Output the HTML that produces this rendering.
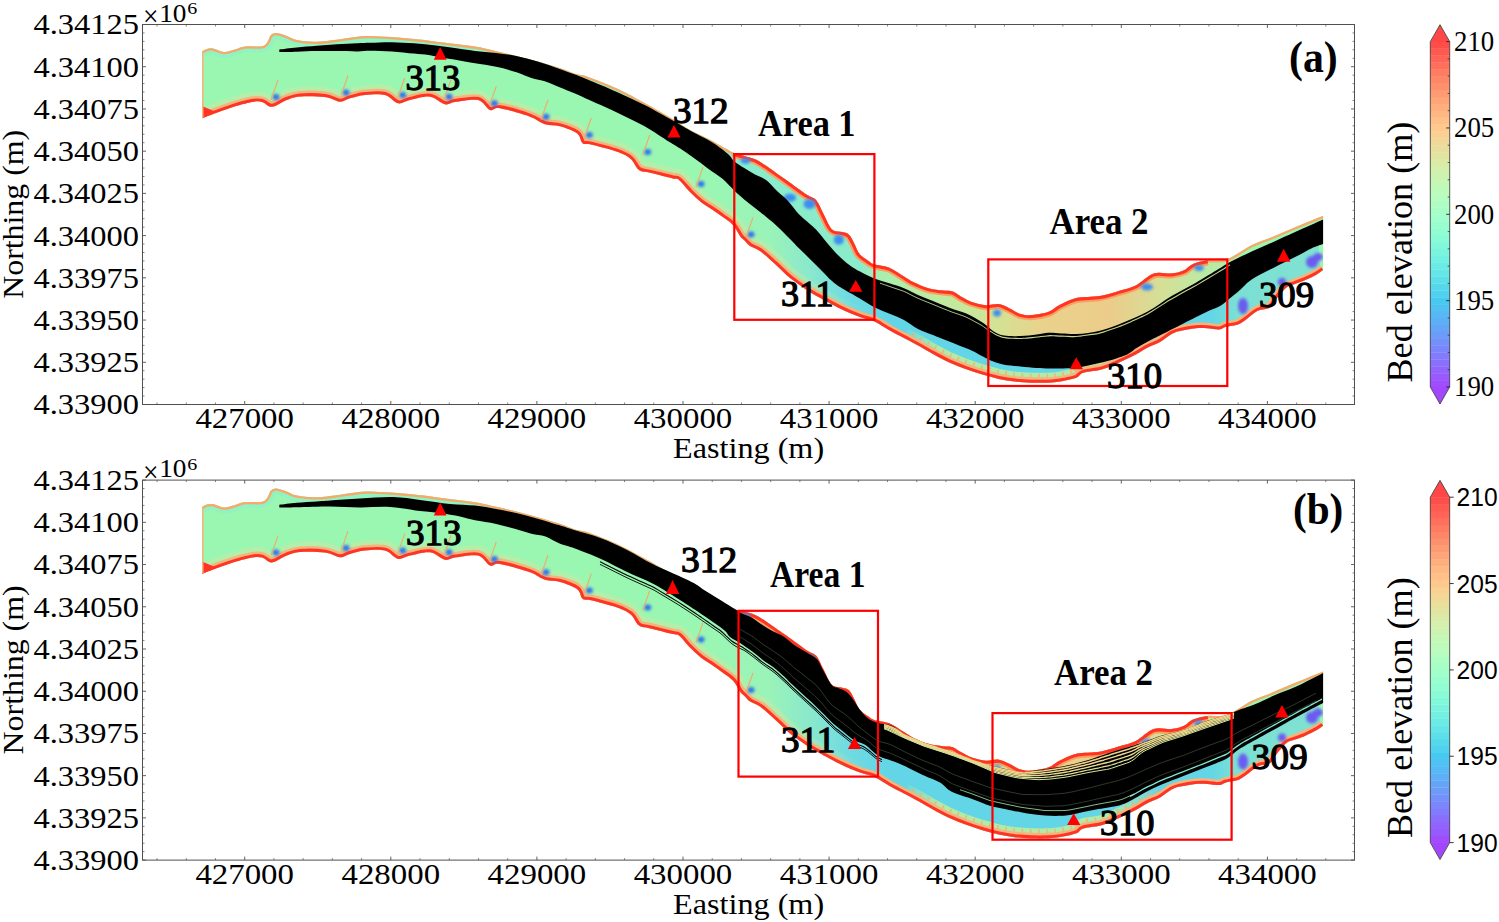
<!DOCTYPE html>
<html><head><meta charset="utf-8"><style>
html,body{margin:0;padding:0;background:#fff;}
svg{display:block;}
.tk{font-family:"Liberation Serif",serif;font-size:29px;fill:#000;}
.tks{font-family:"Liberation Sans",sans-serif;font-size:26px;fill:#000;}
.tnr{font-family:"Liberation Serif",serif;font-size:36.7px;fill:#000;}
.lb{font-family:"Liberation Serif",serif;font-weight:bold;fill:#000;}
.lbn{font-family:"Liberation Serif",serif;font-weight:normal;fill:#000;stroke:#000;stroke-width:1.3px;}
</style></head><body>
<svg width="1499" height="922" viewBox="0 0 1499 922">
<rect width="1499" height="922" fill="#fff"/>
<defs><clipPath id="rca"><path d="M202.0,51.5 C202.8,51.1 205.2,49.5 207.0,49.0 C208.8,48.5 210.2,48.0 213.0,48.5 C215.8,49.0 220.3,51.8 224.0,52.0 C227.7,52.2 231.5,50.4 235.0,49.5 C238.5,48.6 240.7,47.0 245.0,46.5 C249.3,46.0 257.5,46.9 261.0,46.5 C264.5,46.1 264.8,45.1 266.0,44.0 C267.2,42.9 267.7,41.5 268.5,40.0 C269.3,38.5 269.6,36.2 271.0,35.0 C272.4,33.8 274.1,32.8 276.7,33.0 C279.3,33.2 283.4,34.8 286.7,36.0 C290.0,37.2 291.7,39.0 296.7,40.0 C301.7,41.0 310.0,41.8 316.7,41.7 C323.4,41.7 331.1,40.4 336.7,39.7 C342.2,39.0 344.4,38.3 350.0,37.7 C355.6,37.1 359.3,35.8 370.0,36.0 C380.7,36.2 401.8,37.8 414.0,38.9 C426.2,40.0 433.2,41.3 443.4,42.6 C453.6,43.9 466.2,45.2 475.0,46.6 C483.8,48.0 489.1,49.6 496.2,51.2 C503.2,52.8 510.2,54.4 517.3,56.2 C524.3,58.0 531.5,59.8 538.5,61.8 C545.5,63.8 553.5,66.1 559.6,68.1 C565.7,70.1 570.2,72.3 575.0,73.8 C579.8,75.3 581.3,74.5 588.2,76.9 C595.1,79.3 607.0,83.9 616.4,88.2 C625.8,92.5 635.2,97.8 644.6,103.0 C654.0,108.2 665.2,114.7 672.8,119.2 C680.4,123.7 683.5,126.4 690.0,130.0 C696.5,133.6 704.5,137.0 711.7,140.8 C718.9,144.6 728.0,150.3 733.4,152.8 C738.8,155.3 740.6,154.9 744.2,156.0 C747.8,157.1 751.4,157.7 755.0,159.3 C758.6,160.9 762.4,163.5 766.0,165.8 C769.6,168.2 773.2,170.9 776.8,173.4 C780.4,175.9 782.7,177.5 787.6,181.0 C792.5,184.5 801.3,191.1 806.0,194.3 C810.7,197.5 813.2,196.9 816.0,200.0 C818.8,203.1 820.8,208.8 823.0,213.0 C825.2,217.2 827.3,222.3 829.0,225.2 C830.7,228.1 831.2,229.2 833.4,230.4 C835.6,231.6 839.5,231.4 842.1,232.1 C844.7,232.8 847.0,232.8 849.0,234.7 C851.0,236.6 852.5,240.2 854.2,243.4 C855.9,246.6 857.1,250.9 859.4,253.8 C861.7,256.7 865.6,258.9 868.1,260.7 C870.6,262.4 870.7,263.1 874.2,264.3 C877.7,265.5 884.3,265.7 889.3,267.7 C894.3,269.7 899.9,274.1 904.0,276.5 C908.1,278.9 909.6,280.4 913.7,282.3 C917.8,284.2 923.5,286.8 928.4,288.2 C933.3,289.6 938.9,290.0 943.0,290.6 C947.1,291.2 949.8,290.6 952.8,291.6 C955.8,292.6 957.6,294.8 960.8,296.5 C963.9,298.2 967.5,300.4 971.7,301.9 C975.9,303.3 981.3,304.8 985.8,305.2 C990.3,305.6 994.8,303.6 998.8,304.1 C1002.8,304.6 1006.1,306.8 1009.7,308.4 C1013.3,310.0 1016.7,312.8 1020.5,313.9 C1024.3,315.0 1027.9,315.4 1032.6,315.0 C1037.3,314.6 1044.3,313.3 1048.8,311.7 C1053.3,310.1 1054.9,307.4 1059.5,305.1 C1064.1,302.8 1069.7,299.6 1076.4,298.1 C1083.2,296.6 1093.0,297.3 1100.0,296.1 C1107.0,294.9 1112.7,292.8 1118.7,291.0 C1124.7,289.2 1130.0,288.3 1135.8,285.4 C1141.6,282.5 1147.7,275.5 1153.7,273.5 C1159.7,271.5 1166.6,274.0 1171.6,273.5 C1176.6,273.0 1179.9,272.1 1183.5,270.5 C1187.1,268.9 1189.1,265.6 1193.1,263.9 C1197.1,262.2 1201.7,261.1 1207.4,260.3 C1213.1,259.5 1219.7,261.6 1227.1,259.1 C1234.5,256.6 1244.0,248.9 1251.7,245.1 C1259.4,241.3 1266.2,239.5 1273.4,236.5 C1280.6,233.5 1286.8,230.6 1295.1,227.2 C1303.4,223.8 1318.4,217.7 1323.1,215.8 L1323.1,270.1 C1322.0,270.8 1319.7,272.8 1316.8,274.4 C1313.9,276.0 1309.5,278.2 1305.9,279.8 C1302.3,281.4 1298.2,282.7 1295.0,284.0 C1291.8,285.3 1289.4,285.1 1286.4,287.4 C1283.4,289.7 1279.7,294.6 1277.0,298.0 C1274.3,301.4 1273.2,305.4 1270.0,307.5 C1266.8,309.6 1261.8,308.7 1257.7,310.8 C1253.6,312.9 1248.8,317.7 1245.5,320.0 C1242.2,322.3 1240.5,323.5 1238.0,324.5 C1235.5,325.5 1232.5,325.6 1230.4,326.0 C1228.3,326.4 1227.2,326.5 1225.3,327.1 C1223.4,327.7 1222.3,329.3 1219.3,329.5 C1216.3,329.7 1211.4,328.5 1207.4,328.3 C1203.4,328.1 1200.1,327.9 1195.5,328.3 C1190.9,328.8 1184.0,330.1 1180.0,331.0 C1176.0,331.9 1174.9,332.2 1171.6,334.0 C1168.3,335.8 1164.0,339.8 1160.0,342.0 C1156.0,344.2 1152.2,345.1 1147.7,347.4 C1143.2,349.7 1140.0,352.4 1132.8,355.9 C1125.6,359.4 1112.8,365.8 1104.6,368.6 C1096.4,371.4 1088.1,371.3 1083.4,372.8 C1078.7,374.3 1080.3,376.2 1076.4,377.7 C1072.5,379.1 1064.7,380.7 1060.0,381.5 C1055.3,382.3 1053.0,382.5 1048.2,382.7 C1043.4,382.9 1036.8,382.9 1031.3,382.7 C1025.8,382.5 1020.4,382.2 1015.0,381.6 C1009.6,381.0 1004.2,380.1 998.8,378.9 C993.4,377.7 987.9,376.2 982.5,374.6 C977.1,373.0 971.7,371.2 966.3,369.2 C960.9,367.2 955.5,365.2 950.0,362.7 C944.5,360.2 938.0,356.7 933.0,354.0 C928.0,351.3 924.8,349.2 920.0,346.5 C915.2,343.8 909.1,340.7 904.0,338.0 C898.9,335.3 894.2,333.0 889.3,330.2 C884.4,327.4 879.5,323.6 874.6,321.4 C869.7,319.2 865.8,319.2 860.0,317.0 C854.2,314.8 846.8,311.7 840.0,308.4 C833.2,305.1 824.7,300.4 819.0,297.2 C813.3,294.0 810.8,292.6 806.0,289.4 C801.2,286.2 795.2,282.2 790.0,278.0 C784.8,273.8 780.0,268.5 775.0,264.0 C770.0,259.5 764.2,254.0 760.0,251.0 C755.8,248.0 752.5,247.7 750.0,246.0 C747.5,244.3 746.7,242.7 745.0,241.0 C743.3,239.3 741.9,238.6 740.0,236.0 C738.1,233.4 736.3,228.6 733.4,225.4 C730.5,222.2 726.1,219.5 722.5,216.8 C718.9,214.1 715.3,211.7 711.7,209.2 C708.1,206.7 704.4,204.9 700.8,202.0 C697.2,199.1 693.6,195.7 690.0,192.0 C686.4,188.3 681.9,182.3 679.0,180.0 C676.1,177.7 677.6,179.6 672.8,178.4 C668.0,177.2 655.8,174.2 650.2,172.8 C644.6,171.4 642.3,172.3 639.0,170.0 C635.7,167.7 634.3,161.8 630.5,158.7 C626.7,155.6 623.0,153.9 616.4,151.6 C609.8,149.2 596.6,146.0 591.0,144.6 C585.4,143.2 584.9,145.1 582.6,143.2 C580.3,141.3 580.8,136.1 577.0,133.3 C573.2,130.5 565.3,127.8 560.0,126.3 C554.7,124.8 550.0,125.8 545.0,124.2 C540.0,122.6 537.5,119.4 530.0,116.7 C522.5,114.0 506.7,109.4 500.0,108.3 C493.3,107.2 493.7,111.4 490.0,110.0 C486.3,108.6 483.8,101.3 478.0,100.0 C472.2,98.7 460.5,101.3 455.0,102.0 C449.5,102.7 449.2,105.1 445.0,104.2 C440.8,103.3 435.8,97.4 430.0,96.7 C424.2,96.0 415.3,98.9 410.0,100.0 C404.7,101.1 402.2,104.1 398.0,103.3 C393.8,102.5 390.5,96.4 385.0,95.0 C379.5,93.6 370.8,94.5 365.0,95.0 C359.2,95.5 354.2,97.2 350.0,98.3 C345.8,99.4 344.2,101.9 340.0,101.7 C335.8,101.5 331.7,97.9 325.0,97.0 C318.3,96.1 306.4,95.9 300.0,96.4 C293.6,96.9 291.5,98.2 286.8,99.9 C282.1,101.6 276.1,106.5 272.0,106.8 C267.9,107.1 265.3,102.8 262.0,102.0 C258.7,101.2 257.3,101.0 252.0,102.0 C246.7,103.0 238.3,105.3 230.0,108.0 C221.7,110.7 206.7,116.5 202.0,118.2Z"/></clipPath><linearGradient id="upa" gradientUnits="userSpaceOnUse" x1="700" y1="0" x2="1240" y2="0"><stop offset="0.000" stop-color="#9af7b2"/><stop offset="0.065" stop-color="#8aeccb"/><stop offset="0.296" stop-color="#8aeccb"/><stop offset="0.333" stop-color="#a8efb0"/><stop offset="0.437" stop-color="#bdeba0"/><stop offset="0.535" stop-color="#cfe596"/><stop offset="0.633" stop-color="#e9d28c"/><stop offset="0.759" stop-color="#eccc8a"/><stop offset="0.859" stop-color="#d4e098"/><stop offset="0.950" stop-color="#b6eca6"/><stop offset="1.000" stop-color="#a8efb0"/></linearGradient><linearGradient id="loa" gradientUnits="userSpaceOnUse" x1="700" y1="0" x2="1323" y2="0"><stop offset="0.000" stop-color="#9af7b2"/><stop offset="0.112" stop-color="#9af3b8"/><stop offset="0.177" stop-color="#8ae8cc"/><stop offset="0.241" stop-color="#6edae2"/><stop offset="0.305" stop-color="#62d6e6"/><stop offset="0.82" stop-color="#62d6e6"/><stop offset="0.86" stop-color="#7ae0d4"/><stop offset="1.000" stop-color="#80e2d0"/></linearGradient><filter id="bla" x="-50%" y="-50%" width="200%" height="200%"><feGaussianBlur stdDeviation="1.5"/></filter></defs>
<g clip-path="url(#rca)">
<rect x="195" y="20" width="1135" height="380" fill="#9af7b2"/>
<path d="M202.0,51.5 C202.8,51.1 205.2,49.5 207.0,49.0 C208.8,48.5 210.2,48.0 213.0,48.5 C215.8,49.0 220.3,51.8 224.0,52.0 C227.7,52.2 231.5,50.4 235.0,49.5 C238.5,48.6 240.7,47.0 245.0,46.5 C249.3,46.0 257.5,46.9 261.0,46.5 C264.5,46.1 264.8,45.1 266.0,44.0 C267.2,42.9 267.7,41.5 268.5,40.0 C269.3,38.5 269.6,36.2 271.0,35.0 C272.4,33.8 274.1,32.8 276.7,33.0 C279.3,33.2 283.4,34.8 286.7,36.0 C290.0,37.2 291.7,39.0 296.7,40.0 C301.7,41.0 310.0,41.8 316.7,41.7 C323.4,41.7 331.1,40.4 336.7,39.7 C342.2,39.0 344.4,38.3 350.0,37.7 C355.6,37.1 359.3,35.8 370.0,36.0 C380.7,36.2 401.8,37.8 414.0,38.9 C426.2,40.0 433.2,41.3 443.4,42.6 C453.6,43.9 466.2,45.2 475.0,46.6 C483.8,48.0 489.1,49.6 496.2,51.2 C503.2,52.8 510.2,54.4 517.3,56.2 C524.3,58.0 531.5,59.8 538.5,61.8 C545.5,63.8 553.5,66.1 559.6,68.1 C565.7,70.1 570.2,72.3 575.0,73.8 C579.8,75.3 581.3,74.5 588.2,76.9 C595.1,79.3 607.0,83.9 616.4,88.2 C625.8,92.5 635.2,97.8 644.6,103.0 C654.0,108.2 665.2,114.7 672.8,119.2 C680.4,123.7 683.5,126.4 690.0,130.0 C696.5,133.6 704.5,137.0 711.7,140.8 C718.9,144.6 728.0,150.3 733.4,152.8 C738.8,155.3 740.6,154.9 744.2,156.0 C747.8,157.1 751.4,157.7 755.0,159.3 C758.6,160.9 762.4,163.5 766.0,165.8 C769.6,168.2 775.0,172.1 776.8,173.4" fill="none" stroke="#8ef0c6" stroke-width="12" opacity="0.8"/>
<path d="M700.0,100.0 L700.0,149.1 L706.0,152.9 L712.0,156.8 L718.0,161.1 L724.0,165.6 L730.0,171.2 L736.0,177.3 L742.0,182.0 L748.0,186.4 L754.0,190.6 L760.0,194.5 L766.0,198.4 L772.0,203.9 L778.0,209.5 L784.0,215.2 L790.0,221.2 L796.0,227.9 L802.0,234.0 L808.0,239.6 L814.0,245.4 L820.0,251.7 L826.0,258.3 L832.0,264.8 L838.0,270.2 L844.0,274.9 L850.0,279.1 L856.0,282.7 L862.0,286.2 L868.0,289.4 L874.0,292.7 L880.0,294.9 L886.0,297.2 L892.0,299.5 L898.0,301.8 L904.0,304.1 L910.0,307.5 L916.0,310.9 L922.0,313.6 L928.0,316.0 L934.0,318.5 L940.0,320.9 L946.0,323.3 L952.0,325.7 L958.0,327.9 L964.0,330.1 L970.0,332.7 L976.0,335.8 L982.0,339.1 L988.0,342.9 L994.0,346.6 L1000.0,348.7 L1006.0,350.3 L1012.0,350.7 L1018.0,351.1 L1024.0,351.3 L1030.0,351.3 L1036.0,351.3 L1042.0,351.0 L1048.0,350.7 L1054.0,350.7 L1060.0,350.8 L1066.0,350.9 L1072.0,350.8 L1078.0,350.4 L1084.0,349.6 L1090.0,348.5 L1096.0,347.5 L1102.0,346.2 L1108.0,344.4 L1114.0,342.3 L1120.0,340.3 L1126.0,338.2 L1132.0,334.8 L1138.0,331.6 L1144.0,328.5 L1150.0,325.3 L1156.0,321.8 L1162.0,318.3 L1168.0,314.9 L1174.0,311.5 L1180.0,308.4 L1186.0,305.2 L1192.0,302.1 L1198.0,298.9 L1204.0,295.6 L1210.0,292.3 L1216.0,289.2 L1222.0,285.7 L1228.0,281.5 L1234.0,277.5 L1240.0,273.6 L1240.0,200.0Z" fill="url(#upa)"/>
<path d="M700.0,149.1 L706.0,152.9 L712.0,156.8 L718.0,161.1 L724.0,165.6 L730.0,171.2 L736.0,177.3 L742.0,182.0 L748.0,186.4 L754.0,190.6 L760.0,194.5 L766.0,198.4 L772.0,203.9 L778.0,209.5 L784.0,215.2 L790.0,221.2 L796.0,227.9 L802.0,234.0 L808.0,239.6 L814.0,245.4 L820.0,251.7 L826.0,258.3 L832.0,264.8 L838.0,270.2 L844.0,274.9 L850.0,279.1 L856.0,282.7 L862.0,286.2 L868.0,289.4 L874.0,292.7 L880.0,294.9 L886.0,297.2 L892.0,299.5 L898.0,301.8 L904.0,304.1 L910.0,307.5 L916.0,310.9 L922.0,313.6 L928.0,316.0 L934.0,318.5 L940.0,320.9 L946.0,323.3 L952.0,325.7 L958.0,327.9 L964.0,330.1 L970.0,332.7 L976.0,335.8 L982.0,339.1 L988.0,342.9 L994.0,346.6 L1000.0,348.7 L1006.0,350.3 L1012.0,350.7 L1018.0,351.1 L1024.0,351.3 L1030.0,351.3 L1036.0,351.3 L1042.0,351.0 L1048.0,350.7 L1054.0,350.7 L1060.0,350.8 L1066.0,350.9 L1072.0,350.8 L1078.0,350.4 L1084.0,349.6 L1090.0,348.5 L1096.0,347.5 L1102.0,346.2 L1108.0,344.4 L1114.0,342.3 L1120.0,340.3 L1126.0,338.2 L1132.0,334.8 L1138.0,331.6 L1144.0,328.5 L1150.0,325.3 L1156.0,321.8 L1162.0,318.3 L1168.0,314.9 L1174.0,311.5 L1180.0,308.4 L1186.0,305.2 L1192.0,302.1 L1198.0,298.9 L1204.0,295.6 L1210.0,292.3 L1216.0,289.2 L1222.0,285.7 L1228.0,281.5 L1234.0,277.5 L1240.0,273.6 L1246.0,269.5 L1252.0,265.4 L1258.0,262.5 L1264.0,259.5 L1270.0,256.6 L1276.0,253.7 L1282.0,250.8 L1288.0,248.0 L1294.0,245.1 L1300.0,242.2 L1306.0,239.2 L1312.0,236.3 L1318.0,233.9 L1330.0,420.0 L700.0,420.0Z" fill="url(#loa)"/>
<defs><linearGradient id="pba" gradientUnits="userSpaceOnUse" x1="780" y1="0" x2="870" y2="0"><stop offset="0" stop-color="#c9e8a4" stop-opacity="0.55"/><stop offset="1" stop-color="#c9e8a4" stop-opacity="0"/></linearGradient></defs>
<path d="M889.3,330.2 C886.8,328.7 879.5,323.6 874.6,321.4 C869.7,319.2 865.8,319.2 860.0,317.0 C854.2,314.8 846.8,311.7 840.0,308.4 C833.2,305.1 824.7,300.4 819.0,297.2 C813.3,294.0 810.8,292.6 806.0,289.4 C801.2,286.2 795.2,282.2 790.0,278.0 C784.8,273.8 780.0,268.5 775.0,264.0 C770.0,259.5 764.2,254.0 760.0,251.0 C755.8,248.0 752.5,247.7 750.0,246.0 C747.5,244.3 746.7,242.7 745.0,241.0 C743.3,239.3 741.9,238.6 740.0,236.0 C738.1,233.4 736.3,228.6 733.4,225.4 C730.5,222.2 726.1,219.5 722.5,216.8 C718.9,214.1 715.3,211.7 711.7,209.2 C708.1,206.7 704.4,204.9 700.8,202.0 C697.2,199.1 693.6,195.7 690.0,192.0 C686.4,188.3 681.9,182.3 679.0,180.0 C676.1,177.7 677.6,179.6 672.8,178.4 C668.0,177.2 655.8,174.2 650.2,172.8 C644.6,171.4 642.3,172.3 639.0,170.0 C635.7,167.7 634.3,161.8 630.5,158.7 C626.7,155.6 623.0,153.9 616.4,151.6 C609.8,149.2 596.6,146.0 591.0,144.6 C585.4,143.2 584.9,145.1 582.6,143.2 C580.3,141.3 580.8,136.1 577.0,133.3 C573.2,130.5 565.3,127.8 560.0,126.3 C554.7,124.8 550.0,125.8 545.0,124.2 C540.0,122.6 537.5,119.4 530.0,116.7 C522.5,114.0 506.7,109.4 500.0,108.3 C493.3,107.2 493.7,111.4 490.0,110.0 C486.3,108.6 483.8,101.3 478.0,100.0 C472.2,98.7 460.5,101.3 455.0,102.0 C449.5,102.7 449.2,105.1 445.0,104.2 C440.8,103.3 435.8,97.4 430.0,96.7 C424.2,96.0 415.3,98.9 410.0,100.0 C404.7,101.1 402.2,104.1 398.0,103.3 C393.8,102.5 390.5,96.4 385.0,95.0 C379.5,93.6 370.8,94.5 365.0,95.0 C359.2,95.5 354.2,97.2 350.0,98.3 C345.8,99.4 344.2,101.9 340.0,101.7 C335.8,101.5 331.7,97.9 325.0,97.0 C318.3,96.1 306.4,95.9 300.0,96.4 C293.6,96.9 291.5,98.2 286.8,99.9 C282.1,101.6 276.1,106.5 272.0,106.8 C267.9,107.1 265.3,102.8 262.0,102.0 C258.7,101.2 257.3,101.0 252.0,102.0 C246.7,103.0 238.3,105.3 230.0,108.0 C221.7,110.7 206.7,116.5 202.0,118.2" fill="none" stroke="url(#pba)" stroke-width="20"/>
<defs><linearGradient id="paa" gradientUnits="userSpaceOnUse" x1="900" y1="0" x2="1160" y2="0"><stop offset="0" stop-color="#b2eaa8" stop-opacity="0"/><stop offset="0.15" stop-color="#b2eaa8" stop-opacity="1"/><stop offset="0.8" stop-color="#b2eaa8" stop-opacity="1"/><stop offset="1" stop-color="#b2eaa8" stop-opacity="0"/></linearGradient></defs>
<path d="M1160.0,342.0 C1158.0,342.9 1152.2,345.1 1147.7,347.4 C1143.2,349.7 1140.0,352.4 1132.8,355.9 C1125.6,359.4 1112.8,365.8 1104.6,368.6 C1096.4,371.4 1088.1,371.3 1083.4,372.8 C1078.7,374.3 1080.3,376.2 1076.4,377.7 C1072.5,379.1 1064.7,380.7 1060.0,381.5 C1055.3,382.3 1053.0,382.5 1048.2,382.7 C1043.4,382.9 1036.8,382.9 1031.3,382.7 C1025.8,382.5 1020.4,382.2 1015.0,381.6 C1009.6,381.0 1004.2,380.1 998.8,378.9 C993.4,377.7 987.9,376.2 982.5,374.6 C977.1,373.0 971.7,371.2 966.3,369.2 C960.9,367.2 955.5,365.2 950.0,362.7 C944.5,360.2 938.0,356.7 933.0,354.0 C928.0,351.3 924.8,349.2 920.0,346.5 C915.2,343.8 906.7,339.4 904.0,338.0" fill="none" stroke="url(#paa)" stroke-width="20"/>
<path d="M1160.0,342.0 C1158.0,342.9 1152.2,345.1 1147.7,347.4 C1143.2,349.7 1140.0,352.4 1132.8,355.9 C1125.6,359.4 1112.8,365.8 1104.6,368.6 C1096.4,371.4 1088.1,371.3 1083.4,372.8 C1078.7,374.3 1080.3,376.2 1076.4,377.7 C1072.5,379.1 1064.7,380.7 1060.0,381.5 C1055.3,382.3 1053.0,382.5 1048.2,382.7 C1043.4,382.9 1036.8,382.9 1031.3,382.7 C1025.8,382.5 1020.4,382.2 1015.0,381.6 C1009.6,381.0 1004.2,380.1 998.8,378.9 C993.4,377.7 987.9,376.2 982.5,374.6 C977.1,373.0 971.7,371.2 966.3,369.2 C960.9,367.2 955.5,365.2 950.0,362.7 C944.5,360.2 938.0,356.7 933.0,354.0 C928.0,351.3 924.8,349.2 920.0,346.5 C915.2,343.8 906.7,339.4 904.0,338.0" fill="none" stroke="#f4ac70" stroke-width="18" stroke-dasharray="1.6 7" opacity="0.8"/>
<path d="M1323.1,270.1 C1322.0,270.8 1319.7,272.8 1316.8,274.4 C1313.9,276.0 1309.5,278.2 1305.9,279.8 C1302.3,281.4 1298.2,282.7 1295.0,284.0 C1291.8,285.3 1289.4,285.1 1286.4,287.4 C1283.4,289.7 1279.7,294.6 1277.0,298.0 C1274.3,301.4 1273.2,305.4 1270.0,307.5 C1266.8,309.6 1261.8,308.7 1257.7,310.8 C1253.6,312.9 1248.8,317.7 1245.5,320.0 C1242.2,322.3 1240.5,323.5 1238.0,324.5 C1235.5,325.5 1232.5,325.6 1230.4,326.0 C1228.3,326.4 1227.2,326.5 1225.3,327.1 C1223.4,327.7 1222.3,329.3 1219.3,329.5 C1216.3,329.7 1211.4,328.5 1207.4,328.3 C1203.4,328.1 1200.1,327.9 1195.5,328.3 C1190.9,328.8 1184.0,330.1 1180.0,331.0 C1176.0,331.9 1174.9,332.2 1171.6,334.0 C1168.3,335.8 1164.0,339.8 1160.0,342.0 C1156.0,344.2 1152.2,345.1 1147.7,347.4 C1143.2,349.7 1140.0,352.4 1132.8,355.9 C1125.6,359.4 1112.8,365.8 1104.6,368.6 C1096.4,371.4 1088.1,371.3 1083.4,372.8 C1078.7,374.3 1080.3,376.2 1076.4,377.7 C1072.5,379.1 1064.7,380.7 1060.0,381.5 C1055.3,382.3 1053.0,382.5 1048.2,382.7 C1043.4,382.9 1036.8,382.9 1031.3,382.7 C1025.8,382.5 1020.4,382.2 1015.0,381.6 C1009.6,381.0 1004.2,380.1 998.8,378.9 C993.4,377.7 987.9,376.2 982.5,374.6 C977.1,373.0 971.7,371.2 966.3,369.2 C960.9,367.2 955.5,365.2 950.0,362.7 C944.5,360.2 938.0,356.7 933.0,354.0 C928.0,351.3 924.8,349.2 920.0,346.5 C915.2,343.8 909.1,340.7 904.0,338.0 C898.9,335.3 894.2,333.0 889.3,330.2 C884.4,327.4 879.5,323.6 874.6,321.4 C869.7,319.2 865.8,319.2 860.0,317.0 C854.2,314.8 846.8,311.7 840.0,308.4 C833.2,305.1 824.7,300.4 819.0,297.2 C813.3,294.0 810.8,292.6 806.0,289.4 C801.2,286.2 795.2,282.2 790.0,278.0 C784.8,273.8 780.0,268.5 775.0,264.0 C770.0,259.5 764.2,254.0 760.0,251.0 C755.8,248.0 752.5,247.7 750.0,246.0 C747.5,244.3 746.7,242.7 745.0,241.0 C743.3,239.3 741.9,238.6 740.0,236.0 C738.1,233.4 736.3,228.6 733.4,225.4 C730.5,222.2 726.1,219.5 722.5,216.8 C718.9,214.1 715.3,211.7 711.7,209.2 C708.1,206.7 704.4,204.9 700.8,202.0 C697.2,199.1 693.6,195.7 690.0,192.0 C686.4,188.3 681.9,182.3 679.0,180.0 C676.1,177.7 677.6,179.6 672.8,178.4 C668.0,177.2 655.8,174.2 650.2,172.8 C644.6,171.4 642.3,172.3 639.0,170.0 C635.7,167.7 634.3,161.8 630.5,158.7 C626.7,155.6 623.0,153.9 616.4,151.6 C609.8,149.2 596.6,146.0 591.0,144.6 C585.4,143.2 584.9,145.1 582.6,143.2 C580.3,141.3 580.8,136.1 577.0,133.3 C573.2,130.5 565.3,127.8 560.0,126.3 C554.7,124.8 550.0,125.8 545.0,124.2 C540.0,122.6 537.5,119.4 530.0,116.7 C522.5,114.0 506.7,109.4 500.0,108.3 C493.3,107.2 493.7,111.4 490.0,110.0 C486.3,108.6 483.8,101.3 478.0,100.0 C472.2,98.7 460.5,101.3 455.0,102.0 C449.5,102.7 449.2,105.1 445.0,104.2 C440.8,103.3 435.8,97.4 430.0,96.7 C424.2,96.0 415.3,98.9 410.0,100.0 C404.7,101.1 402.2,104.1 398.0,103.3 C393.8,102.5 390.5,96.4 385.0,95.0 C379.5,93.6 370.8,94.5 365.0,95.0 C359.2,95.5 354.2,97.2 350.0,98.3 C345.8,99.4 344.2,101.9 340.0,101.7 C335.8,101.5 331.7,97.9 325.0,97.0 C318.3,96.1 306.4,95.9 300.0,96.4 C293.6,96.9 291.5,98.2 286.8,99.9 C282.1,101.6 276.1,106.5 272.0,106.8 C267.9,107.1 265.3,102.8 262.0,102.0 C258.7,101.2 257.3,101.0 252.0,102.0 C246.7,103.0 238.3,105.3 230.0,108.0 C221.7,110.7 206.7,116.5 202.0,118.2" fill="none" stroke="#f6b37a" stroke-width="11"/>
<path d="M1323.1,270.1 C1322.0,270.8 1319.7,272.8 1316.8,274.4 C1313.9,276.0 1309.5,278.2 1305.9,279.8 C1302.3,281.4 1298.2,282.7 1295.0,284.0 C1291.8,285.3 1289.4,285.1 1286.4,287.4 C1283.4,289.7 1279.7,294.6 1277.0,298.0 C1274.3,301.4 1273.2,305.4 1270.0,307.5 C1266.8,309.6 1261.8,308.7 1257.7,310.8 C1253.6,312.9 1248.8,317.7 1245.5,320.0 C1242.2,322.3 1240.5,323.5 1238.0,324.5 C1235.5,325.5 1232.5,325.6 1230.4,326.0 C1228.3,326.4 1227.2,326.5 1225.3,327.1 C1223.4,327.7 1222.3,329.3 1219.3,329.5 C1216.3,329.7 1211.4,328.5 1207.4,328.3 C1203.4,328.1 1200.1,327.9 1195.5,328.3 C1190.9,328.8 1184.0,330.1 1180.0,331.0 C1176.0,331.9 1174.9,332.2 1171.6,334.0 C1168.3,335.8 1164.0,339.8 1160.0,342.0 C1156.0,344.2 1152.2,345.1 1147.7,347.4 C1143.2,349.7 1140.0,352.4 1132.8,355.9 C1125.6,359.4 1112.8,365.8 1104.6,368.6 C1096.4,371.4 1088.1,371.3 1083.4,372.8 C1078.7,374.3 1080.3,376.2 1076.4,377.7 C1072.5,379.1 1064.7,380.7 1060.0,381.5 C1055.3,382.3 1053.0,382.5 1048.2,382.7 C1043.4,382.9 1036.8,382.9 1031.3,382.7 C1025.8,382.5 1020.4,382.2 1015.0,381.6 C1009.6,381.0 1004.2,380.1 998.8,378.9 C993.4,377.7 987.9,376.2 982.5,374.6 C977.1,373.0 971.7,371.2 966.3,369.2 C960.9,367.2 955.5,365.2 950.0,362.7 C944.5,360.2 938.0,356.7 933.0,354.0 C928.0,351.3 924.8,349.2 920.0,346.5 C915.2,343.8 909.1,340.7 904.0,338.0 C898.9,335.3 894.2,333.0 889.3,330.2 C884.4,327.4 879.5,323.6 874.6,321.4 C869.7,319.2 865.8,319.2 860.0,317.0 C854.2,314.8 846.8,311.7 840.0,308.4 C833.2,305.1 824.7,300.4 819.0,297.2 C813.3,294.0 810.8,292.6 806.0,289.4 C801.2,286.2 795.2,282.2 790.0,278.0 C784.8,273.8 780.0,268.5 775.0,264.0 C770.0,259.5 764.2,254.0 760.0,251.0 C755.8,248.0 752.5,247.7 750.0,246.0 C747.5,244.3 746.7,242.7 745.0,241.0 C743.3,239.3 741.9,238.6 740.0,236.0 C738.1,233.4 736.3,228.6 733.4,225.4 C730.5,222.2 726.1,219.5 722.5,216.8 C718.9,214.1 715.3,211.7 711.7,209.2 C708.1,206.7 704.4,204.9 700.8,202.0 C697.2,199.1 693.6,195.7 690.0,192.0 C686.4,188.3 681.9,182.3 679.0,180.0 C676.1,177.7 677.6,179.6 672.8,178.4 C668.0,177.2 655.8,174.2 650.2,172.8 C644.6,171.4 642.3,172.3 639.0,170.0 C635.7,167.7 634.3,161.8 630.5,158.7 C626.7,155.6 623.0,153.9 616.4,151.6 C609.8,149.2 596.6,146.0 591.0,144.6 C585.4,143.2 584.9,145.1 582.6,143.2 C580.3,141.3 580.8,136.1 577.0,133.3 C573.2,130.5 565.3,127.8 560.0,126.3 C554.7,124.8 550.0,125.8 545.0,124.2 C540.0,122.6 537.5,119.4 530.0,116.7 C522.5,114.0 506.7,109.4 500.0,108.3 C493.3,107.2 493.7,111.4 490.0,110.0 C486.3,108.6 483.8,101.3 478.0,100.0 C472.2,98.7 460.5,101.3 455.0,102.0 C449.5,102.7 449.2,105.1 445.0,104.2 C440.8,103.3 435.8,97.4 430.0,96.7 C424.2,96.0 415.3,98.9 410.0,100.0 C404.7,101.1 402.2,104.1 398.0,103.3 C393.8,102.5 390.5,96.4 385.0,95.0 C379.5,93.6 370.8,94.5 365.0,95.0 C359.2,95.5 354.2,97.2 350.0,98.3 C345.8,99.4 344.2,101.9 340.0,101.7 C335.8,101.5 331.7,97.9 325.0,97.0 C318.3,96.1 306.4,95.9 300.0,96.4 C293.6,96.9 291.5,98.2 286.8,99.9 C282.1,101.6 276.1,106.5 272.0,106.8 C267.9,107.1 265.3,102.8 262.0,102.0 C258.7,101.2 257.3,101.0 252.0,102.0 C246.7,103.0 238.3,105.3 230.0,108.0 C221.7,110.7 206.7,116.5 202.0,118.2" fill="none" stroke="#ff3326" stroke-width="6"/>
<path d="M202.0,51.5 C202.8,51.1 205.2,49.5 207.0,49.0 C208.8,48.5 210.2,48.0 213.0,48.5 C215.8,49.0 220.3,51.8 224.0,52.0 C227.7,52.2 231.5,50.4 235.0,49.5 C238.5,48.6 240.7,47.0 245.0,46.5 C249.3,46.0 257.5,46.9 261.0,46.5 C264.5,46.1 264.8,45.1 266.0,44.0 C267.2,42.9 267.7,41.5 268.5,40.0 C269.3,38.5 269.6,36.2 271.0,35.0 C272.4,33.8 274.1,32.8 276.7,33.0 C279.3,33.2 283.4,34.8 286.7,36.0 C290.0,37.2 291.7,39.0 296.7,40.0 C301.7,41.0 310.0,41.8 316.7,41.7 C323.4,41.7 331.1,40.4 336.7,39.7 C342.2,39.0 344.4,38.3 350.0,37.7 C355.6,37.1 359.3,35.8 370.0,36.0 C380.7,36.2 401.8,37.8 414.0,38.9 C426.2,40.0 433.2,41.3 443.4,42.6 C453.6,43.9 466.2,45.2 475.0,46.6 C483.8,48.0 489.1,49.6 496.2,51.2 C503.2,52.8 510.2,54.4 517.3,56.2 C524.3,58.0 531.5,59.8 538.5,61.8 C545.5,63.8 553.5,66.1 559.6,68.1 C565.7,70.1 570.2,72.3 575.0,73.8 C579.8,75.3 581.3,74.5 588.2,76.9 C595.1,79.3 607.0,83.9 616.4,88.2 C625.8,92.5 635.2,97.8 644.6,103.0 C654.0,108.2 665.2,114.7 672.8,119.2 C680.4,123.7 683.5,126.4 690.0,130.0 C696.5,133.6 704.5,137.0 711.7,140.8 C718.9,144.6 728.0,150.3 733.4,152.8 C738.8,155.3 740.6,154.9 744.2,156.0 C747.8,157.1 751.4,157.7 755.0,159.3 C758.6,160.9 762.4,163.5 766.0,165.8 C769.6,168.2 773.2,170.9 776.8,173.4 C780.4,175.9 782.7,177.5 787.6,181.0 C792.5,184.5 801.3,191.1 806.0,194.3 C810.7,197.5 813.2,196.9 816.0,200.0 C818.8,203.1 820.8,208.8 823.0,213.0 C825.2,217.2 827.3,222.3 829.0,225.2 C830.7,228.1 831.2,229.2 833.4,230.4 C835.6,231.6 839.5,231.4 842.1,232.1 C844.7,232.8 847.0,232.8 849.0,234.7 C851.0,236.6 852.5,240.2 854.2,243.4 C855.9,246.6 857.1,250.9 859.4,253.8 C861.7,256.7 865.6,258.9 868.1,260.7 C870.6,262.4 870.7,263.1 874.2,264.3 C877.7,265.5 884.3,265.7 889.3,267.7 C894.3,269.7 899.9,274.1 904.0,276.5 C908.1,278.9 909.6,280.4 913.7,282.3 C917.8,284.2 923.5,286.8 928.4,288.2 C933.3,289.6 938.9,290.0 943.0,290.6 C947.1,291.2 949.8,290.6 952.8,291.6 C955.8,292.6 957.6,294.8 960.8,296.5 C963.9,298.2 967.5,300.4 971.7,301.9 C975.9,303.3 981.3,304.8 985.8,305.2 C990.3,305.6 994.8,303.6 998.8,304.1 C1002.8,304.6 1006.1,306.8 1009.7,308.4 C1013.3,310.0 1016.7,312.8 1020.5,313.9 C1024.3,315.0 1027.9,315.4 1032.6,315.0 C1037.3,314.6 1044.3,313.3 1048.8,311.7 C1053.3,310.1 1054.9,307.4 1059.5,305.1 C1064.1,302.8 1069.7,299.6 1076.4,298.1 C1083.2,296.6 1093.0,297.3 1100.0,296.1 C1107.0,294.9 1112.7,292.8 1118.7,291.0 C1124.7,289.2 1130.0,288.3 1135.8,285.4 C1141.6,282.5 1147.7,275.5 1153.7,273.5 C1159.7,271.5 1166.6,274.0 1171.6,273.5 C1176.6,273.0 1179.9,272.1 1183.5,270.5 C1187.1,268.9 1189.1,265.6 1193.1,263.9 C1197.1,262.2 1201.7,261.1 1207.4,260.3 C1213.1,259.5 1219.7,261.6 1227.1,259.1 C1234.5,256.6 1244.0,248.9 1251.7,245.1 C1259.4,241.3 1266.2,239.5 1273.4,236.5 C1280.6,233.5 1286.8,230.6 1295.1,227.2 C1303.4,223.8 1318.4,217.7 1323.1,215.8" fill="none" stroke="#f8a868" stroke-width="4.5"/>
<path d="M733.4,152.8 C735.2,153.3 740.6,154.9 744.2,156.0 C747.8,157.1 751.4,157.7 755.0,159.3 C758.6,160.9 762.4,163.5 766.0,165.8 C769.6,168.2 773.2,170.9 776.8,173.4 C780.4,175.9 782.7,177.5 787.6,181.0 C792.5,184.5 801.3,191.1 806.0,194.3 C810.7,197.5 813.2,196.9 816.0,200.0 C818.8,203.1 820.8,208.8 823.0,213.0 C825.2,217.2 827.3,222.3 829.0,225.2 C830.7,228.1 831.2,229.2 833.4,230.4 C835.6,231.6 839.5,231.4 842.1,232.1 C844.7,232.8 847.0,232.8 849.0,234.7 C851.0,236.6 852.5,240.2 854.2,243.4 C855.9,246.6 857.1,250.9 859.4,253.8 C861.7,256.7 865.6,258.9 868.1,260.7 C870.6,262.4 870.7,263.1 874.2,264.3 C877.7,265.5 884.3,265.7 889.3,267.7 C894.3,269.7 899.9,274.1 904.0,276.5 C908.1,278.9 909.6,280.4 913.7,282.3 C917.8,284.2 923.5,286.8 928.4,288.2 C933.3,289.6 938.9,290.0 943.0,290.6 C947.1,291.2 949.8,290.6 952.8,291.6 C955.8,292.6 957.6,294.8 960.8,296.5 C963.9,298.2 967.5,300.4 971.7,301.9 C975.9,303.3 981.3,304.8 985.8,305.2 C990.3,305.6 994.8,303.6 998.8,304.1 C1002.8,304.6 1006.1,306.8 1009.7,308.4 C1013.3,310.0 1016.7,312.8 1020.5,313.9 C1024.3,315.0 1027.9,315.4 1032.6,315.0 C1037.3,314.6 1044.3,313.3 1048.8,311.7 C1053.3,310.1 1054.9,307.4 1059.5,305.1 C1064.1,302.8 1069.7,299.6 1076.4,298.1 C1083.2,296.6 1093.0,297.3 1100.0,296.1 C1107.0,294.9 1112.7,292.8 1118.7,291.0 C1124.7,289.2 1130.0,288.3 1135.8,285.4 C1141.6,282.5 1147.7,275.5 1153.7,273.5 C1159.7,271.5 1166.6,274.0 1171.6,273.5 C1176.6,273.0 1179.9,272.1 1183.5,270.5 C1187.1,268.9 1189.1,265.6 1193.1,263.9 C1197.1,262.2 1205.0,260.9 1207.4,260.3" fill="none" stroke="#f8a060" stroke-width="10"/>
<path d="M733.4,152.8 C735.2,153.3 740.6,154.9 744.2,156.0 C747.8,157.1 751.4,157.7 755.0,159.3 C758.6,160.9 762.4,163.5 766.0,165.8 C769.6,168.2 773.2,170.9 776.8,173.4 C780.4,175.9 782.7,177.5 787.6,181.0 C792.5,184.5 801.3,191.1 806.0,194.3 C810.7,197.5 813.2,196.9 816.0,200.0 C818.8,203.1 820.8,208.8 823.0,213.0 C825.2,217.2 827.3,222.3 829.0,225.2 C830.7,228.1 831.2,229.2 833.4,230.4 C835.6,231.6 839.5,231.4 842.1,232.1 C844.7,232.8 847.0,232.8 849.0,234.7 C851.0,236.6 852.5,240.2 854.2,243.4 C855.9,246.6 857.1,250.9 859.4,253.8 C861.7,256.7 865.6,258.9 868.1,260.7 C870.6,262.4 870.7,263.1 874.2,264.3 C877.7,265.5 884.3,265.7 889.3,267.7 C894.3,269.7 899.9,274.1 904.0,276.5 C908.1,278.9 909.6,280.4 913.7,282.3 C917.8,284.2 923.5,286.8 928.4,288.2 C933.3,289.6 938.9,290.0 943.0,290.6 C947.1,291.2 949.8,290.6 952.8,291.6 C955.8,292.6 957.6,294.8 960.8,296.5 C963.9,298.2 967.5,300.4 971.7,301.9 C975.9,303.3 981.3,304.8 985.8,305.2 C990.3,305.6 994.8,303.6 998.8,304.1 C1002.8,304.6 1006.1,306.8 1009.7,308.4 C1013.3,310.0 1016.7,312.8 1020.5,313.9 C1024.3,315.0 1027.9,315.4 1032.6,315.0 C1037.3,314.6 1044.3,313.3 1048.8,311.7 C1053.3,310.1 1054.9,307.4 1059.5,305.1 C1064.1,302.8 1069.7,299.6 1076.4,298.1 C1083.2,296.6 1093.0,297.3 1100.0,296.1 C1107.0,294.9 1112.7,292.8 1118.7,291.0 C1124.7,289.2 1130.0,288.3 1135.8,285.4 C1141.6,282.5 1147.7,275.5 1153.7,273.5 C1159.7,271.5 1166.6,274.0 1171.6,273.5 C1176.6,273.0 1179.9,272.1 1183.5,270.5 C1187.1,268.9 1189.1,265.6 1193.1,263.9 C1197.1,262.2 1205.0,260.9 1207.4,260.3" fill="none" stroke="#ff3326" stroke-width="6"/>
<path d="M202,106 L202,118.3 L216,112Z" fill="#ff3326"/>
<path d="M202,52 L202,118" stroke="#f6b37a" stroke-width="3"/>
<g filter="url(#bla)">
<ellipse cx="276.0" cy="97.0" rx="3.5" ry="3" fill="#2a70f0"/>
<ellipse cx="346.0" cy="92.5" rx="3.5" ry="3" fill="#2a70f0"/>
<ellipse cx="402.7" cy="95.0" rx="3.5" ry="3" fill="#2a70f0"/>
<ellipse cx="449.0" cy="96.7" rx="3.5" ry="3" fill="#2a70f0"/>
<ellipse cx="494.3" cy="103.3" rx="3.5" ry="3" fill="#2a70f0"/>
<ellipse cx="546.0" cy="116.7" rx="3.5" ry="3" fill="#2a70f0"/>
<ellipse cx="589.3" cy="135.0" rx="3.5" ry="3" fill="#2a70f0"/>
<ellipse cx="647.7" cy="152.0" rx="3.5" ry="3" fill="#2a70f0"/>
<ellipse cx="701.0" cy="184.0" rx="3.5" ry="3" fill="#2a70f0"/>
<ellipse cx="751.0" cy="234.4" rx="3.5" ry="3" fill="#2a70f0"/>
<ellipse cx="745.5" cy="160.7" rx="5" ry="3" fill="#3c8cf0"/>
<ellipse cx="790.0" cy="197.7" rx="6" ry="4" fill="#3c8cf0"/>
<ellipse cx="809.5" cy="204.0" rx="6" ry="5" fill="#3c8cf0"/>
<ellipse cx="838.8" cy="239.8" rx="5" ry="5" fill="#3c8cf0"/>
<ellipse cx="1147.0" cy="287.0" rx="6" ry="3.5" fill="#3c8cf0"/>
<ellipse cx="1199.0" cy="268.0" rx="5" ry="3" fill="#3c8cf0"/>
<ellipse cx="997.0" cy="313.0" rx="4" ry="3.5" fill="#3c8cf0"/>
<ellipse cx="1243.0" cy="306.0" rx="5" ry="8" fill="#6a5cf0"/>
<ellipse cx="1312.0" cy="262.0" rx="6" ry="6" fill="#6a5cf0"/>
<ellipse cx="1318.0" cy="257.0" rx="5" ry="4" fill="#6a5cf0"/>
<ellipse cx="1282.0" cy="282.0" rx="4" ry="4" fill="#6a5cf0"/>
</g>
<path d="M271.0,100.0 L278.0,80.0" stroke="#f4a868" stroke-width="1.1"/>
<path d="M341.0,95.5 L348.0,75.5" stroke="#f4a868" stroke-width="1.1"/>
<path d="M397.7,98.0 L404.7,78.0" stroke="#f4a868" stroke-width="1.1"/>
<path d="M444.0,99.7 L451.0,79.7" stroke="#f4a868" stroke-width="1.1"/>
<path d="M489.3,106.3 L496.3,86.3" stroke="#f4a868" stroke-width="1.1"/>
<path d="M541.0,119.7 L548.0,99.7" stroke="#f4a868" stroke-width="1.1"/>
<path d="M584.3,138.0 L591.3,118.0" stroke="#f4a868" stroke-width="1.1"/>
<path d="M642.7,155.0 L649.7,135.0" stroke="#f4a868" stroke-width="1.1"/>
<path d="M696.0,187.0 L703.0,167.0" stroke="#f4a868" stroke-width="1.1"/>
<path d="M746.0,237.4 L753.0,217.4" stroke="#f4a868" stroke-width="1.1"/>
</g>
<path d="M279.3,49.4 C282.2,49.1 290.5,48.0 296.7,47.4 C302.9,46.8 310.0,46.2 316.7,45.7 C323.4,45.2 330.0,44.7 336.7,44.3 C343.4,43.9 351.1,43.5 356.7,43.3 C362.2,43.0 364.1,43.0 370.0,42.8 C375.9,42.6 384.7,42.1 392.0,42.2 C399.3,42.3 406.7,42.8 414.0,43.3 C421.3,43.8 428.7,44.6 436.0,45.5 C443.3,46.4 451.5,47.6 458.0,48.5 C464.5,49.4 468.6,50.1 475.0,50.9 C481.4,51.6 489.1,52.1 496.2,53.0 C503.2,53.9 510.2,54.7 517.3,56.2 C524.3,57.7 531.5,59.7 538.5,61.8 C545.5,63.9 553.5,66.8 559.6,68.9 C565.7,71.0 570.2,72.7 575.0,74.5 C579.8,76.3 581.3,76.8 588.2,79.7 C595.1,82.6 607.0,87.5 616.4,91.7 C625.8,95.9 635.2,100.3 644.6,105.1 C654.0,109.9 665.2,116.4 672.8,120.6 C680.4,124.8 683.5,126.9 690.0,130.5 C696.5,134.1 705.4,138.1 711.7,142.0 C718.0,145.9 724.2,150.7 728.0,153.9 C731.8,157.2 731.8,159.2 734.5,161.5 C737.2,163.8 740.8,165.8 744.2,168.0 C747.6,170.2 751.4,172.5 755.0,174.5 C758.6,176.5 762.4,177.3 766.0,180.0 C769.6,182.7 773.2,187.3 776.8,190.7 C780.4,194.1 784.0,196.6 787.6,200.5 C791.2,204.4 795.4,210.4 798.7,213.9 C802.0,217.4 804.5,219.1 807.4,221.7 C810.3,224.3 813.1,226.5 816.0,229.5 C818.9,232.5 821.8,236.4 824.7,239.9 C827.6,243.4 830.5,247.1 833.4,250.3 C836.3,253.5 839.2,256.4 842.1,259.0 C845.0,261.6 847.7,263.8 850.7,265.9 C853.7,268.0 856.1,269.5 860.0,271.6 C863.9,273.7 869.3,276.4 874.2,278.4 C879.1,280.3 884.3,281.7 889.3,283.3 C894.3,284.9 899.2,286.2 904.0,288.2 C908.8,290.1 913.2,292.9 918.0,295.0 C922.8,297.1 927.7,298.8 933.0,301.0 C938.3,303.2 944.5,305.9 950.0,308.0 C955.5,310.1 960.9,311.1 966.3,313.5 C971.7,315.9 978.0,319.6 982.5,322.5 C987.0,325.4 989.8,329.0 993.4,331.2 C997.0,333.4 999.7,334.8 1004.2,335.6 C1008.7,336.4 1015.1,336.3 1020.5,336.1 C1025.9,335.9 1031.9,335.1 1036.8,334.5 C1041.7,333.9 1043.5,332.9 1050.0,332.8 C1056.5,332.7 1067.7,334.4 1076.0,334.0 C1084.3,333.6 1092.0,332.6 1100.0,330.7 C1108.0,328.8 1116.0,325.5 1123.9,322.3 C1131.9,319.1 1139.8,316.0 1147.7,311.6 C1155.7,307.2 1163.6,300.9 1171.6,296.1 C1179.6,291.3 1187.5,287.6 1195.5,283.0 C1203.5,278.4 1213.5,272.1 1219.3,268.6 C1225.0,265.1 1224.6,264.8 1230.0,262.0 C1235.4,259.2 1244.5,254.9 1251.7,251.6 C1258.9,248.2 1266.2,245.2 1273.4,241.9 C1280.6,238.7 1286.8,235.8 1295.1,232.1 C1303.4,228.4 1318.4,221.7 1323.1,219.6 L1323.1,244.0 C1321.1,244.7 1316.0,246.2 1311.3,248.4 C1306.6,250.6 1301.4,253.9 1295.1,257.1 C1288.8,260.4 1280.6,264.2 1273.4,267.9 C1266.2,271.6 1257.3,275.8 1251.7,279.5 C1246.1,283.2 1243.8,286.8 1240.0,290.0 C1236.2,293.2 1232.3,296.3 1229.0,299.0 C1225.7,301.7 1223.6,303.9 1220.0,306.0 C1216.4,308.1 1213.5,308.7 1207.4,311.6 C1201.3,314.5 1191.5,319.5 1183.5,323.5 C1175.5,327.5 1165.8,332.4 1159.7,335.5 C1153.6,338.6 1151.0,339.8 1147.0,342.0 C1143.0,344.2 1139.3,346.3 1135.8,348.5 C1132.3,350.7 1131.1,352.8 1126.0,355.0 C1120.9,357.2 1112.1,359.9 1105.0,361.8 C1097.9,363.7 1089.4,365.3 1083.4,366.4 C1077.4,367.5 1074.6,367.9 1069.0,368.2 C1063.4,368.5 1055.4,368.4 1050.0,368.4 C1044.6,368.4 1041.7,368.3 1036.8,368.0 C1031.9,367.7 1025.9,367.0 1020.5,366.5 C1015.1,366.0 1008.7,365.6 1004.2,364.8 C999.7,364.0 997.0,363.0 993.4,361.6 C989.8,360.2 986.1,358.0 982.5,356.2 C978.9,354.4 975.9,352.5 972.0,350.7 C968.1,348.9 963.3,347.2 959.0,345.5 C954.7,343.8 950.3,342.0 946.0,340.3 C941.7,338.6 937.7,337.0 933.0,335.1 C928.3,333.2 922.8,331.5 918.0,329.0 C913.2,326.5 908.8,322.6 904.0,320.0 C899.2,317.4 894.0,315.7 889.0,313.5 C884.0,311.3 879.0,309.6 874.0,307.0 C869.0,304.4 864.7,301.3 859.0,298.0 C853.3,294.7 844.7,290.0 840.0,287.0 C835.3,284.0 833.3,282.2 830.8,280.0 C828.2,277.8 827.2,276.3 824.7,273.8 C822.2,271.3 818.9,268.0 816.0,265.1 C813.1,262.2 810.3,259.2 807.4,256.4 C804.5,253.5 801.6,250.9 798.7,248.0 C795.8,245.1 793.6,242.7 790.0,239.0 C786.4,235.3 780.8,229.7 776.8,226.0 C772.8,222.3 769.6,219.8 766.0,216.8 C762.4,213.8 758.6,211.0 755.0,208.1 C751.4,205.2 747.6,202.3 744.2,199.4 C740.8,196.5 738.1,194.1 734.5,190.7 C730.9,187.3 726.3,182.1 722.5,178.8 C718.7,175.6 715.3,173.8 711.7,171.2 C708.1,168.6 704.4,165.7 700.8,163.0 C697.2,160.3 693.1,157.5 690.0,155.3 C686.9,153.1 685.5,151.9 682.0,149.7 C678.5,147.4 675.2,145.7 669.0,141.8 C662.8,137.9 653.4,131.2 644.6,126.3 C635.8,121.4 625.8,116.7 616.4,112.2 C607.0,107.7 595.1,102.6 588.2,99.5 C581.3,96.4 579.8,95.5 575.0,93.5 C570.2,91.5 564.5,89.2 559.6,87.2 C554.7,85.2 550.2,83.0 545.5,81.5 C540.8,80.0 536.1,79.5 531.4,78.0 C526.7,76.5 523.2,74.3 517.3,72.4 C511.4,70.5 503.2,68.2 496.2,66.7 C489.1,65.2 481.4,64.3 475.0,63.2 C468.6,62.1 463.3,61.1 458.0,60.2 C452.7,59.3 448.3,58.9 443.4,58.0 C438.5,57.1 433.6,55.8 428.7,55.1 C423.8,54.4 420.1,54.2 414.0,53.6 C407.9,53.0 399.3,51.9 392.0,51.4 C384.7,50.9 375.9,50.7 370.0,50.7 C364.1,50.7 362.2,51.4 356.7,51.4 C351.1,51.4 343.4,51.1 336.7,51.0 C330.0,50.9 323.4,50.9 316.7,51.0 C310.0,51.1 302.9,51.5 296.7,51.7 C290.5,51.9 282.2,52.0 279.3,52.0Z" fill="#000"/>
<path d="M990.0,331.0 C991.0,331.6 994.0,333.7 996.0,334.7 C998.0,335.7 1000.0,336.5 1002.0,337.1 C1004.0,337.6 1006.0,337.9 1008.0,338.1 C1010.0,338.3 1012.0,338.2 1014.0,338.3 C1016.0,338.4 1018.0,338.6 1020.0,338.5 C1022.0,338.5 1024.0,338.2 1026.0,338.1 C1028.0,337.9 1030.0,337.8 1032.0,337.6 C1034.0,337.4 1036.0,337.2 1038.0,337.0 C1040.0,336.8 1042.0,336.6 1044.0,336.3 C1046.0,336.1 1048.0,335.7 1050.0,335.6 C1052.0,335.6 1054.0,335.8 1056.0,335.9 C1058.0,336.0 1060.0,336.1 1062.0,336.1 C1064.0,336.2 1066.0,336.3 1068.0,336.4 C1070.0,336.5 1072.0,336.6 1074.0,336.6 C1076.0,336.6 1078.0,336.3 1080.0,336.1 C1082.0,335.9 1084.0,335.6 1086.0,335.3 C1088.0,335.0 1090.0,334.7 1092.0,334.4 C1094.0,334.1 1096.0,334.0 1098.0,333.6 C1100.0,333.1 1102.0,332.5 1104.0,331.9 C1106.0,331.3 1108.0,330.5 1110.0,329.8 C1112.0,329.1 1114.0,328.4 1116.0,327.7 C1118.0,327.0 1120.0,326.4 1122.0,325.6 C1124.0,324.9 1126.0,324.0 1128.0,323.1 C1130.0,322.2 1132.0,321.2 1134.0,320.3 C1136.0,319.4 1138.0,318.5 1140.0,317.5 C1142.0,316.6 1144.0,315.8 1146.0,314.8 C1148.0,313.7 1150.0,312.5 1152.0,311.3 C1154.0,310.0 1156.0,308.7 1158.0,307.4 C1160.0,306.2 1162.0,304.9 1164.0,303.6 C1166.0,302.3 1168.0,301.0 1170.0,299.8 C1172.0,298.6 1174.0,297.5 1176.0,296.4 C1178.0,295.3 1180.0,294.2 1182.0,293.1 C1184.0,292.0 1186.0,290.9 1188.0,289.8 C1190.0,288.8 1192.0,287.7 1194.0,286.6 C1196.0,285.5 1198.0,284.3 1200.0,283.1 C1202.0,281.9 1204.0,280.7 1206.0,279.5 C1208.0,278.3 1210.0,277.1 1212.0,275.9 C1214.0,274.8 1216.0,273.6 1218.0,272.4 C1220.0,271.2 1222.0,269.9 1224.0,268.7 C1226.0,267.4 1229.0,265.5 1230.0,264.9" fill="none" stroke="#d8eea0" stroke-width="1.1" opacity="0.9"/>
<path d="M880.0,283.2 C881.0,283.5 884.0,284.6 886.0,285.2 C888.0,285.9 890.0,286.6 892.0,287.3 C894.0,287.9 896.0,288.6 898.0,289.3 C900.0,290.0 902.0,290.5 904.0,291.4 C906.0,292.2 908.0,293.4 910.0,294.4 C912.0,295.4 914.0,296.5 916.0,297.4 C918.0,298.3 920.0,299.2 922.0,300.0 C924.0,300.8 926.0,301.6 928.0,302.4 C930.0,303.2 932.0,304.0 934.0,304.8 C936.0,305.6 938.0,306.5 940.0,307.3 C942.0,308.1 944.0,308.9 946.0,309.7 C948.0,310.5 950.0,311.3 952.0,312.1 C954.0,312.8 956.0,313.5 958.0,314.1 C960.0,314.8 962.0,315.4 964.0,316.2 C966.0,317.0 968.0,318.0 970.0,319.0 C972.0,320.0 974.0,321.2 976.0,322.3 C978.0,323.4 980.0,324.3 982.0,325.6 C984.0,326.9 987.0,329.3 988.0,330.1" fill="none" stroke="#c8eea8" stroke-width="1" opacity="0.8"/>
<path d="M433.8,59.8L440.2,47.0L446.6,59.8Z" fill="#f00"/>
<path d="M667.4,137.5L674.0,125.0L680.6,137.5Z" fill="#f00"/>
<path d="M849.1,291.8L855.7,280.0L862.4,291.8Z" fill="#f00"/>
<path d="M1069.6,369.2L1076.3,357.3L1083.0,369.2Z" fill="#f00"/>
<path d="M1277.0,261.8L1283.7,248.8L1290.4,261.8Z" fill="#f00"/>
<rect x="734.3" y="154.1" width="140.10000000000002" height="165.70000000000002" fill="none" stroke="#f00" stroke-width="2.2"/>
<rect x="988.3" y="259.4" width="239.0" height="126.60000000000002" fill="none" stroke="#f00" stroke-width="2.2"/>
<text x="405.5" y="89.5" class="lbn" style="font-size:36.8px" textLength="54.61" lengthAdjust="spacingAndGlyphs">313</text>
<text x="673.0" y="122.5" class="lbn" style="font-size:36.8px" textLength="55.61" lengthAdjust="spacingAndGlyphs">312</text>
<text x="781.0" y="306.0" class="lbn" style="font-size:36.8px" textLength="52.61" lengthAdjust="spacingAndGlyphs">311</text>
<text x="1107.0" y="387.5" class="lbn" style="font-size:36.8px" textLength="55.09" lengthAdjust="spacingAndGlyphs">310</text>
<text x="1259.0" y="307.0" class="lbn" style="font-size:36.8px" textLength="55.07" lengthAdjust="spacingAndGlyphs">309</text>
<text x="758.0" y="136.0" class="lb" style="font-size:38.0px" textLength="97.54" lengthAdjust="spacingAndGlyphs">Area 1</text>
<text x="1049.5" y="234.0" class="lb" style="font-size:38.0px" textLength="99.05" lengthAdjust="spacingAndGlyphs">Area 2</text>
<text x="1289.0" y="72.0" class="lb" style="font-size:44.5px" textLength="48.77" lengthAdjust="spacingAndGlyphs">(a)</text>
<path d="M142.5,24.50h3.5M1354.5,24.50h-3.5" stroke="#505050" stroke-width="0.9"/>
<text x="139" y="34.4" text-anchor="end" class="tk" textLength="105.5" lengthAdjust="spacingAndGlyphs">4.34125</text>
<path d="M142.5,32.94h2M1354.5,32.94h-2" stroke="#505050" stroke-width="0.7"/>
<path d="M142.5,41.39h2M1354.5,41.39h-2" stroke="#505050" stroke-width="0.7"/>
<path d="M142.5,49.83h2M1354.5,49.83h-2" stroke="#505050" stroke-width="0.7"/>
<path d="M142.5,58.28h2M1354.5,58.28h-2" stroke="#505050" stroke-width="0.7"/>
<path d="M142.5,66.72h3.5M1354.5,66.72h-3.5" stroke="#505050" stroke-width="0.9"/>
<text x="139" y="76.6" text-anchor="end" class="tk" textLength="105.5" lengthAdjust="spacingAndGlyphs">4.34100</text>
<path d="M142.5,75.17h2M1354.5,75.17h-2" stroke="#505050" stroke-width="0.7"/>
<path d="M142.5,83.61h2M1354.5,83.61h-2" stroke="#505050" stroke-width="0.7"/>
<path d="M142.5,92.06h2M1354.5,92.06h-2" stroke="#505050" stroke-width="0.7"/>
<path d="M142.5,100.50h2M1354.5,100.50h-2" stroke="#505050" stroke-width="0.7"/>
<path d="M142.5,108.94h3.5M1354.5,108.94h-3.5" stroke="#505050" stroke-width="0.9"/>
<text x="139" y="118.8" text-anchor="end" class="tk" textLength="105.5" lengthAdjust="spacingAndGlyphs">4.34075</text>
<path d="M142.5,117.39h2M1354.5,117.39h-2" stroke="#505050" stroke-width="0.7"/>
<path d="M142.5,125.83h2M1354.5,125.83h-2" stroke="#505050" stroke-width="0.7"/>
<path d="M142.5,134.28h2M1354.5,134.28h-2" stroke="#505050" stroke-width="0.7"/>
<path d="M142.5,142.72h2M1354.5,142.72h-2" stroke="#505050" stroke-width="0.7"/>
<path d="M142.5,151.17h3.5M1354.5,151.17h-3.5" stroke="#505050" stroke-width="0.9"/>
<text x="139" y="161.1" text-anchor="end" class="tk" textLength="105.5" lengthAdjust="spacingAndGlyphs">4.34050</text>
<path d="M142.5,159.61h2M1354.5,159.61h-2" stroke="#505050" stroke-width="0.7"/>
<path d="M142.5,168.06h2M1354.5,168.06h-2" stroke="#505050" stroke-width="0.7"/>
<path d="M142.5,176.50h2M1354.5,176.50h-2" stroke="#505050" stroke-width="0.7"/>
<path d="M142.5,184.94h2M1354.5,184.94h-2" stroke="#505050" stroke-width="0.7"/>
<path d="M142.5,193.39h3.5M1354.5,193.39h-3.5" stroke="#505050" stroke-width="0.9"/>
<text x="139" y="203.3" text-anchor="end" class="tk" textLength="105.5" lengthAdjust="spacingAndGlyphs">4.34025</text>
<path d="M142.5,201.83h2M1354.5,201.83h-2" stroke="#505050" stroke-width="0.7"/>
<path d="M142.5,210.28h2M1354.5,210.28h-2" stroke="#505050" stroke-width="0.7"/>
<path d="M142.5,218.72h2M1354.5,218.72h-2" stroke="#505050" stroke-width="0.7"/>
<path d="M142.5,227.17h2M1354.5,227.17h-2" stroke="#505050" stroke-width="0.7"/>
<path d="M142.5,235.61h3.5M1354.5,235.61h-3.5" stroke="#505050" stroke-width="0.9"/>
<text x="139" y="245.5" text-anchor="end" class="tk" textLength="105.5" lengthAdjust="spacingAndGlyphs">4.34000</text>
<path d="M142.5,244.06h2M1354.5,244.06h-2" stroke="#505050" stroke-width="0.7"/>
<path d="M142.5,252.50h2M1354.5,252.50h-2" stroke="#505050" stroke-width="0.7"/>
<path d="M142.5,260.94h2M1354.5,260.94h-2" stroke="#505050" stroke-width="0.7"/>
<path d="M142.5,269.39h2M1354.5,269.39h-2" stroke="#505050" stroke-width="0.7"/>
<path d="M142.5,277.83h3.5M1354.5,277.83h-3.5" stroke="#505050" stroke-width="0.9"/>
<text x="139" y="287.7" text-anchor="end" class="tk" textLength="105.5" lengthAdjust="spacingAndGlyphs">4.33975</text>
<path d="M142.5,286.28h2M1354.5,286.28h-2" stroke="#505050" stroke-width="0.7"/>
<path d="M142.5,294.72h2M1354.5,294.72h-2" stroke="#505050" stroke-width="0.7"/>
<path d="M142.5,303.17h2M1354.5,303.17h-2" stroke="#505050" stroke-width="0.7"/>
<path d="M142.5,311.61h2M1354.5,311.61h-2" stroke="#505050" stroke-width="0.7"/>
<path d="M142.5,320.06h3.5M1354.5,320.06h-3.5" stroke="#505050" stroke-width="0.9"/>
<text x="139" y="330.0" text-anchor="end" class="tk" textLength="105.5" lengthAdjust="spacingAndGlyphs">4.33950</text>
<path d="M142.5,328.50h2M1354.5,328.50h-2" stroke="#505050" stroke-width="0.7"/>
<path d="M142.5,336.94h2M1354.5,336.94h-2" stroke="#505050" stroke-width="0.7"/>
<path d="M142.5,345.39h2M1354.5,345.39h-2" stroke="#505050" stroke-width="0.7"/>
<path d="M142.5,353.83h2M1354.5,353.83h-2" stroke="#505050" stroke-width="0.7"/>
<path d="M142.5,362.28h3.5M1354.5,362.28h-3.5" stroke="#505050" stroke-width="0.9"/>
<text x="139" y="372.2" text-anchor="end" class="tk" textLength="105.5" lengthAdjust="spacingAndGlyphs">4.33925</text>
<path d="M142.5,370.72h2M1354.5,370.72h-2" stroke="#505050" stroke-width="0.7"/>
<path d="M142.5,379.17h2M1354.5,379.17h-2" stroke="#505050" stroke-width="0.7"/>
<path d="M142.5,387.61h2M1354.5,387.61h-2" stroke="#505050" stroke-width="0.7"/>
<path d="M142.5,396.06h2M1354.5,396.06h-2" stroke="#505050" stroke-width="0.7"/>
<path d="M142.5,404.50h3.5M1354.5,404.50h-3.5" stroke="#505050" stroke-width="0.9"/>
<text x="139" y="414.4" text-anchor="end" class="tk" textLength="105.5" lengthAdjust="spacingAndGlyphs">4.33900</text>
<path d="M157.04,404.5v-2M157.04,24.5v2" stroke="#505050" stroke-width="0.7"/>
<path d="M186.26,404.5v-2M186.26,24.5v2" stroke="#505050" stroke-width="0.7"/>
<path d="M215.48,404.5v-2M215.48,24.5v2" stroke="#505050" stroke-width="0.7"/>
<path d="M244.70,404.5v-3.5M244.70,24.5v3.5" stroke="#505050" stroke-width="0.9"/>
<text x="244.7" y="428.2" text-anchor="middle" class="tk" textLength="98.6" lengthAdjust="spacingAndGlyphs">427000</text>
<path d="M273.92,404.5v-2M273.92,24.5v2" stroke="#505050" stroke-width="0.7"/>
<path d="M303.14,404.5v-2M303.14,24.5v2" stroke="#505050" stroke-width="0.7"/>
<path d="M332.36,404.5v-2M332.36,24.5v2" stroke="#505050" stroke-width="0.7"/>
<path d="M361.58,404.5v-2M361.58,24.5v2" stroke="#505050" stroke-width="0.7"/>
<path d="M390.80,404.5v-3.5M390.80,24.5v3.5" stroke="#505050" stroke-width="0.9"/>
<text x="390.8" y="428.2" text-anchor="middle" class="tk" textLength="98.6" lengthAdjust="spacingAndGlyphs">428000</text>
<path d="M420.02,404.5v-2M420.02,24.5v2" stroke="#505050" stroke-width="0.7"/>
<path d="M449.24,404.5v-2M449.24,24.5v2" stroke="#505050" stroke-width="0.7"/>
<path d="M478.46,404.5v-2M478.46,24.5v2" stroke="#505050" stroke-width="0.7"/>
<path d="M507.68,404.5v-2M507.68,24.5v2" stroke="#505050" stroke-width="0.7"/>
<path d="M536.90,404.5v-3.5M536.90,24.5v3.5" stroke="#505050" stroke-width="0.9"/>
<text x="536.9" y="428.2" text-anchor="middle" class="tk" textLength="98.6" lengthAdjust="spacingAndGlyphs">429000</text>
<path d="M566.12,404.5v-2M566.12,24.5v2" stroke="#505050" stroke-width="0.7"/>
<path d="M595.34,404.5v-2M595.34,24.5v2" stroke="#505050" stroke-width="0.7"/>
<path d="M624.56,404.5v-2M624.56,24.5v2" stroke="#505050" stroke-width="0.7"/>
<path d="M653.78,404.5v-2M653.78,24.5v2" stroke="#505050" stroke-width="0.7"/>
<path d="M683.00,404.5v-3.5M683.00,24.5v3.5" stroke="#505050" stroke-width="0.9"/>
<text x="683.0" y="428.2" text-anchor="middle" class="tk" textLength="98.6" lengthAdjust="spacingAndGlyphs">430000</text>
<path d="M712.22,404.5v-2M712.22,24.5v2" stroke="#505050" stroke-width="0.7"/>
<path d="M741.44,404.5v-2M741.44,24.5v2" stroke="#505050" stroke-width="0.7"/>
<path d="M770.66,404.5v-2M770.66,24.5v2" stroke="#505050" stroke-width="0.7"/>
<path d="M799.88,404.5v-2M799.88,24.5v2" stroke="#505050" stroke-width="0.7"/>
<path d="M829.10,404.5v-3.5M829.10,24.5v3.5" stroke="#505050" stroke-width="0.9"/>
<text x="829.1" y="428.2" text-anchor="middle" class="tk" textLength="98.6" lengthAdjust="spacingAndGlyphs">431000</text>
<path d="M858.32,404.5v-2M858.32,24.5v2" stroke="#505050" stroke-width="0.7"/>
<path d="M887.54,404.5v-2M887.54,24.5v2" stroke="#505050" stroke-width="0.7"/>
<path d="M916.76,404.5v-2M916.76,24.5v2" stroke="#505050" stroke-width="0.7"/>
<path d="M945.98,404.5v-2M945.98,24.5v2" stroke="#505050" stroke-width="0.7"/>
<path d="M975.20,404.5v-3.5M975.20,24.5v3.5" stroke="#505050" stroke-width="0.9"/>
<text x="975.2" y="428.2" text-anchor="middle" class="tk" textLength="98.6" lengthAdjust="spacingAndGlyphs">432000</text>
<path d="M1004.42,404.5v-2M1004.42,24.5v2" stroke="#505050" stroke-width="0.7"/>
<path d="M1033.64,404.5v-2M1033.64,24.5v2" stroke="#505050" stroke-width="0.7"/>
<path d="M1062.86,404.5v-2M1062.86,24.5v2" stroke="#505050" stroke-width="0.7"/>
<path d="M1092.08,404.5v-2M1092.08,24.5v2" stroke="#505050" stroke-width="0.7"/>
<path d="M1121.30,404.5v-3.5M1121.30,24.5v3.5" stroke="#505050" stroke-width="0.9"/>
<text x="1121.3" y="428.2" text-anchor="middle" class="tk" textLength="98.6" lengthAdjust="spacingAndGlyphs">433000</text>
<path d="M1150.52,404.5v-2M1150.52,24.5v2" stroke="#505050" stroke-width="0.7"/>
<path d="M1179.74,404.5v-2M1179.74,24.5v2" stroke="#505050" stroke-width="0.7"/>
<path d="M1208.96,404.5v-2M1208.96,24.5v2" stroke="#505050" stroke-width="0.7"/>
<path d="M1238.18,404.5v-2M1238.18,24.5v2" stroke="#505050" stroke-width="0.7"/>
<path d="M1267.40,404.5v-3.5M1267.40,24.5v3.5" stroke="#505050" stroke-width="0.9"/>
<text x="1267.4" y="428.2" text-anchor="middle" class="tk" textLength="98.6" lengthAdjust="spacingAndGlyphs">434000</text>
<path d="M1296.62,404.5v-2M1296.62,24.5v2" stroke="#505050" stroke-width="0.7"/>
<path d="M1325.84,404.5v-2M1325.84,24.5v2" stroke="#505050" stroke-width="0.7"/>
<rect x="142.5" y="24.5" width="1212.0" height="380.0" fill="none" stroke="#505050" stroke-width="1"/>
<text x="143" y="26.2" class="tk" style="font-size:30px" textLength="15.5" lengthAdjust="spacingAndGlyphs">×</text>
<text x="159.2" y="21.5" class="tk" style="font-size:24.4px" textLength="27.3" lengthAdjust="spacingAndGlyphs">10</text>
<text x="187.2" y="13.9" class="tk" style="font-size:17.5px" textLength="10" lengthAdjust="spacingAndGlyphs">6</text>
<text x="748.6" y="458.0" text-anchor="middle" class="tk" textLength="151" lengthAdjust="spacingAndGlyphs">Easting (m)</text>
<text transform="translate(23.3,214.3) rotate(-90)" text-anchor="middle" class="tk" textLength="169" lengthAdjust="spacingAndGlyphs">Northing (m)</text>
<rect x="1430.3" y="380.09" width="19.4" height="7.21" fill="#a04dff"/>
<rect x="1430.3" y="373.18" width="19.4" height="7.21" fill="#9859ff"/>
<rect x="1430.3" y="366.28" width="19.4" height="7.21" fill="#9164fe"/>
<rect x="1430.3" y="359.37" width="19.4" height="7.21" fill="#896ffe"/>
<rect x="1430.3" y="352.46" width="19.4" height="7.21" fill="#827bfd"/>
<rect x="1430.3" y="345.55" width="19.4" height="7.21" fill="#7b86fc"/>
<rect x="1430.3" y="338.64" width="19.4" height="7.21" fill="#7390fb"/>
<rect x="1430.3" y="331.74" width="19.4" height="7.21" fill="#6c9bfa"/>
<rect x="1430.3" y="324.83" width="19.4" height="7.21" fill="#65a5f8"/>
<rect x="1430.3" y="317.92" width="19.4" height="7.21" fill="#5daff7"/>
<rect x="1430.3" y="311.01" width="19.4" height="7.21" fill="#56b8f5"/>
<rect x="1430.3" y="304.10" width="19.4" height="7.21" fill="#4fc1f3"/>
<rect x="1430.3" y="297.20" width="19.4" height="7.21" fill="#47c9f1"/>
<rect x="1430.3" y="290.29" width="19.4" height="7.21" fill="#4fd1ef"/>
<rect x="1430.3" y="283.38" width="19.4" height="7.21" fill="#56d8ec"/>
<rect x="1430.3" y="276.47" width="19.4" height="7.21" fill="#5ddfea"/>
<rect x="1430.3" y="269.56" width="19.4" height="7.21" fill="#65e5e7"/>
<rect x="1430.3" y="262.66" width="19.4" height="7.21" fill="#6cebe4"/>
<rect x="1430.3" y="255.75" width="19.4" height="7.21" fill="#73f0e1"/>
<rect x="1430.3" y="248.84" width="19.4" height="7.21" fill="#7bf4de"/>
<rect x="1430.3" y="241.93" width="19.4" height="7.21" fill="#82f8da"/>
<rect x="1430.3" y="235.02" width="19.4" height="7.21" fill="#89fbd7"/>
<rect x="1430.3" y="228.12" width="19.4" height="7.21" fill="#91fdd3"/>
<rect x="1430.3" y="221.21" width="19.4" height="7.21" fill="#98fecf"/>
<rect x="1430.3" y="214.30" width="19.4" height="7.21" fill="#a0ffcb"/>
<rect x="1430.3" y="207.39" width="19.4" height="7.21" fill="#a7ffc7"/>
<rect x="1430.3" y="200.48" width="19.4" height="7.21" fill="#aefec3"/>
<rect x="1430.3" y="193.58" width="19.4" height="7.21" fill="#b6fdbf"/>
<rect x="1430.3" y="186.67" width="19.4" height="7.21" fill="#bdfbba"/>
<rect x="1430.3" y="179.76" width="19.4" height="7.21" fill="#c4f8b6"/>
<rect x="1430.3" y="172.85" width="19.4" height="7.21" fill="#ccf4b1"/>
<rect x="1430.3" y="165.94" width="19.4" height="7.21" fill="#d3f0ac"/>
<rect x="1430.3" y="159.04" width="19.4" height="7.21" fill="#daeba7"/>
<rect x="1430.3" y="152.13" width="19.4" height="7.21" fill="#e2e5a2"/>
<rect x="1430.3" y="145.22" width="19.4" height="7.21" fill="#e9df9d"/>
<rect x="1430.3" y="138.31" width="19.4" height="7.21" fill="#f0d898"/>
<rect x="1430.3" y="131.40" width="19.4" height="7.21" fill="#f8d193"/>
<rect x="1430.3" y="124.50" width="19.4" height="7.21" fill="#ffc98e"/>
<rect x="1430.3" y="117.59" width="19.4" height="7.21" fill="#ffc188"/>
<rect x="1430.3" y="110.68" width="19.4" height="7.21" fill="#ffb883"/>
<rect x="1430.3" y="103.77" width="19.4" height="7.21" fill="#ffaf7d"/>
<rect x="1430.3" y="96.86" width="19.4" height="7.21" fill="#ffa578"/>
<rect x="1430.3" y="89.96" width="19.4" height="7.21" fill="#ff9b72"/>
<rect x="1430.3" y="83.05" width="19.4" height="7.21" fill="#ff906d"/>
<rect x="1430.3" y="76.14" width="19.4" height="7.21" fill="#ff8667"/>
<rect x="1430.3" y="69.23" width="19.4" height="7.21" fill="#ff7b61"/>
<rect x="1430.3" y="62.32" width="19.4" height="7.21" fill="#ff6f5c"/>
<rect x="1430.3" y="55.42" width="19.4" height="7.21" fill="#ff6456"/>
<rect x="1430.3" y="48.51" width="19.4" height="7.21" fill="#ff5950"/>
<rect x="1430.3" y="41.60" width="19.4" height="7.21" fill="#ff4d4a"/>
<path d="M1430.3,41.9L1440.0,24.7L1449.7,41.9Z" fill="#ff4747"/>
<path d="M1430.3,386.7L1440.0,404L1449.7,386.7Z" fill="#a347ff"/>
<path d="M1430.3,41.6L1440.0,24.7L1449.7,41.6L1449.7,387.0L1440.0,404L1430.3,387.0Z" fill="none" stroke="#333" stroke-width="0.8"/>
<path d="M1449.7,41.60h-3.5" stroke="#222" stroke-width="0.9"/>
<text x="1454" y="50.9" class="tk" textLength="40.2" lengthAdjust="spacingAndGlyphs">210</text>
<path d="M1449.7,58.87h-2" stroke="#222" stroke-width="0.7"/>
<path d="M1449.7,76.14h-2" stroke="#222" stroke-width="0.7"/>
<path d="M1449.7,93.41h-2" stroke="#222" stroke-width="0.7"/>
<path d="M1449.7,110.68h-2" stroke="#222" stroke-width="0.7"/>
<path d="M1449.7,127.95h-3.5" stroke="#222" stroke-width="0.9"/>
<text x="1454" y="137.2" class="tk" textLength="40.2" lengthAdjust="spacingAndGlyphs">205</text>
<path d="M1449.7,145.22h-2" stroke="#222" stroke-width="0.7"/>
<path d="M1449.7,162.49h-2" stroke="#222" stroke-width="0.7"/>
<path d="M1449.7,179.76h-2" stroke="#222" stroke-width="0.7"/>
<path d="M1449.7,197.03h-2" stroke="#222" stroke-width="0.7"/>
<path d="M1449.7,214.30h-3.5" stroke="#222" stroke-width="0.9"/>
<text x="1454" y="223.6" class="tk" textLength="40.2" lengthAdjust="spacingAndGlyphs">200</text>
<path d="M1449.7,231.57h-2" stroke="#222" stroke-width="0.7"/>
<path d="M1449.7,248.84h-2" stroke="#222" stroke-width="0.7"/>
<path d="M1449.7,266.11h-2" stroke="#222" stroke-width="0.7"/>
<path d="M1449.7,283.38h-2" stroke="#222" stroke-width="0.7"/>
<path d="M1449.7,300.65h-3.5" stroke="#222" stroke-width="0.9"/>
<text x="1454" y="309.9" class="tk" textLength="40.2" lengthAdjust="spacingAndGlyphs">195</text>
<path d="M1449.7,317.92h-2" stroke="#222" stroke-width="0.7"/>
<path d="M1449.7,335.19h-2" stroke="#222" stroke-width="0.7"/>
<path d="M1449.7,352.46h-2" stroke="#222" stroke-width="0.7"/>
<path d="M1449.7,369.73h-2" stroke="#222" stroke-width="0.7"/>
<path d="M1449.7,387.00h-3.5" stroke="#222" stroke-width="0.9"/>
<text x="1454" y="396.3" class="tk" textLength="40.2" lengthAdjust="spacingAndGlyphs">190</text>
<text transform="translate(1412.3,252.1) rotate(-90)" text-anchor="middle" class="tnr" textLength="260.8" lengthAdjust="spacingAndGlyphs">Bed elevation (m)</text>
<defs><clipPath id="rcb"><path d="M202.0,507.1 C202.8,506.7 205.2,505.1 207.0,504.6 C208.8,504.1 210.2,503.6 213.0,504.1 C215.8,504.6 220.3,507.4 224.0,507.6 C227.7,507.8 231.5,506.0 235.0,505.1 C238.5,504.2 240.7,502.6 245.0,502.1 C249.3,501.6 257.5,502.5 261.0,502.1 C264.5,501.7 264.8,500.7 266.0,499.6 C267.2,498.5 267.7,497.1 268.5,495.6 C269.3,494.1 269.6,491.8 271.0,490.6 C272.4,489.4 274.1,488.4 276.7,488.6 C279.3,488.8 283.4,490.4 286.7,491.6 C290.0,492.8 291.7,494.7 296.7,495.6 C301.7,496.6 310.0,497.4 316.7,497.3 C323.4,497.2 331.1,496.0 336.7,495.3 C342.2,494.6 344.4,493.9 350.0,493.3 C355.6,492.7 359.3,491.4 370.0,491.6 C380.7,491.8 401.8,493.4 414.0,494.5 C426.2,495.6 433.2,496.9 443.4,498.2 C453.6,499.5 466.2,500.8 475.0,502.2 C483.8,503.6 489.1,505.2 496.2,506.8 C503.2,508.4 510.2,510.0 517.3,511.8 C524.3,513.6 531.5,515.4 538.5,517.4 C545.5,519.4 553.5,521.7 559.6,523.7 C565.7,525.7 570.2,527.9 575.0,529.4 C579.8,530.9 581.3,530.1 588.2,532.5 C595.1,534.9 607.0,539.5 616.4,543.8 C625.8,548.2 635.2,553.4 644.6,558.6 C654.0,563.8 665.2,570.3 672.8,574.8 C680.4,579.3 683.5,582.0 690.0,585.6 C696.5,589.2 704.5,592.6 711.7,596.4 C718.9,600.2 728.0,605.9 733.4,608.4 C738.8,610.9 740.6,610.5 744.2,611.6 C747.8,612.7 751.4,613.3 755.0,614.9 C758.6,616.5 762.4,619.1 766.0,621.4 C769.6,623.8 773.2,626.5 776.8,629.0 C780.4,631.5 782.7,633.1 787.6,636.6 C792.5,640.1 801.3,646.7 806.0,649.9 C810.7,653.1 813.2,652.5 816.0,655.6 C818.8,658.7 820.8,664.4 823.0,668.6 C825.2,672.8 827.3,677.9 829.0,680.8 C830.7,683.7 831.2,684.9 833.4,686.0 C835.6,687.1 839.5,687.0 842.1,687.7 C844.7,688.4 847.0,688.4 849.0,690.3 C851.0,692.2 852.5,695.8 854.2,699.0 C855.9,702.2 857.1,706.5 859.4,709.4 C861.7,712.3 865.6,714.5 868.1,716.3 C870.6,718.0 870.7,718.7 874.2,719.9 C877.7,721.1 884.3,721.3 889.3,723.3 C894.3,725.3 899.9,729.7 904.0,732.1 C908.1,734.5 909.6,736.0 913.7,737.9 C917.8,739.9 923.5,742.4 928.4,743.8 C933.3,745.2 938.9,745.6 943.0,746.2 C947.1,746.8 949.8,746.2 952.8,747.2 C955.8,748.2 957.6,750.4 960.8,752.1 C963.9,753.8 967.5,756.0 971.7,757.5 C975.9,759.0 981.3,760.4 985.8,760.8 C990.3,761.2 994.8,759.2 998.8,759.7 C1002.8,760.2 1006.1,762.4 1009.7,764.0 C1013.3,765.6 1016.7,768.4 1020.5,769.5 C1024.3,770.6 1027.9,771.0 1032.6,770.6 C1037.3,770.2 1044.3,768.9 1048.8,767.3 C1053.3,765.6 1054.9,763.0 1059.5,760.7 C1064.1,758.4 1069.7,755.2 1076.4,753.7 C1083.2,752.2 1093.0,752.9 1100.0,751.7 C1107.0,750.5 1112.7,748.4 1118.7,746.6 C1124.7,744.8 1130.0,743.9 1135.8,741.0 C1141.6,738.1 1147.7,731.1 1153.7,729.1 C1159.7,727.1 1166.6,729.6 1171.6,729.1 C1176.6,728.6 1179.9,727.7 1183.5,726.1 C1187.1,724.5 1189.1,721.2 1193.1,719.5 C1197.1,717.8 1201.7,716.7 1207.4,715.9 C1213.1,715.1 1219.7,717.2 1227.1,714.7 C1234.5,712.2 1244.0,704.5 1251.7,700.7 C1259.4,696.9 1266.2,695.1 1273.4,692.1 C1280.6,689.1 1286.8,686.2 1295.1,682.8 C1303.4,679.3 1318.4,673.3 1323.1,671.4 L1323.1,725.7 C1322.0,726.4 1319.7,728.4 1316.8,730.0 C1313.9,731.6 1309.5,733.8 1305.9,735.4 C1302.3,737.0 1298.2,738.3 1295.0,739.6 C1291.8,740.9 1289.4,740.7 1286.4,743.0 C1283.4,745.3 1279.7,750.2 1277.0,753.6 C1274.3,757.0 1273.2,761.0 1270.0,763.1 C1266.8,765.2 1261.8,764.3 1257.7,766.4 C1253.6,768.5 1248.8,773.3 1245.5,775.6 C1242.2,777.9 1240.5,779.1 1238.0,780.1 C1235.5,781.1 1232.5,781.2 1230.4,781.6 C1228.3,782.0 1227.2,782.1 1225.3,782.7 C1223.4,783.3 1222.3,784.9 1219.3,785.1 C1216.3,785.3 1211.4,784.1 1207.4,783.9 C1203.4,783.7 1200.1,783.5 1195.5,783.9 C1190.9,784.4 1184.0,785.7 1180.0,786.6 C1176.0,787.5 1174.9,787.8 1171.6,789.6 C1168.3,791.4 1164.0,795.4 1160.0,797.6 C1156.0,799.8 1152.2,800.7 1147.7,803.0 C1143.2,805.3 1140.0,808.0 1132.8,811.5 C1125.6,815.0 1112.8,821.4 1104.6,824.2 C1096.4,827.0 1088.1,826.9 1083.4,828.4 C1078.7,829.9 1080.3,831.8 1076.4,833.3 C1072.5,834.8 1064.7,836.3 1060.0,837.1 C1055.3,837.9 1053.0,838.1 1048.2,838.3 C1043.4,838.5 1036.8,838.5 1031.3,838.3 C1025.8,838.1 1020.4,837.8 1015.0,837.2 C1009.6,836.6 1004.2,835.7 998.8,834.5 C993.4,833.3 987.9,831.8 982.5,830.2 C977.1,828.6 971.7,826.8 966.3,824.8 C960.9,822.8 955.5,820.8 950.0,818.3 C944.5,815.8 938.0,812.3 933.0,809.6 C928.0,806.9 924.8,804.8 920.0,802.1 C915.2,799.4 909.1,796.3 904.0,793.6 C898.9,790.9 894.2,788.6 889.3,785.8 C884.4,783.0 879.5,779.2 874.6,777.0 C869.7,774.8 865.8,774.8 860.0,772.6 C854.2,770.4 846.8,767.3 840.0,764.0 C833.2,760.7 824.7,756.0 819.0,752.8 C813.3,749.6 810.8,748.2 806.0,745.0 C801.2,741.8 795.2,737.8 790.0,733.6 C784.8,729.4 780.0,724.1 775.0,719.6 C770.0,715.1 764.2,709.6 760.0,706.6 C755.8,703.6 752.5,703.3 750.0,701.6 C747.5,699.9 746.7,698.3 745.0,696.6 C743.3,694.9 741.9,694.2 740.0,691.6 C738.1,689.0 736.3,684.2 733.4,681.0 C730.5,677.8 726.1,675.1 722.5,672.4 C718.9,669.7 715.3,667.3 711.7,664.8 C708.1,662.3 704.4,660.5 700.8,657.6 C697.2,654.7 693.6,651.3 690.0,647.6 C686.4,643.9 681.9,637.9 679.0,635.6 C676.1,633.3 677.6,635.2 672.8,634.0 C668.0,632.8 655.8,629.8 650.2,628.4 C644.6,627.0 642.3,628.0 639.0,625.6 C635.7,623.2 634.3,617.4 630.5,614.3 C626.7,611.2 623.0,609.6 616.4,607.2 C609.8,604.9 596.6,601.6 591.0,600.2 C585.4,598.8 584.9,600.7 582.6,598.8 C580.3,596.9 580.8,591.7 577.0,588.9 C573.2,586.1 565.3,583.4 560.0,581.9 C554.7,580.4 550.0,581.4 545.0,579.8 C540.0,578.2 537.5,575.0 530.0,572.3 C522.5,569.7 506.7,565.0 500.0,563.9 C493.3,562.8 493.7,567.0 490.0,565.6 C486.3,564.2 483.8,556.9 478.0,555.6 C472.2,554.3 460.5,556.9 455.0,557.6 C449.5,558.3 449.2,560.7 445.0,559.8 C440.8,558.9 435.8,553.0 430.0,552.3 C424.2,551.6 415.3,554.5 410.0,555.6 C404.7,556.7 402.2,559.7 398.0,558.9 C393.8,558.1 390.5,552.0 385.0,550.6 C379.5,549.2 370.8,550.1 365.0,550.6 C359.2,551.1 354.2,552.8 350.0,553.9 C345.8,555.0 344.2,557.5 340.0,557.3 C335.8,557.1 331.7,553.5 325.0,552.6 C318.3,551.7 306.4,551.5 300.0,552.0 C293.6,552.5 291.5,553.8 286.8,555.5 C282.1,557.2 276.1,562.0 272.0,562.4 C267.9,562.8 265.3,558.4 262.0,557.6 C258.7,556.8 257.3,556.6 252.0,557.6 C246.7,558.6 238.3,560.9 230.0,563.6 C221.7,566.3 206.7,572.1 202.0,573.8Z"/></clipPath><linearGradient id="upb" gradientUnits="userSpaceOnUse" x1="700" y1="0" x2="1240" y2="0"><stop offset="0.000" stop-color="#9af7b2"/><stop offset="0.065" stop-color="#8aeccb"/><stop offset="0.296" stop-color="#8aeccb"/><stop offset="0.333" stop-color="#a8efb0"/><stop offset="0.437" stop-color="#bdeba0"/><stop offset="0.535" stop-color="#cfe596"/><stop offset="0.633" stop-color="#e9d28c"/><stop offset="0.759" stop-color="#eccc8a"/><stop offset="0.859" stop-color="#d4e098"/><stop offset="0.950" stop-color="#b6eca6"/><stop offset="1.000" stop-color="#a8efb0"/></linearGradient><linearGradient id="lob" gradientUnits="userSpaceOnUse" x1="700" y1="0" x2="1323" y2="0"><stop offset="0.000" stop-color="#9af7b2"/><stop offset="0.112" stop-color="#9af3b8"/><stop offset="0.177" stop-color="#8ae8cc"/><stop offset="0.241" stop-color="#6edae2"/><stop offset="0.305" stop-color="#62d6e6"/><stop offset="0.82" stop-color="#62d6e6"/><stop offset="0.86" stop-color="#7ae0d4"/><stop offset="1.000" stop-color="#80e2d0"/></linearGradient><filter id="blb" x="-50%" y="-50%" width="200%" height="200%"><feGaussianBlur stdDeviation="1.5"/></filter></defs>
<g clip-path="url(#rcb)">
<rect x="195" y="475.6" width="1135" height="380" fill="#9af7b2"/>
<path d="M202.0,507.1 C202.8,506.7 205.2,505.1 207.0,504.6 C208.8,504.1 210.2,503.6 213.0,504.1 C215.8,504.6 220.3,507.4 224.0,507.6 C227.7,507.8 231.5,506.0 235.0,505.1 C238.5,504.2 240.7,502.6 245.0,502.1 C249.3,501.6 257.5,502.5 261.0,502.1 C264.5,501.7 264.8,500.7 266.0,499.6 C267.2,498.5 267.7,497.1 268.5,495.6 C269.3,494.1 269.6,491.8 271.0,490.6 C272.4,489.4 274.1,488.4 276.7,488.6 C279.3,488.8 283.4,490.4 286.7,491.6 C290.0,492.8 291.7,494.7 296.7,495.6 C301.7,496.6 310.0,497.4 316.7,497.3 C323.4,497.2 331.1,496.0 336.7,495.3 C342.2,494.6 344.4,493.9 350.0,493.3 C355.6,492.7 359.3,491.4 370.0,491.6 C380.7,491.8 401.8,493.4 414.0,494.5 C426.2,495.6 433.2,496.9 443.4,498.2 C453.6,499.5 466.2,500.8 475.0,502.2 C483.8,503.6 489.1,505.2 496.2,506.8 C503.2,508.4 510.2,510.0 517.3,511.8 C524.3,513.6 531.5,515.4 538.5,517.4 C545.5,519.4 553.5,521.7 559.6,523.7 C565.7,525.7 570.2,527.9 575.0,529.4 C579.8,530.9 581.3,530.1 588.2,532.5 C595.1,534.9 607.0,539.5 616.4,543.8 C625.8,548.2 635.2,553.4 644.6,558.6 C654.0,563.8 665.2,570.3 672.8,574.8 C680.4,579.3 683.5,582.0 690.0,585.6 C696.5,589.2 704.5,592.6 711.7,596.4 C718.9,600.2 728.0,605.9 733.4,608.4 C738.8,610.9 740.6,610.5 744.2,611.6 C747.8,612.7 751.4,613.3 755.0,614.9 C758.6,616.5 762.4,619.1 766.0,621.4 C769.6,623.8 775.0,627.7 776.8,629.0" fill="none" stroke="#8ef0c6" stroke-width="12" opacity="0.8"/>
<path d="M700.0,555.6 L700.0,600.2 L706.0,604.3 L712.0,608.3 L718.0,612.2 L724.0,616.4 L730.0,621.5 L736.0,625.2 L742.0,628.9 L748.0,632.2 L754.0,635.9 L760.0,640.4 L766.0,644.6 L772.0,648.4 L778.0,652.5 L784.0,656.6 L790.0,662.1 L796.0,667.2 L802.0,671.7 L808.0,676.3 L814.0,680.9 L820.0,687.6 L826.0,695.8 L832.0,703.7 L838.0,707.7 L844.0,711.4 L850.0,716.5 L856.0,722.4 L862.0,727.7 L868.0,732.8 L874.0,736.7 L880.0,739.8 L886.0,741.6 L892.0,743.4 L898.0,746.7 L904.0,750.0 L910.0,752.8 L916.0,755.6 L922.0,758.4 L928.0,760.8 L934.0,763.1 L940.0,765.4 L946.0,768.6 L952.0,771.9 L958.0,774.1 L964.0,776.4 L970.0,778.6 L976.0,780.8 L982.0,782.8 L988.0,784.9 L994.0,786.5 L1000.0,787.8 L1006.0,789.2 L1012.0,790.4 L1018.0,791.6 L1024.0,792.4 L1030.0,792.4 L1036.0,792.4 L1042.0,792.4 L1048.0,792.1 L1054.0,791.7 L1060.0,791.2 L1066.0,790.7 L1072.0,789.4 L1078.0,788.0 L1084.0,786.6 L1090.0,785.2 L1096.0,783.6 L1102.0,781.9 L1108.0,780.4 L1114.0,778.9 L1120.0,777.4 L1126.0,775.2 L1132.0,773.0 L1138.0,770.3 L1144.0,767.6 L1150.0,765.0 L1156.0,762.5 L1162.0,760.0 L1168.0,758.1 L1174.0,756.1 L1180.0,754.2 L1186.0,752.1 L1192.0,749.7 L1198.0,747.3 L1204.0,745.0 L1210.0,742.8 L1216.0,740.6 L1222.0,738.5 L1228.0,736.1 L1234.0,732.6 L1240.0,729.1 L1240.0,655.6Z" fill="url(#upb)"/>
<path d="M700.0,600.2 L706.0,604.3 L712.0,608.3 L718.0,612.2 L724.0,616.4 L730.0,621.5 L736.0,625.2 L742.0,628.9 L748.0,632.2 L754.0,635.9 L760.0,640.4 L766.0,644.6 L772.0,648.4 L778.0,652.5 L784.0,656.6 L790.0,662.1 L796.0,667.2 L802.0,671.7 L808.0,676.3 L814.0,680.9 L820.0,687.6 L826.0,695.8 L832.0,703.7 L838.0,707.7 L844.0,711.4 L850.0,716.5 L856.0,722.4 L862.0,727.7 L868.0,732.8 L874.0,736.7 L880.0,739.8 L886.0,741.6 L892.0,743.4 L898.0,746.7 L904.0,750.0 L910.0,752.8 L916.0,755.6 L922.0,758.4 L928.0,760.8 L934.0,763.1 L940.0,765.4 L946.0,768.6 L952.0,771.9 L958.0,774.1 L964.0,776.4 L970.0,778.6 L976.0,780.8 L982.0,782.8 L988.0,784.9 L994.0,786.5 L1000.0,787.8 L1006.0,789.2 L1012.0,790.4 L1018.0,791.6 L1024.0,792.4 L1030.0,792.4 L1036.0,792.4 L1042.0,792.4 L1048.0,792.1 L1054.0,791.7 L1060.0,791.2 L1066.0,790.7 L1072.0,789.4 L1078.0,788.0 L1084.0,786.6 L1090.0,785.2 L1096.0,783.6 L1102.0,781.9 L1108.0,780.4 L1114.0,778.9 L1120.0,777.4 L1126.0,775.2 L1132.0,773.0 L1138.0,770.3 L1144.0,767.6 L1150.0,765.0 L1156.0,762.5 L1162.0,760.0 L1168.0,758.1 L1174.0,756.1 L1180.0,754.2 L1186.0,752.1 L1192.0,749.7 L1198.0,747.3 L1204.0,745.0 L1210.0,742.8 L1216.0,740.6 L1222.0,738.5 L1228.0,736.1 L1234.0,732.6 L1240.0,729.1 L1246.0,726.4 L1252.0,723.6 L1258.0,720.6 L1264.0,717.6 L1270.0,714.6 L1276.0,711.6 L1282.0,708.8 L1288.0,705.9 L1294.0,703.1 L1300.0,700.0 L1306.0,696.8 L1312.0,693.7 L1318.0,690.7 L1330.0,875.6 L700.0,875.6Z" fill="url(#lob)"/>
<defs><linearGradient id="pbb" gradientUnits="userSpaceOnUse" x1="780" y1="0" x2="870" y2="0"><stop offset="0" stop-color="#c9e8a4" stop-opacity="0.55"/><stop offset="1" stop-color="#c9e8a4" stop-opacity="0"/></linearGradient></defs>
<path d="M889.3,785.8 C886.8,784.3 879.5,779.2 874.6,777.0 C869.7,774.8 865.8,774.8 860.0,772.6 C854.2,770.4 846.8,767.3 840.0,764.0 C833.2,760.7 824.7,756.0 819.0,752.8 C813.3,749.6 810.8,748.2 806.0,745.0 C801.2,741.8 795.2,737.8 790.0,733.6 C784.8,729.4 780.0,724.1 775.0,719.6 C770.0,715.1 764.2,709.6 760.0,706.6 C755.8,703.6 752.5,703.3 750.0,701.6 C747.5,699.9 746.7,698.3 745.0,696.6 C743.3,694.9 741.9,694.2 740.0,691.6 C738.1,689.0 736.3,684.2 733.4,681.0 C730.5,677.8 726.1,675.1 722.5,672.4 C718.9,669.7 715.3,667.3 711.7,664.8 C708.1,662.3 704.4,660.5 700.8,657.6 C697.2,654.7 693.6,651.3 690.0,647.6 C686.4,643.9 681.9,637.9 679.0,635.6 C676.1,633.3 677.6,635.2 672.8,634.0 C668.0,632.8 655.8,629.8 650.2,628.4 C644.6,627.0 642.3,628.0 639.0,625.6 C635.7,623.2 634.3,617.4 630.5,614.3 C626.7,611.2 623.0,609.6 616.4,607.2 C609.8,604.9 596.6,601.6 591.0,600.2 C585.4,598.8 584.9,600.7 582.6,598.8 C580.3,596.9 580.8,591.7 577.0,588.9 C573.2,586.1 565.3,583.4 560.0,581.9 C554.7,580.4 550.0,581.4 545.0,579.8 C540.0,578.2 537.5,575.0 530.0,572.3 C522.5,569.7 506.7,565.0 500.0,563.9 C493.3,562.8 493.7,567.0 490.0,565.6 C486.3,564.2 483.8,556.9 478.0,555.6 C472.2,554.3 460.5,556.9 455.0,557.6 C449.5,558.3 449.2,560.7 445.0,559.8 C440.8,558.9 435.8,553.0 430.0,552.3 C424.2,551.6 415.3,554.5 410.0,555.6 C404.7,556.7 402.2,559.7 398.0,558.9 C393.8,558.1 390.5,552.0 385.0,550.6 C379.5,549.2 370.8,550.1 365.0,550.6 C359.2,551.1 354.2,552.8 350.0,553.9 C345.8,555.0 344.2,557.5 340.0,557.3 C335.8,557.1 331.7,553.5 325.0,552.6 C318.3,551.7 306.4,551.5 300.0,552.0 C293.6,552.5 291.5,553.8 286.8,555.5 C282.1,557.2 276.1,562.0 272.0,562.4 C267.9,562.8 265.3,558.4 262.0,557.6 C258.7,556.8 257.3,556.6 252.0,557.6 C246.7,558.6 238.3,560.9 230.0,563.6 C221.7,566.3 206.7,572.1 202.0,573.8" fill="none" stroke="url(#pbb)" stroke-width="20"/>
<defs><linearGradient id="pab" gradientUnits="userSpaceOnUse" x1="900" y1="0" x2="1160" y2="0"><stop offset="0" stop-color="#b2eaa8" stop-opacity="0"/><stop offset="0.15" stop-color="#b2eaa8" stop-opacity="1"/><stop offset="0.8" stop-color="#b2eaa8" stop-opacity="1"/><stop offset="1" stop-color="#b2eaa8" stop-opacity="0"/></linearGradient></defs>
<path d="M1160.0,797.6 C1158.0,798.5 1152.2,800.7 1147.7,803.0 C1143.2,805.3 1140.0,808.0 1132.8,811.5 C1125.6,815.0 1112.8,821.4 1104.6,824.2 C1096.4,827.0 1088.1,826.9 1083.4,828.4 C1078.7,829.9 1080.3,831.8 1076.4,833.3 C1072.5,834.8 1064.7,836.3 1060.0,837.1 C1055.3,837.9 1053.0,838.1 1048.2,838.3 C1043.4,838.5 1036.8,838.5 1031.3,838.3 C1025.8,838.1 1020.4,837.8 1015.0,837.2 C1009.6,836.6 1004.2,835.7 998.8,834.5 C993.4,833.3 987.9,831.8 982.5,830.2 C977.1,828.6 971.7,826.8 966.3,824.8 C960.9,822.8 955.5,820.8 950.0,818.3 C944.5,815.8 938.0,812.3 933.0,809.6 C928.0,806.9 924.8,804.8 920.0,802.1 C915.2,799.4 906.7,795.0 904.0,793.6" fill="none" stroke="url(#pab)" stroke-width="20"/>
<path d="M1160.0,797.6 C1158.0,798.5 1152.2,800.7 1147.7,803.0 C1143.2,805.3 1140.0,808.0 1132.8,811.5 C1125.6,815.0 1112.8,821.4 1104.6,824.2 C1096.4,827.0 1088.1,826.9 1083.4,828.4 C1078.7,829.9 1080.3,831.8 1076.4,833.3 C1072.5,834.8 1064.7,836.3 1060.0,837.1 C1055.3,837.9 1053.0,838.1 1048.2,838.3 C1043.4,838.5 1036.8,838.5 1031.3,838.3 C1025.8,838.1 1020.4,837.8 1015.0,837.2 C1009.6,836.6 1004.2,835.7 998.8,834.5 C993.4,833.3 987.9,831.8 982.5,830.2 C977.1,828.6 971.7,826.8 966.3,824.8 C960.9,822.8 955.5,820.8 950.0,818.3 C944.5,815.8 938.0,812.3 933.0,809.6 C928.0,806.9 924.8,804.8 920.0,802.1 C915.2,799.4 906.7,795.0 904.0,793.6" fill="none" stroke="#f4ac70" stroke-width="18" stroke-dasharray="1.6 7" opacity="0.8"/>
<path d="M1323.1,725.7 C1322.0,726.4 1319.7,728.4 1316.8,730.0 C1313.9,731.6 1309.5,733.8 1305.9,735.4 C1302.3,737.0 1298.2,738.3 1295.0,739.6 C1291.8,740.9 1289.4,740.7 1286.4,743.0 C1283.4,745.3 1279.7,750.2 1277.0,753.6 C1274.3,757.0 1273.2,761.0 1270.0,763.1 C1266.8,765.2 1261.8,764.3 1257.7,766.4 C1253.6,768.5 1248.8,773.3 1245.5,775.6 C1242.2,777.9 1240.5,779.1 1238.0,780.1 C1235.5,781.1 1232.5,781.2 1230.4,781.6 C1228.3,782.0 1227.2,782.1 1225.3,782.7 C1223.4,783.3 1222.3,784.9 1219.3,785.1 C1216.3,785.3 1211.4,784.1 1207.4,783.9 C1203.4,783.7 1200.1,783.5 1195.5,783.9 C1190.9,784.4 1184.0,785.7 1180.0,786.6 C1176.0,787.5 1174.9,787.8 1171.6,789.6 C1168.3,791.4 1164.0,795.4 1160.0,797.6 C1156.0,799.8 1152.2,800.7 1147.7,803.0 C1143.2,805.3 1140.0,808.0 1132.8,811.5 C1125.6,815.0 1112.8,821.4 1104.6,824.2 C1096.4,827.0 1088.1,826.9 1083.4,828.4 C1078.7,829.9 1080.3,831.8 1076.4,833.3 C1072.5,834.8 1064.7,836.3 1060.0,837.1 C1055.3,837.9 1053.0,838.1 1048.2,838.3 C1043.4,838.5 1036.8,838.5 1031.3,838.3 C1025.8,838.1 1020.4,837.8 1015.0,837.2 C1009.6,836.6 1004.2,835.7 998.8,834.5 C993.4,833.3 987.9,831.8 982.5,830.2 C977.1,828.6 971.7,826.8 966.3,824.8 C960.9,822.8 955.5,820.8 950.0,818.3 C944.5,815.8 938.0,812.3 933.0,809.6 C928.0,806.9 924.8,804.8 920.0,802.1 C915.2,799.4 909.1,796.3 904.0,793.6 C898.9,790.9 894.2,788.6 889.3,785.8 C884.4,783.0 879.5,779.2 874.6,777.0 C869.7,774.8 865.8,774.8 860.0,772.6 C854.2,770.4 846.8,767.3 840.0,764.0 C833.2,760.7 824.7,756.0 819.0,752.8 C813.3,749.6 810.8,748.2 806.0,745.0 C801.2,741.8 795.2,737.8 790.0,733.6 C784.8,729.4 780.0,724.1 775.0,719.6 C770.0,715.1 764.2,709.6 760.0,706.6 C755.8,703.6 752.5,703.3 750.0,701.6 C747.5,699.9 746.7,698.3 745.0,696.6 C743.3,694.9 741.9,694.2 740.0,691.6 C738.1,689.0 736.3,684.2 733.4,681.0 C730.5,677.8 726.1,675.1 722.5,672.4 C718.9,669.7 715.3,667.3 711.7,664.8 C708.1,662.3 704.4,660.5 700.8,657.6 C697.2,654.7 693.6,651.3 690.0,647.6 C686.4,643.9 681.9,637.9 679.0,635.6 C676.1,633.3 677.6,635.2 672.8,634.0 C668.0,632.8 655.8,629.8 650.2,628.4 C644.6,627.0 642.3,628.0 639.0,625.6 C635.7,623.2 634.3,617.4 630.5,614.3 C626.7,611.2 623.0,609.6 616.4,607.2 C609.8,604.9 596.6,601.6 591.0,600.2 C585.4,598.8 584.9,600.7 582.6,598.8 C580.3,596.9 580.8,591.7 577.0,588.9 C573.2,586.1 565.3,583.4 560.0,581.9 C554.7,580.4 550.0,581.4 545.0,579.8 C540.0,578.2 537.5,575.0 530.0,572.3 C522.5,569.7 506.7,565.0 500.0,563.9 C493.3,562.8 493.7,567.0 490.0,565.6 C486.3,564.2 483.8,556.9 478.0,555.6 C472.2,554.3 460.5,556.9 455.0,557.6 C449.5,558.3 449.2,560.7 445.0,559.8 C440.8,558.9 435.8,553.0 430.0,552.3 C424.2,551.6 415.3,554.5 410.0,555.6 C404.7,556.7 402.2,559.7 398.0,558.9 C393.8,558.1 390.5,552.0 385.0,550.6 C379.5,549.2 370.8,550.1 365.0,550.6 C359.2,551.1 354.2,552.8 350.0,553.9 C345.8,555.0 344.2,557.5 340.0,557.3 C335.8,557.1 331.7,553.5 325.0,552.6 C318.3,551.7 306.4,551.5 300.0,552.0 C293.6,552.5 291.5,553.8 286.8,555.5 C282.1,557.2 276.1,562.0 272.0,562.4 C267.9,562.8 265.3,558.4 262.0,557.6 C258.7,556.8 257.3,556.6 252.0,557.6 C246.7,558.6 238.3,560.9 230.0,563.6 C221.7,566.3 206.7,572.1 202.0,573.8" fill="none" stroke="#f6b37a" stroke-width="11"/>
<path d="M1323.1,725.7 C1322.0,726.4 1319.7,728.4 1316.8,730.0 C1313.9,731.6 1309.5,733.8 1305.9,735.4 C1302.3,737.0 1298.2,738.3 1295.0,739.6 C1291.8,740.9 1289.4,740.7 1286.4,743.0 C1283.4,745.3 1279.7,750.2 1277.0,753.6 C1274.3,757.0 1273.2,761.0 1270.0,763.1 C1266.8,765.2 1261.8,764.3 1257.7,766.4 C1253.6,768.5 1248.8,773.3 1245.5,775.6 C1242.2,777.9 1240.5,779.1 1238.0,780.1 C1235.5,781.1 1232.5,781.2 1230.4,781.6 C1228.3,782.0 1227.2,782.1 1225.3,782.7 C1223.4,783.3 1222.3,784.9 1219.3,785.1 C1216.3,785.3 1211.4,784.1 1207.4,783.9 C1203.4,783.7 1200.1,783.5 1195.5,783.9 C1190.9,784.4 1184.0,785.7 1180.0,786.6 C1176.0,787.5 1174.9,787.8 1171.6,789.6 C1168.3,791.4 1164.0,795.4 1160.0,797.6 C1156.0,799.8 1152.2,800.7 1147.7,803.0 C1143.2,805.3 1140.0,808.0 1132.8,811.5 C1125.6,815.0 1112.8,821.4 1104.6,824.2 C1096.4,827.0 1088.1,826.9 1083.4,828.4 C1078.7,829.9 1080.3,831.8 1076.4,833.3 C1072.5,834.8 1064.7,836.3 1060.0,837.1 C1055.3,837.9 1053.0,838.1 1048.2,838.3 C1043.4,838.5 1036.8,838.5 1031.3,838.3 C1025.8,838.1 1020.4,837.8 1015.0,837.2 C1009.6,836.6 1004.2,835.7 998.8,834.5 C993.4,833.3 987.9,831.8 982.5,830.2 C977.1,828.6 971.7,826.8 966.3,824.8 C960.9,822.8 955.5,820.8 950.0,818.3 C944.5,815.8 938.0,812.3 933.0,809.6 C928.0,806.9 924.8,804.8 920.0,802.1 C915.2,799.4 909.1,796.3 904.0,793.6 C898.9,790.9 894.2,788.6 889.3,785.8 C884.4,783.0 879.5,779.2 874.6,777.0 C869.7,774.8 865.8,774.8 860.0,772.6 C854.2,770.4 846.8,767.3 840.0,764.0 C833.2,760.7 824.7,756.0 819.0,752.8 C813.3,749.6 810.8,748.2 806.0,745.0 C801.2,741.8 795.2,737.8 790.0,733.6 C784.8,729.4 780.0,724.1 775.0,719.6 C770.0,715.1 764.2,709.6 760.0,706.6 C755.8,703.6 752.5,703.3 750.0,701.6 C747.5,699.9 746.7,698.3 745.0,696.6 C743.3,694.9 741.9,694.2 740.0,691.6 C738.1,689.0 736.3,684.2 733.4,681.0 C730.5,677.8 726.1,675.1 722.5,672.4 C718.9,669.7 715.3,667.3 711.7,664.8 C708.1,662.3 704.4,660.5 700.8,657.6 C697.2,654.7 693.6,651.3 690.0,647.6 C686.4,643.9 681.9,637.9 679.0,635.6 C676.1,633.3 677.6,635.2 672.8,634.0 C668.0,632.8 655.8,629.8 650.2,628.4 C644.6,627.0 642.3,628.0 639.0,625.6 C635.7,623.2 634.3,617.4 630.5,614.3 C626.7,611.2 623.0,609.6 616.4,607.2 C609.8,604.9 596.6,601.6 591.0,600.2 C585.4,598.8 584.9,600.7 582.6,598.8 C580.3,596.9 580.8,591.7 577.0,588.9 C573.2,586.1 565.3,583.4 560.0,581.9 C554.7,580.4 550.0,581.4 545.0,579.8 C540.0,578.2 537.5,575.0 530.0,572.3 C522.5,569.7 506.7,565.0 500.0,563.9 C493.3,562.8 493.7,567.0 490.0,565.6 C486.3,564.2 483.8,556.9 478.0,555.6 C472.2,554.3 460.5,556.9 455.0,557.6 C449.5,558.3 449.2,560.7 445.0,559.8 C440.8,558.9 435.8,553.0 430.0,552.3 C424.2,551.6 415.3,554.5 410.0,555.6 C404.7,556.7 402.2,559.7 398.0,558.9 C393.8,558.1 390.5,552.0 385.0,550.6 C379.5,549.2 370.8,550.1 365.0,550.6 C359.2,551.1 354.2,552.8 350.0,553.9 C345.8,555.0 344.2,557.5 340.0,557.3 C335.8,557.1 331.7,553.5 325.0,552.6 C318.3,551.7 306.4,551.5 300.0,552.0 C293.6,552.5 291.5,553.8 286.8,555.5 C282.1,557.2 276.1,562.0 272.0,562.4 C267.9,562.8 265.3,558.4 262.0,557.6 C258.7,556.8 257.3,556.6 252.0,557.6 C246.7,558.6 238.3,560.9 230.0,563.6 C221.7,566.3 206.7,572.1 202.0,573.8" fill="none" stroke="#ff3326" stroke-width="6"/>
<path d="M202.0,507.1 C202.8,506.7 205.2,505.1 207.0,504.6 C208.8,504.1 210.2,503.6 213.0,504.1 C215.8,504.6 220.3,507.4 224.0,507.6 C227.7,507.8 231.5,506.0 235.0,505.1 C238.5,504.2 240.7,502.6 245.0,502.1 C249.3,501.6 257.5,502.5 261.0,502.1 C264.5,501.7 264.8,500.7 266.0,499.6 C267.2,498.5 267.7,497.1 268.5,495.6 C269.3,494.1 269.6,491.8 271.0,490.6 C272.4,489.4 274.1,488.4 276.7,488.6 C279.3,488.8 283.4,490.4 286.7,491.6 C290.0,492.8 291.7,494.7 296.7,495.6 C301.7,496.6 310.0,497.4 316.7,497.3 C323.4,497.2 331.1,496.0 336.7,495.3 C342.2,494.6 344.4,493.9 350.0,493.3 C355.6,492.7 359.3,491.4 370.0,491.6 C380.7,491.8 401.8,493.4 414.0,494.5 C426.2,495.6 433.2,496.9 443.4,498.2 C453.6,499.5 466.2,500.8 475.0,502.2 C483.8,503.6 489.1,505.2 496.2,506.8 C503.2,508.4 510.2,510.0 517.3,511.8 C524.3,513.6 531.5,515.4 538.5,517.4 C545.5,519.4 553.5,521.7 559.6,523.7 C565.7,525.7 570.2,527.9 575.0,529.4 C579.8,530.9 581.3,530.1 588.2,532.5 C595.1,534.9 607.0,539.5 616.4,543.8 C625.8,548.2 635.2,553.4 644.6,558.6 C654.0,563.8 665.2,570.3 672.8,574.8 C680.4,579.3 683.5,582.0 690.0,585.6 C696.5,589.2 704.5,592.6 711.7,596.4 C718.9,600.2 728.0,605.9 733.4,608.4 C738.8,610.9 740.6,610.5 744.2,611.6 C747.8,612.7 751.4,613.3 755.0,614.9 C758.6,616.5 762.4,619.1 766.0,621.4 C769.6,623.8 773.2,626.5 776.8,629.0 C780.4,631.5 782.7,633.1 787.6,636.6 C792.5,640.1 801.3,646.7 806.0,649.9 C810.7,653.1 813.2,652.5 816.0,655.6 C818.8,658.7 820.8,664.4 823.0,668.6 C825.2,672.8 827.3,677.9 829.0,680.8 C830.7,683.7 831.2,684.9 833.4,686.0 C835.6,687.1 839.5,687.0 842.1,687.7 C844.7,688.4 847.0,688.4 849.0,690.3 C851.0,692.2 852.5,695.8 854.2,699.0 C855.9,702.2 857.1,706.5 859.4,709.4 C861.7,712.3 865.6,714.5 868.1,716.3 C870.6,718.0 870.7,718.7 874.2,719.9 C877.7,721.1 884.3,721.3 889.3,723.3 C894.3,725.3 899.9,729.7 904.0,732.1 C908.1,734.5 909.6,736.0 913.7,737.9 C917.8,739.9 923.5,742.4 928.4,743.8 C933.3,745.2 938.9,745.6 943.0,746.2 C947.1,746.8 949.8,746.2 952.8,747.2 C955.8,748.2 957.6,750.4 960.8,752.1 C963.9,753.8 967.5,756.0 971.7,757.5 C975.9,759.0 981.3,760.4 985.8,760.8 C990.3,761.2 994.8,759.2 998.8,759.7 C1002.8,760.2 1006.1,762.4 1009.7,764.0 C1013.3,765.6 1016.7,768.4 1020.5,769.5 C1024.3,770.6 1027.9,771.0 1032.6,770.6 C1037.3,770.2 1044.3,768.9 1048.8,767.3 C1053.3,765.6 1054.9,763.0 1059.5,760.7 C1064.1,758.4 1069.7,755.2 1076.4,753.7 C1083.2,752.2 1093.0,752.9 1100.0,751.7 C1107.0,750.5 1112.7,748.4 1118.7,746.6 C1124.7,744.8 1130.0,743.9 1135.8,741.0 C1141.6,738.1 1147.7,731.1 1153.7,729.1 C1159.7,727.1 1166.6,729.6 1171.6,729.1 C1176.6,728.6 1179.9,727.7 1183.5,726.1 C1187.1,724.5 1189.1,721.2 1193.1,719.5 C1197.1,717.8 1201.7,716.7 1207.4,715.9 C1213.1,715.1 1219.7,717.2 1227.1,714.7 C1234.5,712.2 1244.0,704.5 1251.7,700.7 C1259.4,696.9 1266.2,695.1 1273.4,692.1 C1280.6,689.1 1286.8,686.2 1295.1,682.8 C1303.4,679.3 1318.4,673.3 1323.1,671.4" fill="none" stroke="#f8a868" stroke-width="4.5"/>
<path d="M733.4,608.4 C735.2,608.9 740.6,610.5 744.2,611.6 C747.8,612.7 751.4,613.3 755.0,614.9 C758.6,616.5 762.4,619.1 766.0,621.4 C769.6,623.8 773.2,626.5 776.8,629.0 C780.4,631.5 782.7,633.1 787.6,636.6 C792.5,640.1 801.3,646.7 806.0,649.9 C810.7,653.1 813.2,652.5 816.0,655.6 C818.8,658.7 820.8,664.4 823.0,668.6 C825.2,672.8 827.3,677.9 829.0,680.8 C830.7,683.7 831.2,684.9 833.4,686.0 C835.6,687.1 839.5,687.0 842.1,687.7 C844.7,688.4 847.0,688.4 849.0,690.3 C851.0,692.2 852.5,695.8 854.2,699.0 C855.9,702.2 857.1,706.5 859.4,709.4 C861.7,712.3 865.6,714.5 868.1,716.3 C870.6,718.0 870.7,718.7 874.2,719.9 C877.7,721.1 884.3,721.3 889.3,723.3 C894.3,725.3 899.9,729.7 904.0,732.1 C908.1,734.5 909.6,736.0 913.7,737.9 C917.8,739.9 923.5,742.4 928.4,743.8 C933.3,745.2 938.9,745.6 943.0,746.2 C947.1,746.8 949.8,746.2 952.8,747.2 C955.8,748.2 957.6,750.4 960.8,752.1 C963.9,753.8 967.5,756.0 971.7,757.5 C975.9,759.0 981.3,760.4 985.8,760.8 C990.3,761.2 994.8,759.2 998.8,759.7 C1002.8,760.2 1006.1,762.4 1009.7,764.0 C1013.3,765.6 1016.7,768.4 1020.5,769.5 C1024.3,770.6 1027.9,771.0 1032.6,770.6 C1037.3,770.2 1044.3,768.9 1048.8,767.3 C1053.3,765.6 1054.9,763.0 1059.5,760.7 C1064.1,758.4 1069.7,755.2 1076.4,753.7 C1083.2,752.2 1093.0,752.9 1100.0,751.7 C1107.0,750.5 1112.7,748.4 1118.7,746.6 C1124.7,744.8 1130.0,743.9 1135.8,741.0 C1141.6,738.1 1147.7,731.1 1153.7,729.1 C1159.7,727.1 1166.6,729.6 1171.6,729.1 C1176.6,728.6 1179.9,727.7 1183.5,726.1 C1187.1,724.5 1189.1,721.2 1193.1,719.5 C1197.1,717.8 1205.0,716.5 1207.4,715.9" fill="none" stroke="#f8a060" stroke-width="10"/>
<path d="M733.4,608.4 C735.2,608.9 740.6,610.5 744.2,611.6 C747.8,612.7 751.4,613.3 755.0,614.9 C758.6,616.5 762.4,619.1 766.0,621.4 C769.6,623.8 773.2,626.5 776.8,629.0 C780.4,631.5 782.7,633.1 787.6,636.6 C792.5,640.1 801.3,646.7 806.0,649.9 C810.7,653.1 813.2,652.5 816.0,655.6 C818.8,658.7 820.8,664.4 823.0,668.6 C825.2,672.8 827.3,677.9 829.0,680.8 C830.7,683.7 831.2,684.9 833.4,686.0 C835.6,687.1 839.5,687.0 842.1,687.7 C844.7,688.4 847.0,688.4 849.0,690.3 C851.0,692.2 852.5,695.8 854.2,699.0 C855.9,702.2 857.1,706.5 859.4,709.4 C861.7,712.3 865.6,714.5 868.1,716.3 C870.6,718.0 870.7,718.7 874.2,719.9 C877.7,721.1 884.3,721.3 889.3,723.3 C894.3,725.3 899.9,729.7 904.0,732.1 C908.1,734.5 909.6,736.0 913.7,737.9 C917.8,739.9 923.5,742.4 928.4,743.8 C933.3,745.2 938.9,745.6 943.0,746.2 C947.1,746.8 949.8,746.2 952.8,747.2 C955.8,748.2 957.6,750.4 960.8,752.1 C963.9,753.8 967.5,756.0 971.7,757.5 C975.9,759.0 981.3,760.4 985.8,760.8 C990.3,761.2 994.8,759.2 998.8,759.7 C1002.8,760.2 1006.1,762.4 1009.7,764.0 C1013.3,765.6 1016.7,768.4 1020.5,769.5 C1024.3,770.6 1027.9,771.0 1032.6,770.6 C1037.3,770.2 1044.3,768.9 1048.8,767.3 C1053.3,765.6 1054.9,763.0 1059.5,760.7 C1064.1,758.4 1069.7,755.2 1076.4,753.7 C1083.2,752.2 1093.0,752.9 1100.0,751.7 C1107.0,750.5 1112.7,748.4 1118.7,746.6 C1124.7,744.8 1130.0,743.9 1135.8,741.0 C1141.6,738.1 1147.7,731.1 1153.7,729.1 C1159.7,727.1 1166.6,729.6 1171.6,729.1 C1176.6,728.6 1179.9,727.7 1183.5,726.1 C1187.1,724.5 1189.1,721.2 1193.1,719.5 C1197.1,717.8 1205.0,716.5 1207.4,715.9" fill="none" stroke="#ff3326" stroke-width="6"/>
<path d="M202,561.6 L202,573.9 L216,567.6Z" fill="#ff3326"/>
<path d="M202,507.6 L202,573.6" stroke="#f6b37a" stroke-width="3"/>
<g filter="url(#blb)">
<ellipse cx="276.0" cy="552.6" rx="3.5" ry="3" fill="#2a70f0"/>
<ellipse cx="346.0" cy="548.1" rx="3.5" ry="3" fill="#2a70f0"/>
<ellipse cx="402.7" cy="550.6" rx="3.5" ry="3" fill="#2a70f0"/>
<ellipse cx="449.0" cy="552.3" rx="3.5" ry="3" fill="#2a70f0"/>
<ellipse cx="494.3" cy="558.9" rx="3.5" ry="3" fill="#2a70f0"/>
<ellipse cx="546.0" cy="572.3" rx="3.5" ry="3" fill="#2a70f0"/>
<ellipse cx="589.3" cy="590.6" rx="3.5" ry="3" fill="#2a70f0"/>
<ellipse cx="647.7" cy="607.6" rx="3.5" ry="3" fill="#2a70f0"/>
<ellipse cx="701.0" cy="639.6" rx="3.5" ry="3" fill="#2a70f0"/>
<ellipse cx="751.0" cy="690.0" rx="3.5" ry="3" fill="#2a70f0"/>
<ellipse cx="745.5" cy="616.3" rx="5" ry="3" fill="#3c8cf0"/>
<ellipse cx="790.0" cy="653.3" rx="6" ry="4" fill="#3c8cf0"/>
<ellipse cx="809.5" cy="659.6" rx="6" ry="5" fill="#3c8cf0"/>
<ellipse cx="838.8" cy="695.4" rx="5" ry="5" fill="#3c8cf0"/>
<ellipse cx="1147.0" cy="742.6" rx="6" ry="3.5" fill="#3c8cf0"/>
<ellipse cx="1199.0" cy="723.6" rx="5" ry="3" fill="#3c8cf0"/>
<ellipse cx="997.0" cy="768.6" rx="4" ry="3.5" fill="#3c8cf0"/>
<ellipse cx="1243.0" cy="761.6" rx="5" ry="8" fill="#6a5cf0"/>
<ellipse cx="1312.0" cy="717.6" rx="6" ry="6" fill="#6a5cf0"/>
<ellipse cx="1318.0" cy="712.6" rx="5" ry="4" fill="#6a5cf0"/>
<ellipse cx="1282.0" cy="737.6" rx="4" ry="4" fill="#6a5cf0"/>
</g>
<path d="M271.0,555.6 L278.0,535.6" stroke="#f4a868" stroke-width="1.1"/>
<path d="M341.0,551.1 L348.0,531.1" stroke="#f4a868" stroke-width="1.1"/>
<path d="M397.7,553.6 L404.7,533.6" stroke="#f4a868" stroke-width="1.1"/>
<path d="M444.0,555.3 L451.0,535.3" stroke="#f4a868" stroke-width="1.1"/>
<path d="M489.3,561.9 L496.3,541.9" stroke="#f4a868" stroke-width="1.1"/>
<path d="M541.0,575.3 L548.0,555.3" stroke="#f4a868" stroke-width="1.1"/>
<path d="M584.3,593.6 L591.3,573.6" stroke="#f4a868" stroke-width="1.1"/>
<path d="M642.7,610.6 L649.7,590.6" stroke="#f4a868" stroke-width="1.1"/>
<path d="M696.0,642.6 L703.0,622.6" stroke="#f4a868" stroke-width="1.1"/>
<path d="M746.0,693.0 L753.0,673.0" stroke="#f4a868" stroke-width="1.1"/>
</g>
<path d="M279.3,504.8 C282.2,504.5 290.5,503.4 296.7,502.8 C302.9,502.2 311.1,501.8 316.7,501.4 C322.2,501.0 322.8,501.0 330.0,500.5 C337.2,500.0 349.5,499.1 360.0,498.5 C370.5,497.9 383.0,496.8 393.0,497.0 C403.0,497.2 410.5,498.8 420.0,500.0 C429.5,501.2 440.8,503.1 450.0,504.0 C459.2,504.9 467.3,504.8 475.0,505.6 C482.7,506.4 489.1,507.7 496.2,509.0 C503.2,510.3 510.2,511.7 517.3,513.3 C524.3,515.0 531.5,516.9 538.5,518.9 C545.5,520.9 553.5,523.4 559.6,525.3 C565.7,527.2 568.1,528.2 575.0,530.3 C581.9,532.5 592.3,534.9 601.0,538.2 C609.7,541.5 618.4,545.5 627.1,549.9 C635.8,554.2 644.4,560.0 653.1,564.3 C661.8,568.7 672.1,572.8 679.1,576.0 C686.1,579.2 690.4,581.2 695.0,583.8 C699.6,586.4 700.7,587.9 706.5,591.6 C712.3,595.3 724.3,602.5 730.0,606.1 C735.7,609.7 737.2,611.1 740.8,613.0 C744.4,614.9 748.1,615.4 751.7,617.4 C755.3,619.4 758.9,622.6 762.5,624.9 C766.1,627.3 769.8,629.5 773.4,631.5 C777.0,633.5 780.6,634.6 784.2,636.9 C787.8,639.3 791.4,643.1 795.0,645.6 C798.6,648.1 802.3,649.9 805.9,652.1 C809.5,654.4 813.9,656.1 816.8,659.1 C819.6,662.1 820.5,665.7 823.0,670.0 C825.5,674.3 829.0,681.8 831.6,684.8 C834.2,687.8 836.1,687.1 838.6,688.2 C841.1,689.4 844.1,690.0 846.4,691.7 C848.7,693.4 850.3,695.7 852.5,698.6 C854.7,701.5 856.8,705.7 859.4,709.0 C862.0,712.3 865.0,716.3 868.1,718.6 C871.2,720.9 874.0,721.8 877.9,723.0 C881.8,724.2 887.1,723.6 891.6,725.6 C896.1,727.6 899.2,731.8 904.6,734.7 C910.0,737.6 918.2,740.9 924.1,743.1 C930.0,745.3 935.4,746.7 940.0,748.1 C944.6,749.5 946.1,749.7 951.7,751.7 C957.3,753.8 966.9,758.1 973.4,760.4 C979.9,762.8 985.4,764.3 990.8,765.8 C996.2,767.2 1000.8,768.0 1006.0,769.1 C1011.2,770.2 1016.8,772.1 1022.2,772.3 C1027.6,772.5 1033.9,770.8 1038.5,770.1 C1043.1,769.5 1045.3,769.2 1050.0,768.4 C1054.7,767.7 1060.3,767.0 1066.7,765.6 C1073.1,764.2 1081.2,762.3 1088.4,760.1 C1095.6,757.9 1102.9,755.0 1110.1,752.6 C1117.3,750.2 1126.0,747.8 1131.8,746.0 C1137.6,744.2 1140.0,743.4 1145.0,741.7 C1150.0,740.0 1155.3,737.5 1161.7,735.6 C1168.1,733.7 1176.2,732.5 1183.4,730.1 C1190.6,727.8 1197.9,724.0 1205.1,721.5 C1212.3,719.0 1221.0,716.9 1226.8,714.9 C1232.6,712.9 1235.8,711.2 1240.0,709.6 C1244.2,708.0 1246.1,707.9 1251.7,705.6 C1257.3,703.3 1266.2,698.9 1273.4,695.8 C1280.6,692.7 1286.8,690.9 1295.1,687.1 C1303.4,683.3 1318.4,675.4 1323.1,673.0 L1323.1,703.1 C1320.2,704.6 1312.4,708.6 1305.9,712.1 C1299.4,715.6 1291.4,720.0 1284.2,724.0 C1277.0,728.0 1269.9,731.8 1262.5,735.9 C1255.1,740.0 1246.0,744.8 1240.0,748.6 C1234.0,752.4 1232.6,755.4 1226.8,758.6 C1221.0,761.8 1212.3,764.7 1205.1,767.6 C1197.9,770.5 1190.6,773.3 1183.4,776.1 C1176.2,778.9 1168.1,781.9 1161.7,784.6 C1155.3,787.4 1150.0,790.0 1145.0,792.6 C1140.0,795.2 1136.0,798.0 1131.8,800.1 C1127.6,802.2 1125.5,803.7 1120.0,805.2 C1114.5,806.7 1105.4,807.8 1098.6,809.1 C1091.8,810.4 1084.4,812.0 1079.0,813.1 C1073.6,814.2 1071.7,815.2 1066.0,815.6 C1060.3,816.0 1052.3,816.1 1045.0,815.6 C1037.7,815.1 1028.7,813.6 1022.2,812.5 C1015.7,811.4 1011.2,810.3 1006.0,809.2 C1000.8,808.1 996.2,807.5 990.8,805.9 C985.4,804.3 979.9,801.8 973.4,799.4 C966.9,797.1 957.3,794.6 951.7,791.8 C946.1,789.0 944.6,785.3 940.0,782.6 C935.4,779.9 929.9,778.4 924.0,775.6 C918.1,772.8 910.0,768.4 904.6,765.9 C899.2,763.4 896.1,762.4 891.6,760.7 C887.1,759.0 882.2,758.1 877.9,755.5 C873.6,752.9 869.2,747.5 865.6,745.1 C862.0,742.7 858.9,742.4 856.4,741.2 C853.9,740.0 853.1,739.5 850.7,737.7 C848.3,736.0 845.0,733.0 842.1,730.7 C839.2,728.4 836.3,726.4 833.4,723.8 C830.5,721.2 827.6,718.0 824.7,715.1 C821.8,712.2 818.9,709.2 816.0,706.4 C813.1,703.7 810.3,701.2 807.4,698.6 C804.5,696.0 801.6,693.3 798.7,690.6 C795.8,687.9 792.4,684.9 790.0,682.6 C787.6,680.3 787.0,679.2 784.2,676.6 C781.4,674.0 777.0,670.0 773.4,667.2 C769.8,664.4 766.1,662.4 762.5,659.7 C758.9,657.0 755.3,653.7 751.7,651.0 C748.1,648.3 744.4,645.8 740.8,643.4 C737.2,641.1 733.0,639.3 730.0,636.9 C727.0,634.5 728.5,633.5 722.7,629.0 C716.9,624.5 702.3,614.7 695.0,609.8 C687.7,604.9 686.1,603.7 679.1,599.4 C672.1,595.1 661.8,588.3 653.1,583.8 C644.4,579.2 635.8,576.2 627.1,572.1 C618.4,568.0 609.7,562.9 601.0,559.0 C592.3,555.1 581.9,551.2 575.0,548.6 C568.1,546.0 564.5,545.6 559.6,543.6 C554.7,541.6 550.2,538.1 545.5,536.5 C540.8,534.9 536.1,534.9 531.4,533.7 C526.7,532.5 523.2,531.1 517.3,529.5 C511.4,527.9 503.2,525.4 496.2,523.9 C489.1,522.4 481.0,521.5 475.0,520.3 C469.0,519.1 465.8,517.7 460.0,516.5 C454.2,515.3 446.7,513.9 440.0,513.0 C433.3,512.1 428.3,512.0 420.0,511.0 C411.7,510.0 400.0,507.6 390.0,507.0 C380.0,506.4 370.0,507.6 360.0,507.5 C350.0,507.4 340.6,506.5 330.0,506.5 C319.4,506.5 305.1,507.1 296.7,507.3 C288.2,507.5 282.2,507.6 279.3,507.6Z" fill="#000"/>
<path d="M884.0,724.8 C884.8,725.0 887.3,725.3 889.0,725.9 C890.7,726.4 892.3,727.1 894.0,728.1 C895.7,729.0 897.3,730.3 899.0,731.4 C900.7,732.5 902.3,733.8 904.0,734.8 C905.7,735.7 907.3,736.3 909.0,737.1 C910.7,737.8 912.3,738.5 914.0,739.2 C915.7,739.9 917.3,740.6 919.0,741.3 C920.7,742.1 922.3,742.9 924.0,743.5 C925.7,744.1 927.3,744.5 929.0,745.1 C930.7,745.6 932.3,746.1 934.0,746.6 C935.7,747.2 937.3,747.7 939.0,748.2 C940.7,748.8 942.3,749.3 944.0,749.8 C945.7,750.3 947.3,750.8 949.0,751.3 C950.7,751.9 952.3,752.5 954.0,753.1 C955.7,753.7 957.3,754.4 959.0,755.1 C960.7,755.7 962.3,756.4 964.0,757.1 C965.7,757.7 967.3,758.4 969.0,759.0 C970.7,759.7 972.3,760.4 974.0,761.0 C975.7,761.6 977.3,762.1 979.0,762.6 C980.7,763.2 982.3,763.7 984.0,764.3 C985.7,764.8 987.3,765.4 989.0,765.9 C990.7,766.4 992.3,766.9 994.0,767.3 C995.7,767.7 997.3,768.0 999.0,768.4 C1000.7,768.8 1002.3,769.1 1004.0,769.5 C1005.7,769.9 1007.3,770.2 1009.0,770.6 C1010.7,770.9 1012.3,771.2 1014.0,771.6 C1015.7,771.9 1017.3,772.3 1019.0,772.6 C1020.7,772.8 1022.3,773.0 1024.0,773.0 C1025.7,772.9 1027.3,772.6 1029.0,772.4 C1030.7,772.2 1032.3,772.1 1034.0,771.9 C1035.7,771.7 1037.3,771.5 1039.0,771.3 C1040.7,771.1 1042.3,770.9 1044.0,770.7 C1045.7,770.4 1047.3,770.2 1049.0,770.0 C1050.7,769.8 1052.3,769.5 1054.0,769.2 C1055.7,769.0 1057.3,768.7 1059.0,768.4 C1060.7,768.1 1062.3,767.9 1064.0,767.6 C1065.7,767.3 1067.3,767.0 1069.0,766.6 C1070.7,766.2 1072.3,765.8 1074.0,765.4 C1075.7,764.9 1077.3,764.5 1079.0,764.1 C1080.7,763.7 1082.3,763.3 1084.0,762.9 C1085.7,762.5 1087.3,762.1 1089.0,761.6 C1090.7,761.1 1092.3,760.5 1094.0,760.0 C1095.7,759.5 1097.3,758.9 1099.0,758.4 C1100.7,757.8 1102.3,757.3 1104.0,756.8 C1105.7,756.2 1107.3,755.7 1109.0,755.2 C1110.7,754.6 1112.3,754.1 1114.0,753.6 C1115.7,753.1 1117.3,752.6 1119.0,752.1 C1120.7,751.5 1122.3,751.0 1124.0,750.5 C1125.7,750.0 1127.3,749.5 1129.0,749.0 C1130.7,748.4 1132.3,747.8 1134.0,747.2 C1135.7,746.6 1137.3,745.8 1139.0,745.2 C1140.7,744.5 1142.3,743.9 1144.0,743.3 C1145.7,742.7 1147.3,742.0 1149.0,741.4 C1150.7,740.8 1152.3,740.1 1154.0,739.5 C1155.7,738.9 1157.3,738.2 1159.0,737.6 C1160.7,737.0 1162.3,736.4 1164.0,736.0 C1165.7,735.5 1167.3,735.1 1169.0,734.6 C1170.7,734.2 1172.3,733.8 1174.0,733.3 C1175.7,732.9 1177.3,732.5 1179.0,732.0 C1180.7,731.6 1182.3,731.2 1184.0,730.6 C1185.7,730.1 1187.3,729.3 1189.0,728.7 C1190.7,728.0 1192.3,727.4 1194.0,726.7 C1195.7,726.1 1197.3,725.4 1199.0,724.8 C1200.7,724.1 1202.3,723.4 1204.0,722.8 C1205.7,722.2 1207.3,721.7 1209.0,721.2 C1210.7,720.7 1212.3,720.2 1214.0,719.6 C1215.7,719.1 1217.3,718.6 1219.0,718.1 C1220.7,717.6 1222.3,717.1 1224.0,716.6 C1225.7,716.0 1227.3,715.4 1229.0,714.8 C1230.7,714.2 1233.2,713.2 1234.0,712.9" fill="none" stroke="#ecd08a" stroke-width="1.6"/>
<path d="M884.0,725.7 C884.8,725.9 887.3,726.5 889.0,727.1 C890.7,727.6 892.3,728.4 894.0,729.3 C895.7,730.1 897.3,731.3 899.0,732.4 C900.7,733.4 902.3,734.6 904.0,735.5 C905.7,736.4 907.3,737.0 909.0,737.7 C910.7,738.5 912.3,739.2 914.0,739.9 C915.7,740.6 917.3,741.3 919.0,742.0 C920.7,742.7 922.3,743.5 924.0,744.1 C925.7,744.7 927.3,745.2 929.0,745.7 C930.7,746.2 932.3,746.8 934.0,747.3 C935.7,747.8 937.3,748.4 939.0,748.9 C940.7,749.4 942.3,749.9 944.0,750.5 C945.7,751.0 947.3,751.5 949.0,752.0 C950.7,752.6 952.3,753.2 954.0,753.8 C955.7,754.4 957.3,755.1 959.0,755.7 C960.7,756.4 962.3,757.0 964.0,757.7 C965.7,758.3 967.3,759.0 969.0,759.6 C970.7,760.3 972.3,761.0 974.0,761.6 C975.7,762.2 977.3,762.7 979.0,763.3 C980.7,763.9 982.3,764.5 984.0,765.1 C985.7,765.7 987.3,766.3 989.0,766.9 C990.7,767.4 992.3,768.0 994.0,768.4 C995.7,768.9 997.3,769.2 999.0,769.6 C1000.7,770.0 1002.3,770.4 1004.0,770.8 C1005.7,771.1 1007.3,771.5 1009.0,771.8 C1010.7,772.2 1012.3,772.6 1014.0,772.9 C1015.7,773.2 1017.3,773.6 1019.0,773.9 C1020.7,774.1 1022.3,774.3 1024.0,774.3 C1025.7,774.3 1027.3,774.1 1029.0,774.0 C1030.7,773.9 1032.3,773.8 1034.0,773.7 C1035.7,773.5 1037.3,773.5 1039.0,773.3 C1040.7,773.2 1042.3,772.9 1044.0,772.7 C1045.7,772.6 1047.3,772.4 1049.0,772.2 C1050.7,772.0 1052.3,771.7 1054.0,771.4 C1055.7,771.2 1057.3,770.9 1059.0,770.7 C1060.7,770.4 1062.3,770.2 1064.0,769.9 C1065.7,769.6 1067.3,769.3 1069.0,769.0 C1070.7,768.6 1072.3,768.2 1074.0,767.8 C1075.7,767.4 1077.3,767.0 1079.0,766.6 C1080.7,766.2 1082.3,765.8 1084.0,765.4 C1085.7,765.0 1087.3,764.6 1089.0,764.2 C1090.7,763.7 1092.3,763.2 1094.0,762.7 C1095.7,762.3 1097.3,761.8 1099.0,761.3 C1100.7,760.8 1102.3,760.3 1104.0,759.9 C1105.7,759.4 1107.3,758.9 1109.0,758.4 C1110.7,757.9 1112.3,757.4 1114.0,756.9 C1115.7,756.4 1117.3,755.8 1119.0,755.3 C1120.7,754.8 1122.3,754.2 1124.0,753.7 C1125.7,753.2 1127.3,752.7 1129.0,752.1 C1130.7,751.5 1132.3,750.9 1134.0,750.1 C1135.7,749.3 1137.3,748.3 1139.0,747.5 C1140.7,746.7 1142.3,745.9 1144.0,745.2 C1145.7,744.5 1147.3,743.9 1149.0,743.2 C1150.7,742.5 1152.3,741.8 1154.0,741.1 C1155.7,740.5 1157.3,739.7 1159.0,739.1 C1160.7,738.5 1162.3,737.9 1164.0,737.4 C1165.7,736.9 1167.3,736.5 1169.0,736.0 C1170.7,735.5 1172.3,735.1 1174.0,734.6 C1175.7,734.2 1177.3,733.7 1179.0,733.3 C1180.7,732.8 1182.3,732.4 1184.0,731.8 C1185.7,731.3 1187.3,730.5 1189.0,729.9 C1190.7,729.3 1192.3,728.6 1194.0,728.0 C1195.7,727.4 1197.3,726.7 1199.0,726.1 C1200.7,725.4 1202.3,724.8 1204.0,724.2 C1205.7,723.6 1207.3,723.1 1209.0,722.5 C1210.7,722.0 1212.3,721.5 1214.0,720.9 C1215.7,720.4 1217.3,719.9 1219.0,719.3 C1220.7,718.8 1222.3,718.3 1224.0,717.8 C1225.7,717.2 1227.3,716.6 1229.0,716.0 C1230.7,715.4 1233.2,714.5 1234.0,714.1" fill="none" stroke="#ecd68e" stroke-width="1.5"/>
<path d="M884.0,726.8 C884.8,727.0 887.3,727.7 889.0,728.4 C890.7,729.0 892.3,729.7 894.0,730.6 C895.7,731.4 897.3,732.5 899.0,733.4 C900.7,734.4 902.3,735.5 904.0,736.3 C905.7,737.2 907.3,737.8 909.0,738.5 C910.7,739.2 912.3,739.9 914.0,740.6 C915.7,741.3 917.3,742.0 919.0,742.7 C920.7,743.4 922.3,744.2 924.0,744.8 C925.7,745.4 927.3,745.9 929.0,746.4 C930.7,747.0 932.3,747.5 934.0,748.0 C935.7,748.6 937.3,749.1 939.0,749.6 C940.7,750.2 942.3,750.7 944.0,751.2 C945.7,751.7 947.3,752.2 949.0,752.8 C950.7,753.3 952.3,753.9 954.0,754.5 C955.7,755.1 957.3,755.8 959.0,756.5 C960.7,757.1 962.3,757.7 964.0,758.4 C965.7,759.0 967.3,759.7 969.0,760.3 C970.7,760.9 972.3,761.6 974.0,762.2 C975.7,762.9 977.3,763.5 979.0,764.1 C980.7,764.8 982.3,765.4 984.0,766.0 C985.7,766.7 987.3,767.3 989.0,768.0 C990.7,768.6 992.3,769.2 994.0,769.7 C995.7,770.2 997.3,770.6 999.0,771.0 C1000.7,771.4 1002.3,771.8 1004.0,772.1 C1005.7,772.5 1007.3,772.9 1009.0,773.3 C1010.7,773.7 1012.3,774.0 1014.0,774.4 C1015.7,774.7 1017.3,775.1 1019.0,775.3 C1020.7,775.6 1022.3,775.7 1024.0,775.8 C1025.7,775.9 1027.3,775.7 1029.0,775.7 C1030.7,775.7 1032.3,775.7 1034.0,775.6 C1035.7,775.6 1037.3,775.6 1039.0,775.5 C1040.7,775.4 1042.3,775.2 1044.0,775.0 C1045.7,774.9 1047.3,774.8 1049.0,774.6 C1050.7,774.4 1052.3,774.2 1054.0,773.9 C1055.7,773.7 1057.3,773.4 1059.0,773.2 C1060.7,773.0 1062.3,772.8 1064.0,772.5 C1065.7,772.2 1067.3,771.9 1069.0,771.6 C1070.7,771.2 1072.3,770.8 1074.0,770.4 C1075.7,770.1 1077.3,769.7 1079.0,769.3 C1080.7,768.9 1082.3,768.5 1084.0,768.2 C1085.7,767.8 1087.3,767.4 1089.0,767.0 C1090.7,766.6 1092.3,766.2 1094.0,765.8 C1095.7,765.4 1097.3,764.9 1099.0,764.5 C1100.7,764.1 1102.3,763.7 1104.0,763.3 C1105.7,762.9 1107.3,762.5 1109.0,762.1 C1110.7,761.6 1112.3,761.1 1114.0,760.5 C1115.7,760.0 1117.3,759.4 1119.0,758.9 C1120.7,758.3 1122.3,757.8 1124.0,757.3 C1125.7,756.7 1127.3,756.3 1129.0,755.6 C1130.7,755.0 1132.3,754.2 1134.0,753.3 C1135.7,752.4 1137.3,751.1 1139.0,750.1 C1140.7,749.1 1142.3,748.1 1144.0,747.3 C1145.7,746.5 1147.3,745.9 1149.0,745.1 C1150.7,744.4 1152.3,743.7 1154.0,743.0 C1155.7,742.2 1157.3,741.4 1159.0,740.8 C1160.7,740.1 1162.3,739.5 1164.0,738.9 C1165.7,738.4 1167.3,738.0 1169.0,737.5 C1170.7,737.0 1172.3,736.5 1174.0,736.1 C1175.7,735.6 1177.3,735.1 1179.0,734.6 C1180.7,734.1 1182.3,733.7 1184.0,733.1 C1185.7,732.6 1187.3,731.9 1189.0,731.3 C1190.7,730.6 1192.3,730.0 1194.0,729.4 C1195.7,728.8 1197.3,728.1 1199.0,727.5 C1200.7,726.9 1202.3,726.3 1204.0,725.7 C1205.7,725.1 1207.3,724.5 1209.0,724.0 C1210.7,723.4 1212.3,722.9 1214.0,722.4 C1215.7,721.8 1217.3,721.3 1219.0,720.7 C1220.7,720.2 1222.3,719.7 1224.0,719.1 C1225.7,718.6 1227.3,718.0 1229.0,717.4 C1230.7,716.8 1233.2,715.9 1234.0,715.6" fill="none" stroke="#e6d890" stroke-width="1.4"/>
<path d="M884.0,727.8 C884.8,728.1 887.3,729.0 889.0,729.7 C890.7,730.3 892.3,731.1 894.0,731.9 C895.7,732.7 897.3,733.6 899.0,734.5 C900.7,735.4 902.3,736.3 904.0,737.1 C905.7,737.9 907.3,738.6 909.0,739.3 C910.7,740.0 912.3,740.7 914.0,741.4 C915.7,742.1 917.3,742.8 919.0,743.4 C920.7,744.1 922.3,744.9 924.0,745.5 C925.7,746.2 927.3,746.6 929.0,747.1 C930.7,747.7 932.3,748.2 934.0,748.8 C935.7,749.3 937.3,749.8 939.0,750.4 C940.7,750.9 942.3,751.4 944.0,752.0 C945.7,752.5 947.3,753.0 949.0,753.6 C950.7,754.1 952.3,754.7 954.0,755.3 C955.7,755.9 957.3,756.6 959.0,757.2 C960.7,757.8 962.3,758.5 964.0,759.1 C965.7,759.7 967.3,760.3 969.0,761.0 C970.7,761.6 972.3,762.2 974.0,762.9 C975.7,763.5 977.3,764.3 979.0,764.9 C980.7,765.6 982.3,766.3 984.0,767.0 C985.7,767.7 987.3,768.4 989.0,769.0 C990.7,769.7 992.3,770.5 994.0,771.0 C995.7,771.6 997.3,771.9 999.0,772.3 C1000.7,772.8 1002.3,773.1 1004.0,773.5 C1005.7,773.9 1007.3,774.3 1009.0,774.7 C1010.7,775.1 1012.3,775.5 1014.0,775.9 C1015.7,776.2 1017.3,776.6 1019.0,776.8 C1020.7,777.1 1022.3,777.2 1024.0,777.3 C1025.7,777.4 1027.3,777.4 1029.0,777.4 C1030.7,777.5 1032.3,777.6 1034.0,777.6 C1035.7,777.6 1037.3,777.7 1039.0,777.7 C1040.7,777.7 1042.3,777.5 1044.0,777.4 C1045.7,777.2 1047.3,777.2 1049.0,777.0 C1050.7,776.9 1052.3,776.6 1054.0,776.4 C1055.7,776.2 1057.3,776.0 1059.0,775.7 C1060.7,775.5 1062.3,775.3 1064.0,775.1 C1065.7,774.8 1067.3,774.5 1069.0,774.2 C1070.7,773.9 1072.3,773.5 1074.0,773.1 C1075.7,772.7 1077.3,772.4 1079.0,772.0 C1080.7,771.7 1082.3,771.3 1084.0,770.9 C1085.7,770.6 1087.3,770.2 1089.0,769.8 C1090.7,769.5 1092.3,769.2 1094.0,768.8 C1095.7,768.5 1097.3,768.1 1099.0,767.8 C1100.7,767.4 1102.3,767.1 1104.0,766.7 C1105.7,766.4 1107.3,766.1 1109.0,765.7 C1110.7,765.3 1112.3,764.7 1114.0,764.2 C1115.7,763.6 1117.3,763.0 1119.0,762.5 C1120.7,761.9 1122.3,761.4 1124.0,760.8 C1125.7,760.2 1127.3,759.8 1129.0,759.1 C1130.7,758.4 1132.3,757.6 1134.0,756.5 C1135.7,755.4 1137.3,753.8 1139.0,752.6 C1140.7,751.5 1142.3,750.3 1144.0,749.4 C1145.7,748.5 1147.3,747.9 1149.0,747.1 C1150.7,746.3 1152.3,745.6 1154.0,744.8 C1155.7,744.0 1157.3,743.2 1159.0,742.5 C1160.7,741.7 1162.3,741.1 1164.0,740.5 C1165.7,739.9 1167.3,739.5 1169.0,739.0 C1170.7,738.5 1172.3,738.0 1174.0,737.5 C1175.7,737.0 1177.3,736.5 1179.0,736.0 C1180.7,735.5 1182.3,735.0 1184.0,734.4 C1185.7,733.9 1187.3,733.2 1189.0,732.6 C1190.7,732.0 1192.3,731.4 1194.0,730.8 C1195.7,730.2 1197.3,729.6 1199.0,729.0 C1200.7,728.4 1202.3,727.7 1204.0,727.2 C1205.7,726.6 1207.3,726.0 1209.0,725.5 C1210.7,724.9 1212.3,724.3 1214.0,723.8 C1215.7,723.2 1217.3,722.7 1219.0,722.1 C1220.7,721.6 1222.3,721.0 1224.0,720.5 C1225.7,719.9 1227.3,719.3 1229.0,718.7 C1230.7,718.2 1233.2,717.3 1234.0,717.0" fill="none" stroke="#dfe095" stroke-width="1.2"/>
<path d="M884.0,728.8 C884.8,729.1 887.3,730.1 889.0,730.8 C890.7,731.6 892.3,732.3 894.0,733.1 C895.7,733.8 897.3,734.7 899.0,735.5 C900.7,736.3 902.3,737.1 904.0,737.8 C905.7,738.6 907.3,739.3 909.0,740.0 C910.7,740.7 912.3,741.3 914.0,742.0 C915.7,742.7 917.3,743.4 919.0,744.1 C920.7,744.8 922.3,745.6 924.0,746.2 C925.7,746.8 927.3,747.3 929.0,747.8 C930.7,748.3 932.3,748.9 934.0,749.4 C935.7,750.0 937.3,750.5 939.0,751.0 C940.7,751.6 942.3,752.1 944.0,752.6 C945.7,753.2 947.3,753.7 949.0,754.3 C950.7,754.8 952.3,755.4 954.0,756.0 C955.7,756.6 957.3,757.2 959.0,757.9 C960.7,758.5 962.3,759.1 964.0,759.7 C965.7,760.3 967.3,760.9 969.0,761.6 C970.7,762.2 972.3,762.8 974.0,763.5 C975.7,764.2 977.3,764.9 979.0,765.7 C980.7,766.4 982.3,767.1 984.0,767.8 C985.7,768.6 987.3,769.3 989.0,770.0 C990.7,770.7 992.3,771.6 994.0,772.2 C995.7,772.8 997.3,773.1 999.0,773.6 C1000.7,774.0 1002.3,774.4 1004.0,774.8 C1005.7,775.2 1007.3,775.6 1009.0,776.0 C1010.7,776.4 1012.3,776.9 1014.0,777.2 C1015.7,777.6 1017.3,777.9 1019.0,778.1 C1020.7,778.4 1022.3,778.5 1024.0,778.6 C1025.7,778.8 1027.3,778.9 1029.0,779.0 C1030.7,779.1 1032.3,779.3 1034.0,779.4 C1035.7,779.5 1037.3,779.7 1039.0,779.7 C1040.7,779.7 1042.3,779.5 1044.0,779.4 C1045.7,779.3 1047.3,779.3 1049.0,779.2 C1050.7,779.1 1052.3,778.8 1054.0,778.6 C1055.7,778.4 1057.3,778.2 1059.0,778.0 C1060.7,777.8 1062.3,777.6 1064.0,777.4 C1065.7,777.1 1067.3,776.9 1069.0,776.6 C1070.7,776.2 1072.3,775.9 1074.0,775.5 C1075.7,775.2 1077.3,774.8 1079.0,774.5 C1080.7,774.1 1082.3,773.8 1084.0,773.4 C1085.7,773.1 1087.3,772.7 1089.0,772.4 C1090.7,772.1 1092.3,771.8 1094.0,771.5 C1095.7,771.3 1097.3,771.0 1099.0,770.7 C1100.7,770.4 1102.3,770.1 1104.0,769.8 C1105.7,769.6 1107.3,769.4 1109.0,769.0 C1110.7,768.6 1112.3,768.0 1114.0,767.4 C1115.7,766.9 1117.3,766.3 1119.0,765.7 C1120.7,765.1 1122.3,764.6 1124.0,764.0 C1125.7,763.4 1127.3,763.0 1129.0,762.3 C1130.7,761.5 1132.3,760.6 1134.0,759.4 C1135.7,758.1 1137.3,756.3 1139.0,754.9 C1140.7,753.6 1142.3,752.3 1144.0,751.3 C1145.7,750.3 1147.3,749.7 1149.0,748.9 C1150.7,748.1 1152.3,747.2 1154.0,746.4 C1155.7,745.6 1157.3,744.7 1159.0,744.0 C1160.7,743.2 1162.3,742.5 1164.0,741.9 C1165.7,741.3 1167.3,740.9 1169.0,740.3 C1170.7,739.8 1172.3,739.3 1174.0,738.8 C1175.7,738.3 1177.3,737.7 1179.0,737.2 C1180.7,736.7 1182.3,736.2 1184.0,735.6 C1185.7,735.0 1187.3,734.4 1189.0,733.8 C1190.7,733.2 1192.3,732.6 1194.0,732.0 C1195.7,731.5 1197.3,730.9 1199.0,730.3 C1200.7,729.7 1202.3,729.1 1204.0,728.5 C1205.7,727.9 1207.3,727.3 1209.0,726.8 C1210.7,726.2 1212.3,725.6 1214.0,725.1 C1215.7,724.5 1217.3,723.9 1219.0,723.4 C1220.7,722.8 1222.3,722.2 1224.0,721.7 C1225.7,721.1 1227.3,720.5 1229.0,720.0 C1230.7,719.4 1233.2,718.5 1234.0,718.2" fill="none" stroke="#d8e49a" stroke-width="1.0"/>
<path d="M600.0,561.8 C601.0,562.3 604.0,563.7 606.0,564.7 C608.0,565.7 610.0,566.7 612.0,567.7 C614.0,568.7 616.0,569.7 618.0,570.7 C620.0,571.7 622.0,572.8 624.0,573.7 C626.0,574.7 628.0,575.7 630.0,576.6 C632.0,577.5 634.0,578.4 636.0,579.3 C638.0,580.2 640.0,581.1 642.0,582.0 C644.0,582.9 646.0,583.8 648.0,584.7 C650.0,585.6 652.0,586.5 654.0,587.5 C656.0,588.6 658.0,589.9 660.0,591.1 C662.0,592.3 664.0,593.5 666.0,594.7 C668.0,595.9 670.0,597.1 672.0,598.3 C674.0,599.5 676.0,600.7 678.0,601.9 C680.0,603.2 682.0,604.5 684.0,605.8 C686.0,607.1 688.0,608.4 690.0,609.7 C692.0,611.0 694.0,612.3 696.0,613.7 C698.0,615.0 700.0,616.5 702.0,617.9 C704.0,619.2 706.0,620.6 708.0,622.0 C710.0,623.4 712.0,624.8 714.0,626.2 C716.0,627.6 718.0,628.7 720.0,630.3 C722.0,631.9 724.0,633.9 726.0,635.8 C728.0,637.6 730.0,639.8 732.0,641.3 C734.0,642.8 736.0,643.8 738.0,644.9 C740.0,646.1 742.0,646.9 744.0,648.2 C746.0,649.4 748.0,650.9 750.0,652.4 C752.0,653.8 754.0,655.4 756.0,657.0 C758.0,658.6 760.0,660.4 762.0,661.9 C764.0,663.4 766.0,664.6 768.0,666.0 C770.0,667.4 772.0,668.7 774.0,670.3 C776.0,671.9 778.0,673.7 780.0,675.5 C782.0,677.3 784.0,679.1 786.0,681.0 C788.0,682.9 790.0,685.1 792.0,687.0 C794.0,688.9 796.0,690.7 798.0,692.5 C800.0,694.4 802.0,696.2 804.0,698.0 C806.0,699.9 808.0,701.7 810.0,703.5 C812.0,705.3 814.0,707.1 816.0,709.0 C818.0,710.9 820.0,713.0 822.0,715.0 C824.0,717.0 826.0,719.0 828.0,721.0 C830.0,722.9 832.0,725.1 834.0,726.8 C836.0,728.6 838.0,730.0 840.0,731.6 C842.0,733.2 844.0,734.9 846.0,736.4 C848.0,738.0 850.0,739.7 852.0,741.1 C854.0,742.4 856.0,743.5 858.0,744.4 C860.0,745.4 862.0,745.8 864.0,747.0 C866.0,748.1 868.0,749.8 870.0,751.4 C872.0,753.0 874.0,755.1 876.0,756.5 C878.0,757.8 881.0,759.1 882.0,759.6" fill="none" stroke="#000" stroke-width="1.1"/>
<path d="M600.0,564.4 C601.0,564.9 604.0,566.3 606.0,567.3 C608.0,568.3 610.0,569.3 612.0,570.3 C614.0,571.3 616.0,572.3 618.0,573.3 C620.0,574.3 622.0,575.4 624.0,576.3 C626.0,577.3 628.0,578.3 630.0,579.2 C632.0,580.1 634.0,581.0 636.0,581.9 C638.0,582.8 640.0,583.7 642.0,584.6 C644.0,585.5 646.0,586.4 648.0,587.3 C650.0,588.2 652.0,589.1 654.0,590.1 C656.0,591.2 658.0,592.5 660.0,593.7 C662.0,594.9 664.0,596.1 666.0,597.3 C668.0,598.5 670.0,599.7 672.0,600.9 C674.0,602.1 676.0,603.3 678.0,604.5 C680.0,605.8 682.0,607.1 684.0,608.4 C686.0,609.7 688.0,611.0 690.0,612.3 C692.0,613.6 694.0,614.9 696.0,616.3 C698.0,617.6 700.0,619.1 702.0,620.5 C704.0,621.8 706.0,623.2 708.0,624.6 C710.0,626.0 712.0,627.4 714.0,628.8 C716.0,630.2 718.0,631.3 720.0,632.9 C722.0,634.5 724.0,636.5 726.0,638.4 C728.0,640.2 730.0,642.4 732.0,643.9 C734.0,645.4 736.0,646.5 738.0,647.5 C740.0,648.6 742.0,649.1 744.0,650.3 C746.0,651.4 748.0,653.0 750.0,654.5 C752.0,655.9 754.0,657.5 756.0,659.1 C758.0,660.7 760.0,662.4 762.0,663.9 C764.0,665.4 766.0,666.7 768.0,668.1 C770.0,669.5 772.0,670.8 774.0,672.4 C776.0,673.9 778.0,675.8 780.0,677.6 C782.0,679.4 784.0,681.2 786.0,683.1 C788.0,685.0 790.0,687.2 792.0,689.1 C794.0,691.0 796.0,692.8 798.0,694.6 C800.0,696.4 802.0,698.3 804.0,700.1 C806.0,701.9 808.0,703.8 810.0,705.6 C812.0,707.4 814.0,709.1 816.0,711.0 C818.0,712.9 820.0,715.0 822.0,717.0 C824.0,719.0 826.0,721.1 828.0,723.0 C830.0,725.0 832.0,727.1 834.0,728.9 C836.0,730.7 838.0,732.1 840.0,733.7 C842.0,735.3 844.0,736.9 846.0,738.5 C848.0,740.1 850.0,741.8 852.0,743.1 C854.0,744.5 856.0,745.5 858.0,746.5 C860.0,747.5 862.0,747.9 864.0,749.1 C866.0,750.2 868.0,751.9 870.0,753.5 C872.0,755.0 874.0,757.2 876.0,758.5 C878.0,759.9 881.0,761.2 882.0,761.7" fill="none" stroke="#000" stroke-width="0.9"/>
<path d="M1130.0,796.4 C1131.0,795.9 1134.0,794.3 1136.0,793.2 C1138.0,792.1 1140.0,790.9 1142.0,789.8 C1144.0,788.7 1146.0,787.7 1148.0,786.7 C1150.0,785.7 1152.0,784.7 1154.0,783.8 C1156.0,782.8 1158.0,781.8 1160.0,780.9 C1162.0,780.0 1164.0,779.2 1166.0,778.4 C1168.0,777.6 1170.0,776.8 1172.0,776.1 C1174.0,775.3 1176.0,774.5 1178.0,773.7 C1180.0,772.9 1182.0,772.1 1184.0,771.4 C1186.0,770.6 1188.0,769.8 1190.0,769.0 C1192.0,768.2 1194.0,767.4 1196.0,766.7 C1198.0,765.9 1200.0,765.1 1202.0,764.3 C1204.0,763.5 1206.0,762.7 1208.0,761.9 C1210.0,761.1 1212.0,760.2 1214.0,759.4 C1216.0,758.6 1218.0,757.7 1220.0,756.9 C1222.0,756.1 1224.0,755.6 1226.0,754.4 C1228.0,753.3 1230.0,751.6 1232.0,750.2 C1234.0,748.7 1236.0,747.0 1238.0,745.6 C1240.0,744.2 1242.0,743.0 1244.0,741.8 C1246.0,740.6 1248.0,739.6 1250.0,738.5 C1252.0,737.3 1254.0,736.2 1256.0,735.1 C1258.0,733.9 1260.0,732.8 1262.0,731.7 C1264.0,730.6 1266.0,729.5 1268.0,728.4 C1270.0,727.3 1272.0,726.2 1274.0,725.1 C1276.0,724.0 1278.0,722.9 1280.0,721.8 C1282.0,720.7 1284.0,719.6 1286.0,718.5 C1288.0,717.4 1290.0,716.3 1292.0,715.2 C1294.0,714.1 1296.0,713.0 1298.0,711.9 C1300.0,710.8 1302.0,709.7 1304.0,708.6 C1306.0,707.6 1308.0,706.5 1310.0,705.5 C1312.0,704.4 1314.0,703.4 1316.0,702.3 C1318.0,701.3 1321.0,699.7 1322.0,699.2" fill="none" stroke="#7fe6cf" stroke-width="1.3"/>
<path d="M960.0,789.7 C961.0,790.1 964.0,791.1 966.0,791.8 C968.0,792.5 970.0,793.2 972.0,793.9 C974.0,794.6 976.0,795.4 978.0,796.1 C980.0,796.9 982.0,797.6 984.0,798.4 C986.0,799.1 988.0,800.0 990.0,800.6 C992.0,801.2 994.0,801.6 996.0,802.0 C998.0,802.5 1000.0,802.9 1002.0,803.3 C1004.0,803.8 1006.0,804.2 1008.0,804.6 C1010.0,805.0 1012.0,805.4 1014.0,805.8 C1016.0,806.2 1018.0,806.7 1020.0,807.1 C1022.0,807.4 1024.0,807.7 1026.0,808.0 C1028.0,808.3 1030.0,808.6 1032.0,808.8 C1034.0,809.1 1036.0,809.4 1038.0,809.6 C1040.0,809.9 1042.0,810.3 1044.0,810.5 C1046.0,810.6 1048.0,810.6 1050.0,810.6 C1052.0,810.6 1054.0,810.6 1056.0,810.6 C1058.0,810.6 1060.0,810.7 1062.0,810.6 C1064.0,810.5 1066.0,810.5 1068.0,810.2 C1070.0,810.0 1072.0,809.4 1074.0,809.1 C1076.0,808.7 1078.0,808.3 1080.0,807.9 C1082.0,807.5 1084.0,807.1 1086.0,806.7 C1088.0,806.3 1090.0,805.9 1092.0,805.4 C1094.0,805.0 1096.0,804.6 1098.0,804.2 C1100.0,803.8 1102.0,803.5 1104.0,803.1 C1106.0,802.7 1108.0,802.4 1110.0,802.0 C1112.0,801.7 1114.0,801.4 1116.0,800.9 C1118.0,800.5 1120.0,800.0 1122.0,799.3 C1124.0,798.6 1126.0,797.7 1128.0,796.7 C1130.0,795.8 1133.0,794.3 1134.0,793.9" fill="none" stroke="#a8e8b0" stroke-width="1" opacity="0.8"/>
<path d="M740.0,629.2 C741.0,629.8 744.0,631.5 746.0,632.7 C748.0,633.8 750.0,634.8 752.0,636.1 C754.0,637.4 756.0,639.2 758.0,640.6 C760.0,642.1 762.0,643.6 764.0,645.0 C766.0,646.4 768.0,647.6 770.0,648.9 C772.0,650.2 774.0,651.6 776.0,653.0 C778.0,654.3 780.0,655.6 782.0,657.2 C784.0,658.7 786.0,660.5 788.0,662.3 C790.0,664.0 792.0,665.9 794.0,667.6 C796.0,669.3 798.0,670.8 800.0,672.3 C802.0,673.9 804.0,675.4 806.0,677.0 C808.0,678.6 810.0,680.0 812.0,681.7 C814.0,683.4 816.0,684.9 818.0,687.2 C820.0,689.4 822.0,692.5 824.0,695.2 C826.0,697.9 828.0,700.9 830.0,703.1 C832.0,705.3 834.0,706.8 836.0,708.3 C838.0,709.9 840.0,710.8 842.0,712.2 C844.0,713.6 846.0,714.9 848.0,716.6 C850.0,718.3 852.0,720.4 854.0,722.2 C856.0,724.1 858.0,726.2 860.0,727.8 C862.0,729.5 864.0,730.8 866.0,732.3 C868.0,733.8 870.0,735.5 872.0,736.9 C874.0,738.4 876.0,739.9 878.0,740.9 C880.0,741.9 882.0,742.1 884.0,742.7 C886.0,743.3 888.0,743.7 890.0,744.4 C892.0,745.2 894.0,746.3 896.0,747.3 C898.0,748.3 900.0,749.4 902.0,750.5 C904.0,751.5 906.0,752.5 908.0,753.5 C910.0,754.4 912.0,755.3 914.0,756.3 C916.0,757.2 918.0,758.2 920.0,759.1 C922.0,760.0 924.0,760.9 926.0,761.7 C928.0,762.5 930.0,763.3 932.0,764.0 C934.0,764.8 936.0,765.4 938.0,766.3 C940.0,767.2 942.0,768.3 944.0,769.4 C946.0,770.4 948.0,771.8 950.0,772.8 C952.0,773.8 954.0,774.6 956.0,775.4 C958.0,776.2 960.0,776.9 962.0,777.6 C964.0,778.3 966.0,779.1 968.0,779.8 C970.0,780.6 972.0,781.3 974.0,782.1 C976.0,782.8 978.0,783.4 980.0,784.1 C982.0,784.8 984.0,785.5 986.0,786.2 C988.0,786.9 990.0,787.6 992.0,788.1 C994.0,788.7 996.0,789.0 998.0,789.4 C1000.0,789.9 1002.0,790.3 1004.0,790.7 C1006.0,791.1 1008.0,791.6 1010.0,792.0 C1012.0,792.4 1014.0,792.8 1016.0,793.2 C1018.0,793.6 1020.0,794.1 1022.0,794.4 C1024.0,794.6 1026.0,794.5 1028.0,794.5 C1030.0,794.5 1032.0,794.5 1034.0,794.6 C1036.0,794.6 1038.0,794.6 1040.0,794.7 C1042.0,794.7 1044.0,794.7 1046.0,794.6 C1048.0,794.6 1050.0,794.4 1052.0,794.2 C1054.0,794.1 1056.0,793.9 1058.0,793.8 C1060.0,793.6 1062.0,793.5 1064.0,793.3 C1066.0,793.1 1068.0,792.7 1070.0,792.3 C1072.0,791.9 1074.0,791.4 1076.0,791.0 C1078.0,790.5 1080.0,790.1 1082.0,789.6 C1084.0,789.2 1086.0,788.8 1088.0,788.3 C1090.0,787.8 1092.0,787.2 1094.0,786.7 C1096.0,786.2 1098.0,785.6 1100.0,785.1 C1102.0,784.6 1104.0,784.1 1106.0,783.6 C1108.0,783.1 1110.0,782.6 1112.0,782.1 C1114.0,781.6 1116.0,781.2 1118.0,780.6 C1120.0,780.1 1122.0,779.4 1124.0,778.7 C1126.0,778.0 1128.0,777.2 1130.0,776.4 C1132.0,775.6 1134.0,774.7 1136.0,773.8 C1138.0,772.9 1140.0,772.0 1142.0,771.1 C1144.0,770.2 1146.0,769.3 1148.0,768.4 C1150.0,767.5 1152.0,766.7 1154.0,765.8 C1156.0,765.0 1158.0,764.1 1160.0,763.3 C1162.0,762.5 1164.0,761.8 1166.0,761.1 C1168.0,760.4 1170.0,759.8 1172.0,759.2 C1174.0,758.5 1176.0,757.8 1178.0,757.2 C1180.0,756.5 1182.0,755.9 1184.0,755.2 C1186.0,754.4 1188.0,753.6 1190.0,752.8 C1192.0,752.0 1194.0,751.2 1196.0,750.4 C1198.0,749.7 1200.0,748.8 1202.0,748.1 C1204.0,747.3 1206.0,746.5 1208.0,745.8 C1210.0,745.1 1212.0,744.3 1214.0,743.6 C1216.0,742.9 1218.0,742.1 1220.0,741.4 C1222.0,740.7 1224.0,740.2 1226.0,739.2 C1228.0,738.3 1230.0,737.0 1232.0,735.8 C1234.0,734.7 1236.0,733.4 1238.0,732.2 C1240.0,731.1 1242.0,730.2 1244.0,729.2 C1246.0,728.2 1248.0,727.4 1250.0,726.4 C1252.0,725.4 1254.0,724.4 1256.0,723.4 C1258.0,722.4 1260.0,721.3 1262.0,720.3 C1264.0,719.3 1266.0,718.3 1268.0,717.3 C1270.0,716.3 1272.0,715.3 1274.0,714.3 C1276.0,713.3 1278.0,712.4 1280.0,711.4 C1282.0,710.4 1284.0,709.5 1286.0,708.5 C1288.0,707.5 1290.0,706.6 1292.0,705.6 C1294.0,704.6 1296.0,703.6 1298.0,702.6 C1300.0,701.5 1302.0,700.5 1304.0,699.4 C1306.0,698.4 1308.0,697.3 1310.0,696.3 C1312.0,695.3 1315.0,693.7 1316.0,693.2" fill="none" stroke="#b8e8a8" stroke-width="0.7" opacity="0.35"/>
<path d="M740.0,636.8 C741.0,637.5 744.0,639.4 746.0,640.6 C748.0,641.9 750.0,643.1 752.0,644.5 C754.0,645.9 756.0,647.7 758.0,649.2 C760.0,650.8 762.0,652.3 764.0,653.7 C766.0,655.2 768.0,656.4 770.0,657.8 C772.0,659.2 774.0,660.6 776.0,662.1 C778.0,663.7 780.0,665.2 782.0,666.9 C784.0,668.6 786.0,670.6 788.0,672.4 C790.0,674.3 792.0,676.2 794.0,678.0 C796.0,679.8 798.0,681.4 800.0,683.2 C802.0,684.9 804.0,686.6 806.0,688.3 C808.0,690.0 810.0,691.6 812.0,693.4 C814.0,695.2 816.0,696.9 818.0,699.0 C820.0,701.0 822.0,703.6 824.0,705.9 C826.0,708.2 828.0,710.7 830.0,712.7 C832.0,714.8 834.0,716.5 836.0,718.1 C838.0,719.7 840.0,720.9 842.0,722.4 C844.0,723.9 846.0,725.5 848.0,727.1 C850.0,728.7 852.0,730.5 854.0,732.0 C856.0,733.5 858.0,734.8 860.0,736.1 C862.0,737.4 864.0,738.2 866.0,739.6 C868.0,741.0 870.0,742.9 872.0,744.5 C874.0,746.1 876.0,747.9 878.0,749.0 C880.0,750.1 882.0,750.4 884.0,751.1 C886.0,751.8 888.0,752.4 890.0,753.1 C892.0,753.9 894.0,754.8 896.0,755.7 C898.0,756.6 900.0,757.5 902.0,758.5 C904.0,759.4 906.0,760.4 908.0,761.3 C910.0,762.3 912.0,763.3 914.0,764.2 C916.0,765.2 918.0,766.2 920.0,767.1 C922.0,768.1 924.0,769.0 926.0,769.9 C928.0,770.8 930.0,771.6 932.0,772.4 C934.0,773.2 936.0,773.9 938.0,774.9 C940.0,775.9 942.0,777.2 944.0,778.5 C946.0,779.8 948.0,781.5 950.0,782.6 C952.0,783.8 954.0,784.5 956.0,785.3 C958.0,786.1 960.0,786.8 962.0,787.5 C964.0,788.2 966.0,788.9 968.0,789.7 C970.0,790.4 972.0,791.1 974.0,791.8 C976.0,792.5 978.0,793.3 980.0,794.0 C982.0,794.7 984.0,795.5 986.0,796.1 C988.0,796.8 990.0,797.6 992.0,798.1 C994.0,798.7 996.0,799.0 998.0,799.4 C1000.0,799.9 1002.0,800.3 1004.0,800.7 C1006.0,801.2 1008.0,801.6 1010.0,802.0 C1012.0,802.4 1014.0,802.8 1016.0,803.2 C1018.0,803.6 1020.0,804.1 1022.0,804.4 C1024.0,804.7 1026.0,804.8 1028.0,804.9 C1030.0,805.1 1032.0,805.3 1034.0,805.4 C1036.0,805.6 1038.0,805.8 1040.0,805.9 C1042.0,806.1 1044.0,806.2 1046.0,806.3 C1048.0,806.3 1050.0,806.2 1052.0,806.1 C1054.0,806.0 1056.0,806.0 1058.0,805.9 C1060.0,805.8 1062.0,805.9 1064.0,805.7 C1066.0,805.5 1068.0,805.2 1070.0,804.8 C1072.0,804.5 1074.0,804.0 1076.0,803.6 C1078.0,803.2 1080.0,802.8 1082.0,802.3 C1084.0,801.9 1086.0,801.5 1088.0,801.1 C1090.0,800.6 1092.0,800.1 1094.0,799.7 C1096.0,799.2 1098.0,798.7 1100.0,798.3 C1102.0,797.9 1104.0,797.4 1106.0,797.0 C1108.0,796.6 1110.0,796.1 1112.0,795.7 C1114.0,795.3 1116.0,795.0 1118.0,794.5 C1120.0,793.9 1122.0,793.2 1124.0,792.5 C1126.0,791.7 1128.0,790.9 1130.0,790.0 C1132.0,789.1 1134.0,788.1 1136.0,787.1 C1138.0,786.1 1140.0,785.0 1142.0,784.0 C1144.0,783.0 1146.0,782.0 1148.0,781.1 C1150.0,780.1 1152.0,779.2 1154.0,778.3 C1156.0,777.4 1158.0,776.4 1160.0,775.6 C1162.0,774.7 1164.0,774.0 1166.0,773.2 C1168.0,772.5 1170.0,771.8 1172.0,771.1 C1174.0,770.3 1176.0,769.6 1178.0,768.9 C1180.0,768.1 1182.0,767.4 1184.0,766.7 C1186.0,765.9 1188.0,765.1 1190.0,764.3 C1192.0,763.5 1194.0,762.7 1196.0,762.0 C1198.0,761.2 1200.0,760.4 1202.0,759.6 C1204.0,758.8 1206.0,758.0 1208.0,757.2 C1210.0,756.5 1212.0,755.7 1214.0,754.9 C1216.0,754.1 1218.0,753.3 1220.0,752.5 C1222.0,751.7 1224.0,751.2 1226.0,750.2 C1228.0,749.1 1230.0,747.6 1232.0,746.3 C1234.0,745.0 1236.0,743.4 1238.0,742.2 C1240.0,740.9 1242.0,739.8 1244.0,738.7 C1246.0,737.6 1248.0,736.7 1250.0,735.6 C1252.0,734.5 1254.0,733.5 1256.0,732.4 C1258.0,731.3 1260.0,730.2 1262.0,729.1 C1264.0,728.1 1266.0,727.0 1268.0,726.0 C1270.0,724.9 1272.0,723.8 1274.0,722.8 C1276.0,721.7 1278.0,720.7 1280.0,719.7 C1282.0,718.6 1284.0,717.6 1286.0,716.6 C1288.0,715.5 1290.0,714.5 1292.0,713.4 C1294.0,712.4 1296.0,711.3 1298.0,710.3 C1300.0,709.2 1302.0,708.1 1304.0,707.0 C1306.0,706.0 1308.0,704.9 1310.0,703.9 C1312.0,702.8 1315.0,701.3 1316.0,700.8" fill="none" stroke="#b8e8a8" stroke-width="0.7" opacity="0.35"/>
<path d="M433.8,515.4L440.2,502.6L446.6,515.4Z" fill="#f00"/>
<path d="M666.0,593.9L672.6,580.1L679.2,593.9Z" fill="#f00"/>
<path d="M847.9,749.0L854.5,737.0L861.1,749.0Z" fill="#f00"/>
<path d="M1067.0,825.1L1073.7,813.3L1080.4,825.1Z" fill="#f00"/>
<path d="M1275.3,717.5L1282.0,704.9L1288.7,717.5Z" fill="#f00"/>
<rect x="738.5" y="610.8" width="139.5" height="165.80000000000007" fill="none" stroke="#f00" stroke-width="2.2"/>
<rect x="992.5" y="713.1" width="239.0999999999999" height="126.60000000000002" fill="none" stroke="#f00" stroke-width="2.2"/>
<text x="406.0" y="544.5" class="lbn" style="font-size:36.8px" textLength="55.57" lengthAdjust="spacingAndGlyphs">313</text>
<text x="681.0" y="572.0" class="lbn" style="font-size:36.8px" textLength="56.13" lengthAdjust="spacingAndGlyphs">312</text>
<text x="781.0" y="752.0" class="lbn" style="font-size:36.8px" textLength="54.21" lengthAdjust="spacingAndGlyphs">311</text>
<text x="1100.0" y="834.5" class="lbn" style="font-size:36.8px" textLength="54.56" lengthAdjust="spacingAndGlyphs">310</text>
<text x="1251.5" y="769.0" class="lbn" style="font-size:36.8px" textLength="56.08" lengthAdjust="spacingAndGlyphs">309</text>
<text x="770.0" y="586.5" class="lb" style="font-size:38.0px" textLength="95.56" lengthAdjust="spacingAndGlyphs">Area 1</text>
<text x="1054.0" y="684.5" class="lb" style="font-size:38.0px" textLength="99.05" lengthAdjust="spacingAndGlyphs">Area 2</text>
<text x="1293.0" y="523.5" class="lb" style="font-size:44.5px" textLength="50.31" lengthAdjust="spacingAndGlyphs">(b)</text>
<path d="M142.5,480.10h3.5M1354.5,480.10h-3.5" stroke="#505050" stroke-width="0.9"/>
<text x="139" y="490.0" text-anchor="end" class="tk" textLength="105.5" lengthAdjust="spacingAndGlyphs">4.34125</text>
<path d="M142.5,488.54h2M1354.5,488.54h-2" stroke="#505050" stroke-width="0.7"/>
<path d="M142.5,496.99h2M1354.5,496.99h-2" stroke="#505050" stroke-width="0.7"/>
<path d="M142.5,505.43h2M1354.5,505.43h-2" stroke="#505050" stroke-width="0.7"/>
<path d="M142.5,513.88h2M1354.5,513.88h-2" stroke="#505050" stroke-width="0.7"/>
<path d="M142.5,522.32h3.5M1354.5,522.32h-3.5" stroke="#505050" stroke-width="0.9"/>
<text x="139" y="532.2" text-anchor="end" class="tk" textLength="105.5" lengthAdjust="spacingAndGlyphs">4.34100</text>
<path d="M142.5,530.77h2M1354.5,530.77h-2" stroke="#505050" stroke-width="0.7"/>
<path d="M142.5,539.21h2M1354.5,539.21h-2" stroke="#505050" stroke-width="0.7"/>
<path d="M142.5,547.66h2M1354.5,547.66h-2" stroke="#505050" stroke-width="0.7"/>
<path d="M142.5,556.10h2M1354.5,556.10h-2" stroke="#505050" stroke-width="0.7"/>
<path d="M142.5,564.54h3.5M1354.5,564.54h-3.5" stroke="#505050" stroke-width="0.9"/>
<text x="139" y="574.4" text-anchor="end" class="tk" textLength="105.5" lengthAdjust="spacingAndGlyphs">4.34075</text>
<path d="M142.5,572.99h2M1354.5,572.99h-2" stroke="#505050" stroke-width="0.7"/>
<path d="M142.5,581.43h2M1354.5,581.43h-2" stroke="#505050" stroke-width="0.7"/>
<path d="M142.5,589.88h2M1354.5,589.88h-2" stroke="#505050" stroke-width="0.7"/>
<path d="M142.5,598.32h2M1354.5,598.32h-2" stroke="#505050" stroke-width="0.7"/>
<path d="M142.5,606.77h3.5M1354.5,606.77h-3.5" stroke="#505050" stroke-width="0.9"/>
<text x="139" y="616.7" text-anchor="end" class="tk" textLength="105.5" lengthAdjust="spacingAndGlyphs">4.34050</text>
<path d="M142.5,615.21h2M1354.5,615.21h-2" stroke="#505050" stroke-width="0.7"/>
<path d="M142.5,623.66h2M1354.5,623.66h-2" stroke="#505050" stroke-width="0.7"/>
<path d="M142.5,632.10h2M1354.5,632.10h-2" stroke="#505050" stroke-width="0.7"/>
<path d="M142.5,640.54h2M1354.5,640.54h-2" stroke="#505050" stroke-width="0.7"/>
<path d="M142.5,648.99h3.5M1354.5,648.99h-3.5" stroke="#505050" stroke-width="0.9"/>
<text x="139" y="658.9" text-anchor="end" class="tk" textLength="105.5" lengthAdjust="spacingAndGlyphs">4.34025</text>
<path d="M142.5,657.43h2M1354.5,657.43h-2" stroke="#505050" stroke-width="0.7"/>
<path d="M142.5,665.88h2M1354.5,665.88h-2" stroke="#505050" stroke-width="0.7"/>
<path d="M142.5,674.32h2M1354.5,674.32h-2" stroke="#505050" stroke-width="0.7"/>
<path d="M142.5,682.77h2M1354.5,682.77h-2" stroke="#505050" stroke-width="0.7"/>
<path d="M142.5,691.21h3.5M1354.5,691.21h-3.5" stroke="#505050" stroke-width="0.9"/>
<text x="139" y="701.1" text-anchor="end" class="tk" textLength="105.5" lengthAdjust="spacingAndGlyphs">4.34000</text>
<path d="M142.5,699.66h2M1354.5,699.66h-2" stroke="#505050" stroke-width="0.7"/>
<path d="M142.5,708.10h2M1354.5,708.10h-2" stroke="#505050" stroke-width="0.7"/>
<path d="M142.5,716.54h2M1354.5,716.54h-2" stroke="#505050" stroke-width="0.7"/>
<path d="M142.5,724.99h2M1354.5,724.99h-2" stroke="#505050" stroke-width="0.7"/>
<path d="M142.5,733.43h3.5M1354.5,733.43h-3.5" stroke="#505050" stroke-width="0.9"/>
<text x="139" y="743.3" text-anchor="end" class="tk" textLength="105.5" lengthAdjust="spacingAndGlyphs">4.33975</text>
<path d="M142.5,741.88h2M1354.5,741.88h-2" stroke="#505050" stroke-width="0.7"/>
<path d="M142.5,750.32h2M1354.5,750.32h-2" stroke="#505050" stroke-width="0.7"/>
<path d="M142.5,758.77h2M1354.5,758.77h-2" stroke="#505050" stroke-width="0.7"/>
<path d="M142.5,767.21h2M1354.5,767.21h-2" stroke="#505050" stroke-width="0.7"/>
<path d="M142.5,775.66h3.5M1354.5,775.66h-3.5" stroke="#505050" stroke-width="0.9"/>
<text x="139" y="785.6" text-anchor="end" class="tk" textLength="105.5" lengthAdjust="spacingAndGlyphs">4.33950</text>
<path d="M142.5,784.10h2M1354.5,784.10h-2" stroke="#505050" stroke-width="0.7"/>
<path d="M142.5,792.54h2M1354.5,792.54h-2" stroke="#505050" stroke-width="0.7"/>
<path d="M142.5,800.99h2M1354.5,800.99h-2" stroke="#505050" stroke-width="0.7"/>
<path d="M142.5,809.43h2M1354.5,809.43h-2" stroke="#505050" stroke-width="0.7"/>
<path d="M142.5,817.88h3.5M1354.5,817.88h-3.5" stroke="#505050" stroke-width="0.9"/>
<text x="139" y="827.8" text-anchor="end" class="tk" textLength="105.5" lengthAdjust="spacingAndGlyphs">4.33925</text>
<path d="M142.5,826.32h2M1354.5,826.32h-2" stroke="#505050" stroke-width="0.7"/>
<path d="M142.5,834.77h2M1354.5,834.77h-2" stroke="#505050" stroke-width="0.7"/>
<path d="M142.5,843.21h2M1354.5,843.21h-2" stroke="#505050" stroke-width="0.7"/>
<path d="M142.5,851.66h2M1354.5,851.66h-2" stroke="#505050" stroke-width="0.7"/>
<path d="M142.5,860.10h3.5M1354.5,860.10h-3.5" stroke="#505050" stroke-width="0.9"/>
<text x="139" y="870.0" text-anchor="end" class="tk" textLength="105.5" lengthAdjust="spacingAndGlyphs">4.33900</text>
<path d="M157.04,860.1v-2M157.04,480.1v2" stroke="#505050" stroke-width="0.7"/>
<path d="M186.26,860.1v-2M186.26,480.1v2" stroke="#505050" stroke-width="0.7"/>
<path d="M215.48,860.1v-2M215.48,480.1v2" stroke="#505050" stroke-width="0.7"/>
<path d="M244.70,860.1v-3.5M244.70,480.1v3.5" stroke="#505050" stroke-width="0.9"/>
<text x="244.7" y="883.8" text-anchor="middle" class="tk" textLength="98.6" lengthAdjust="spacingAndGlyphs">427000</text>
<path d="M273.92,860.1v-2M273.92,480.1v2" stroke="#505050" stroke-width="0.7"/>
<path d="M303.14,860.1v-2M303.14,480.1v2" stroke="#505050" stroke-width="0.7"/>
<path d="M332.36,860.1v-2M332.36,480.1v2" stroke="#505050" stroke-width="0.7"/>
<path d="M361.58,860.1v-2M361.58,480.1v2" stroke="#505050" stroke-width="0.7"/>
<path d="M390.80,860.1v-3.5M390.80,480.1v3.5" stroke="#505050" stroke-width="0.9"/>
<text x="390.8" y="883.8" text-anchor="middle" class="tk" textLength="98.6" lengthAdjust="spacingAndGlyphs">428000</text>
<path d="M420.02,860.1v-2M420.02,480.1v2" stroke="#505050" stroke-width="0.7"/>
<path d="M449.24,860.1v-2M449.24,480.1v2" stroke="#505050" stroke-width="0.7"/>
<path d="M478.46,860.1v-2M478.46,480.1v2" stroke="#505050" stroke-width="0.7"/>
<path d="M507.68,860.1v-2M507.68,480.1v2" stroke="#505050" stroke-width="0.7"/>
<path d="M536.90,860.1v-3.5M536.90,480.1v3.5" stroke="#505050" stroke-width="0.9"/>
<text x="536.9" y="883.8" text-anchor="middle" class="tk" textLength="98.6" lengthAdjust="spacingAndGlyphs">429000</text>
<path d="M566.12,860.1v-2M566.12,480.1v2" stroke="#505050" stroke-width="0.7"/>
<path d="M595.34,860.1v-2M595.34,480.1v2" stroke="#505050" stroke-width="0.7"/>
<path d="M624.56,860.1v-2M624.56,480.1v2" stroke="#505050" stroke-width="0.7"/>
<path d="M653.78,860.1v-2M653.78,480.1v2" stroke="#505050" stroke-width="0.7"/>
<path d="M683.00,860.1v-3.5M683.00,480.1v3.5" stroke="#505050" stroke-width="0.9"/>
<text x="683.0" y="883.8" text-anchor="middle" class="tk" textLength="98.6" lengthAdjust="spacingAndGlyphs">430000</text>
<path d="M712.22,860.1v-2M712.22,480.1v2" stroke="#505050" stroke-width="0.7"/>
<path d="M741.44,860.1v-2M741.44,480.1v2" stroke="#505050" stroke-width="0.7"/>
<path d="M770.66,860.1v-2M770.66,480.1v2" stroke="#505050" stroke-width="0.7"/>
<path d="M799.88,860.1v-2M799.88,480.1v2" stroke="#505050" stroke-width="0.7"/>
<path d="M829.10,860.1v-3.5M829.10,480.1v3.5" stroke="#505050" stroke-width="0.9"/>
<text x="829.1" y="883.8" text-anchor="middle" class="tk" textLength="98.6" lengthAdjust="spacingAndGlyphs">431000</text>
<path d="M858.32,860.1v-2M858.32,480.1v2" stroke="#505050" stroke-width="0.7"/>
<path d="M887.54,860.1v-2M887.54,480.1v2" stroke="#505050" stroke-width="0.7"/>
<path d="M916.76,860.1v-2M916.76,480.1v2" stroke="#505050" stroke-width="0.7"/>
<path d="M945.98,860.1v-2M945.98,480.1v2" stroke="#505050" stroke-width="0.7"/>
<path d="M975.20,860.1v-3.5M975.20,480.1v3.5" stroke="#505050" stroke-width="0.9"/>
<text x="975.2" y="883.8" text-anchor="middle" class="tk" textLength="98.6" lengthAdjust="spacingAndGlyphs">432000</text>
<path d="M1004.42,860.1v-2M1004.42,480.1v2" stroke="#505050" stroke-width="0.7"/>
<path d="M1033.64,860.1v-2M1033.64,480.1v2" stroke="#505050" stroke-width="0.7"/>
<path d="M1062.86,860.1v-2M1062.86,480.1v2" stroke="#505050" stroke-width="0.7"/>
<path d="M1092.08,860.1v-2M1092.08,480.1v2" stroke="#505050" stroke-width="0.7"/>
<path d="M1121.30,860.1v-3.5M1121.30,480.1v3.5" stroke="#505050" stroke-width="0.9"/>
<text x="1121.3" y="883.8" text-anchor="middle" class="tk" textLength="98.6" lengthAdjust="spacingAndGlyphs">433000</text>
<path d="M1150.52,860.1v-2M1150.52,480.1v2" stroke="#505050" stroke-width="0.7"/>
<path d="M1179.74,860.1v-2M1179.74,480.1v2" stroke="#505050" stroke-width="0.7"/>
<path d="M1208.96,860.1v-2M1208.96,480.1v2" stroke="#505050" stroke-width="0.7"/>
<path d="M1238.18,860.1v-2M1238.18,480.1v2" stroke="#505050" stroke-width="0.7"/>
<path d="M1267.40,860.1v-3.5M1267.40,480.1v3.5" stroke="#505050" stroke-width="0.9"/>
<text x="1267.4" y="883.8" text-anchor="middle" class="tk" textLength="98.6" lengthAdjust="spacingAndGlyphs">434000</text>
<path d="M1296.62,860.1v-2M1296.62,480.1v2" stroke="#505050" stroke-width="0.7"/>
<path d="M1325.84,860.1v-2M1325.84,480.1v2" stroke="#505050" stroke-width="0.7"/>
<rect x="142.5" y="480.1" width="1212.0" height="380.0" fill="none" stroke="#505050" stroke-width="1"/>
<text x="143" y="481.8" class="tk" style="font-size:30px" textLength="15.5" lengthAdjust="spacingAndGlyphs">×</text>
<text x="159.2" y="477.1" class="tk" style="font-size:24.4px" textLength="27.3" lengthAdjust="spacingAndGlyphs">10</text>
<text x="187.2" y="469.5" class="tk" style="font-size:17.5px" textLength="10" lengthAdjust="spacingAndGlyphs">6</text>
<text x="748.6" y="913.6" text-anchor="middle" class="tk" textLength="151" lengthAdjust="spacingAndGlyphs">Easting (m)</text>
<text transform="translate(23.3,669.9) rotate(-90)" text-anchor="middle" class="tk" textLength="169" lengthAdjust="spacingAndGlyphs">Northing (m)</text>
<rect x="1430.3" y="835.69" width="19.4" height="7.21" fill="#a04dff"/>
<rect x="1430.3" y="828.78" width="19.4" height="7.21" fill="#9859ff"/>
<rect x="1430.3" y="821.88" width="19.4" height="7.21" fill="#9164fe"/>
<rect x="1430.3" y="814.97" width="19.4" height="7.21" fill="#896ffe"/>
<rect x="1430.3" y="808.06" width="19.4" height="7.21" fill="#827bfd"/>
<rect x="1430.3" y="801.15" width="19.4" height="7.21" fill="#7b86fc"/>
<rect x="1430.3" y="794.24" width="19.4" height="7.21" fill="#7390fb"/>
<rect x="1430.3" y="787.34" width="19.4" height="7.21" fill="#6c9bfa"/>
<rect x="1430.3" y="780.43" width="19.4" height="7.21" fill="#65a5f8"/>
<rect x="1430.3" y="773.52" width="19.4" height="7.21" fill="#5daff7"/>
<rect x="1430.3" y="766.61" width="19.4" height="7.21" fill="#56b8f5"/>
<rect x="1430.3" y="759.70" width="19.4" height="7.21" fill="#4fc1f3"/>
<rect x="1430.3" y="752.80" width="19.4" height="7.21" fill="#47c9f1"/>
<rect x="1430.3" y="745.89" width="19.4" height="7.21" fill="#4fd1ef"/>
<rect x="1430.3" y="738.98" width="19.4" height="7.21" fill="#56d8ec"/>
<rect x="1430.3" y="732.07" width="19.4" height="7.21" fill="#5ddfea"/>
<rect x="1430.3" y="725.16" width="19.4" height="7.21" fill="#65e5e7"/>
<rect x="1430.3" y="718.26" width="19.4" height="7.21" fill="#6cebe4"/>
<rect x="1430.3" y="711.35" width="19.4" height="7.21" fill="#73f0e1"/>
<rect x="1430.3" y="704.44" width="19.4" height="7.21" fill="#7bf4de"/>
<rect x="1430.3" y="697.53" width="19.4" height="7.21" fill="#82f8da"/>
<rect x="1430.3" y="690.62" width="19.4" height="7.21" fill="#89fbd7"/>
<rect x="1430.3" y="683.72" width="19.4" height="7.21" fill="#91fdd3"/>
<rect x="1430.3" y="676.81" width="19.4" height="7.21" fill="#98fecf"/>
<rect x="1430.3" y="669.90" width="19.4" height="7.21" fill="#a0ffcb"/>
<rect x="1430.3" y="662.99" width="19.4" height="7.21" fill="#a7ffc7"/>
<rect x="1430.3" y="656.08" width="19.4" height="7.21" fill="#aefec3"/>
<rect x="1430.3" y="649.18" width="19.4" height="7.21" fill="#b6fdbf"/>
<rect x="1430.3" y="642.27" width="19.4" height="7.21" fill="#bdfbba"/>
<rect x="1430.3" y="635.36" width="19.4" height="7.21" fill="#c4f8b6"/>
<rect x="1430.3" y="628.45" width="19.4" height="7.21" fill="#ccf4b1"/>
<rect x="1430.3" y="621.54" width="19.4" height="7.21" fill="#d3f0ac"/>
<rect x="1430.3" y="614.64" width="19.4" height="7.21" fill="#daeba7"/>
<rect x="1430.3" y="607.73" width="19.4" height="7.21" fill="#e2e5a2"/>
<rect x="1430.3" y="600.82" width="19.4" height="7.21" fill="#e9df9d"/>
<rect x="1430.3" y="593.91" width="19.4" height="7.21" fill="#f0d898"/>
<rect x="1430.3" y="587.00" width="19.4" height="7.21" fill="#f8d193"/>
<rect x="1430.3" y="580.10" width="19.4" height="7.21" fill="#ffc98e"/>
<rect x="1430.3" y="573.19" width="19.4" height="7.21" fill="#ffc188"/>
<rect x="1430.3" y="566.28" width="19.4" height="7.21" fill="#ffb883"/>
<rect x="1430.3" y="559.37" width="19.4" height="7.21" fill="#ffaf7d"/>
<rect x="1430.3" y="552.46" width="19.4" height="7.21" fill="#ffa578"/>
<rect x="1430.3" y="545.56" width="19.4" height="7.21" fill="#ff9b72"/>
<rect x="1430.3" y="538.65" width="19.4" height="7.21" fill="#ff906d"/>
<rect x="1430.3" y="531.74" width="19.4" height="7.21" fill="#ff8667"/>
<rect x="1430.3" y="524.83" width="19.4" height="7.21" fill="#ff7b61"/>
<rect x="1430.3" y="517.92" width="19.4" height="7.21" fill="#ff6f5c"/>
<rect x="1430.3" y="511.02" width="19.4" height="7.21" fill="#ff6456"/>
<rect x="1430.3" y="504.11" width="19.4" height="7.21" fill="#ff5950"/>
<rect x="1430.3" y="497.20" width="19.4" height="7.21" fill="#ff4d4a"/>
<path d="M1430.3,497.50000000000006L1440.0,480.3L1449.7,497.50000000000006Z" fill="#ff4747"/>
<path d="M1430.3,842.3000000000001L1440.0,859.6L1449.7,842.3000000000001Z" fill="#a347ff"/>
<path d="M1430.3,497.20000000000005L1440.0,480.3L1449.7,497.20000000000005L1449.7,842.6L1440.0,859.6L1430.3,842.6Z" fill="none" stroke="#333" stroke-width="0.8"/>
<path d="M1449.7,497.20h4" stroke="#222" stroke-width="0.9"/>
<text x="1456.6" y="506.2" class="tks" textLength="41" lengthAdjust="spacingAndGlyphs">210</text>
<path d="M1449.7,583.55h4" stroke="#222" stroke-width="0.9"/>
<text x="1456.6" y="592.6" class="tks" textLength="41" lengthAdjust="spacingAndGlyphs">205</text>
<path d="M1449.7,669.90h4" stroke="#222" stroke-width="0.9"/>
<text x="1456.6" y="678.9" class="tks" textLength="41" lengthAdjust="spacingAndGlyphs">200</text>
<path d="M1449.7,756.25h4" stroke="#222" stroke-width="0.9"/>
<text x="1456.6" y="765.2" class="tks" textLength="41" lengthAdjust="spacingAndGlyphs">195</text>
<path d="M1449.7,842.60h4" stroke="#222" stroke-width="0.9"/>
<text x="1456.6" y="851.6" class="tks" textLength="41" lengthAdjust="spacingAndGlyphs">190</text>
<text transform="translate(1412.3,707.7) rotate(-90)" text-anchor="middle" class="tnr" textLength="260.8" lengthAdjust="spacingAndGlyphs">Bed elevation (m)</text>
</svg></body></html>
